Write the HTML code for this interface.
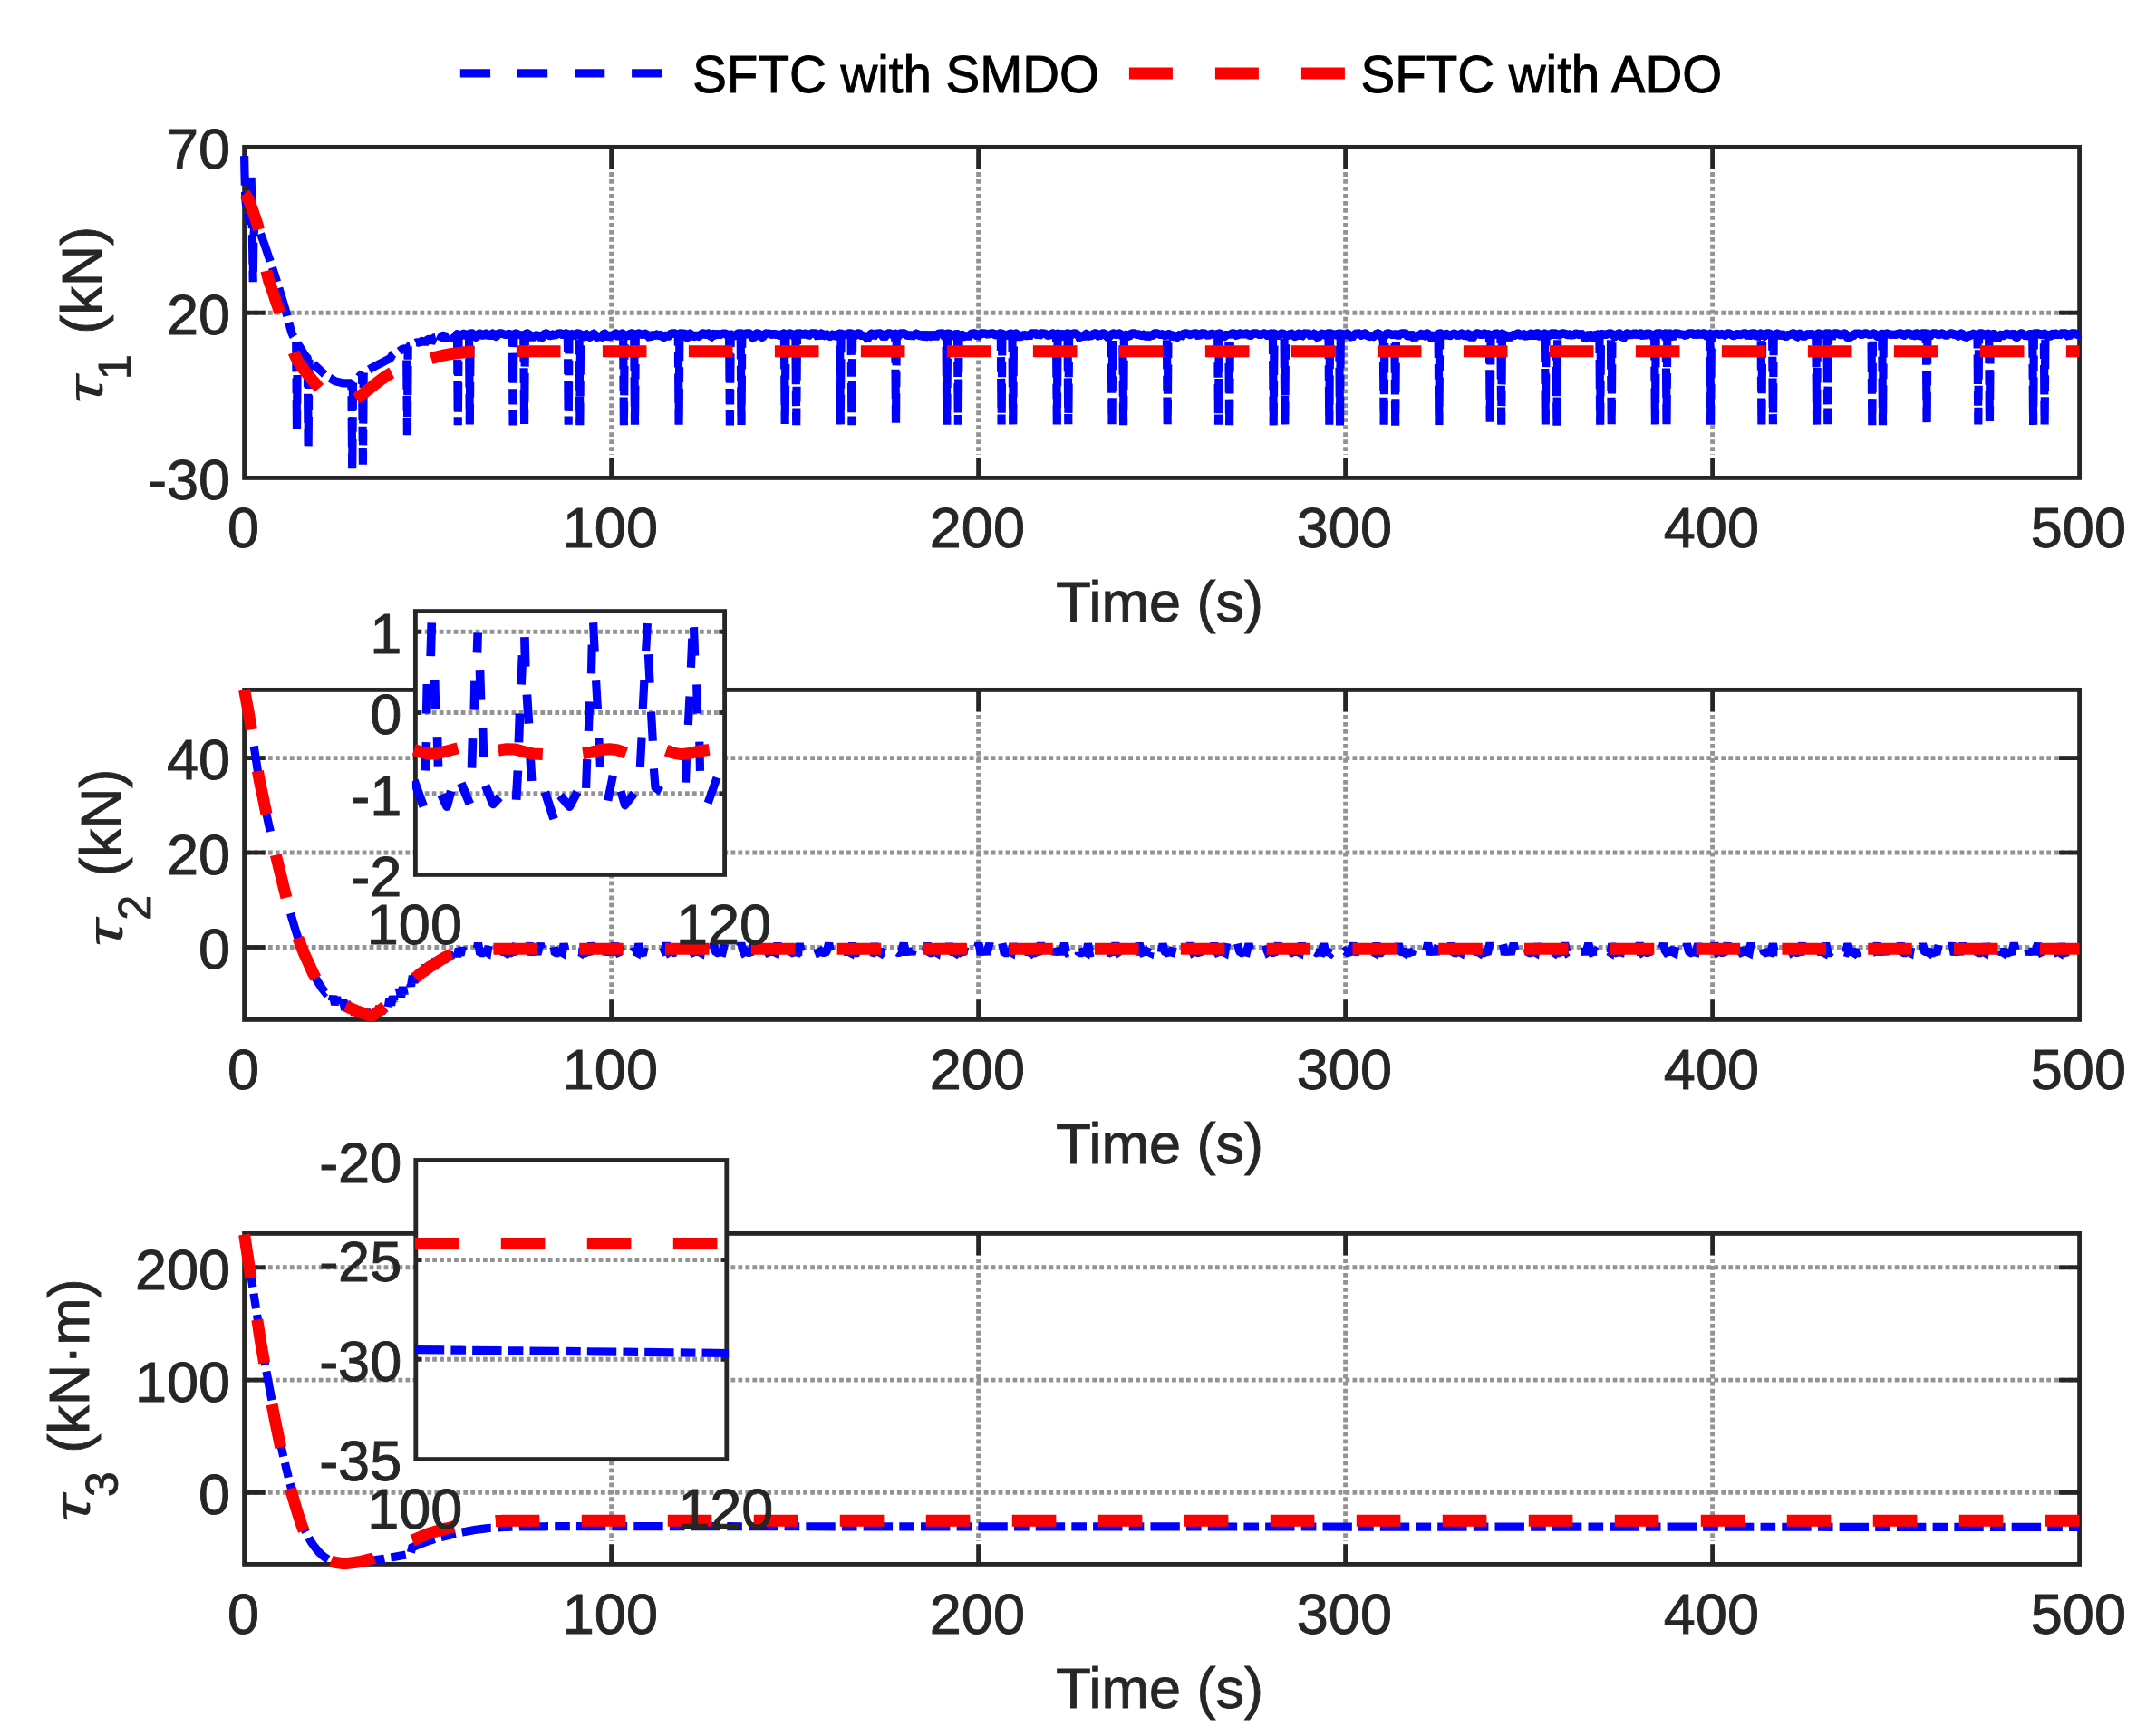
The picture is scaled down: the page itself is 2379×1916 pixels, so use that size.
<!DOCTYPE html>
<html lang="en"><head><meta charset="utf-8"><title>Control inputs: SFTC with SMDO vs SFTC with ADO</title>
<style>
html,body{margin:0;padding:0;background:#fff;}
body{width:2379px;height:1916px;overflow:hidden;}
svg{display:block;}
.t{font-family:"Liberation Sans", sans-serif;font-size:63px;fill:#262626;stroke:#262626;stroke-width:0.9px;}
.sub{font-size:50px;}
.lg{font-family:"Liberation Sans", sans-serif;font-size:56.5px;fill:#000;stroke:#000;stroke-width:0.9px;}
.g{stroke:#939393;stroke-width:4.9;stroke-dasharray:4.79 3.187;fill:none;}
.bx{fill:none;stroke:#262626;stroke-width:4.85;}
.tk{stroke:#262626;stroke-width:4.85;fill:none;}
</style></head>
<body>
<svg width="2379" height="1916" viewBox="0 0 2379 1916">
<rect width="2379" height="1916" fill="#fff"/>
<line x1="674.6" y1="190.1" x2="674.6" y2="502" class="g"/>
<line x1="1079.6" y1="190.1" x2="1079.6" y2="502" class="g"/>
<line x1="1484.6" y1="190.1" x2="1484.6" y2="502" class="g"/>
<line x1="1889.6" y1="190.1" x2="1889.6" y2="502" class="g"/>
<line x1="272" y1="345.2" x2="2292.2" y2="345.2" class="g"/>
<rect x="269.6" y="162.4" width="2025" height="365" class="bx"/>
<line x1="674.6" y1="527.4" x2="674.6" y2="505.2" class="tk"/>
<line x1="674.6" y1="162.4" x2="674.6" y2="186.6" class="tk"/>
<line x1="1079.6" y1="527.4" x2="1079.6" y2="505.2" class="tk"/>
<line x1="1079.6" y1="162.4" x2="1079.6" y2="186.6" class="tk"/>
<line x1="1484.6" y1="527.4" x2="1484.6" y2="505.2" class="tk"/>
<line x1="1484.6" y1="162.4" x2="1484.6" y2="186.6" class="tk"/>
<line x1="1889.6" y1="527.4" x2="1889.6" y2="505.2" class="tk"/>
<line x1="1889.6" y1="162.4" x2="1889.6" y2="186.6" class="tk"/>
<line x1="269.6" y1="345.2" x2="292.6" y2="345.2" class="tk"/>
<line x1="2294.6" y1="345.2" x2="2271.6" y2="345.2" class="tk"/>
<text x="268.4" y="604.2" text-anchor="middle" class="t">0</text>
<text x="673.4" y="604.2" text-anchor="middle" class="t">100</text>
<text x="1078.4" y="604.2" text-anchor="middle" class="t">200</text>
<text x="1483.4" y="604.2" text-anchor="middle" class="t">300</text>
<text x="1888.4" y="604.2" text-anchor="middle" class="t">400</text>
<text x="2293.4" y="604.2" text-anchor="middle" class="t">500</text>
<text x="254" y="186.4" text-anchor="end" class="t">70</text>
<text x="254" y="368.9" text-anchor="end" class="t">20</text>
<text x="254" y="551.4" text-anchor="end" class="t">-30</text>
<text x="1279.6" y="685.8" text-anchor="middle" class="t">Time (s)</text>
<text transform="translate(113.3 445.7) rotate(-90) scale(1.27 0.86)" class="t" font-style="italic" style="stroke:none">τ</text>
<text transform="translate(144.2 405) rotate(-90)" class="t sub" text-anchor="middle">1</text>
<text transform="translate(111.8 309.3) rotate(-90)" class="t" text-anchor="middle">(kN)</text>
<path d="M498.4 371L498.8 371.5L499.2 372L499.6 372.5L500 373L500.5 373.5L500.9 373.3L501.3 372.7L501.7 372.1L502.1 371.5L502.5 371L502.9 370.4L503.3 369.8L503.7 369.3L504.1 368.7L504.5 368.6L504.9 368.6L505.3 368.9L505.7 369.2L506.1 369.5L506.5 369.8L506.9 370.2L507.3 370.5L507.7 370.8L508.1 370.9L508.6 370.6L509 370.3L509.4 369.9L509.8 369.6L510.2 369.2L510.6 368.9L511 368.6L511.4 368.4L511.8 368.4L512.2 368.6L512.6 368.9L513 369.3L513.4 369.6L513.8 370L514.2 370.4L514.6 370.7L515 370.7L515.4 370.3L515.8 369.9L516.2 369.5L516.6 369.1L517.1 368.8L517.5 368.4L517.9 368.3L518.3 368.2L518.7 368.2L519.1 368.2L519.5 368.2L519.9 368.2L520.3 368.2L520.7 368.2L521.1 368.2L521.5 368.2L521.9 368.2L522.3 368.2L522.7 368.9L523.1 369.7L523.5 370.4L523.9 371.1L524.3 371.8L524.8 372.6L525.2 372.6L525.6 371.9L526 371.1L526.4 370.4L526.8 369.7L527.2 369L527.6 368.2L528 368.2L528.4 368.2L528.8 368.2L529.2 368.2L529.6 368.2L530 368.2L530.4 368.4L530.8 368.8L531.2 369.1L531.6 369.4L532 369.8L532.4 370.1L532.9 370.5L533.3 370.7L533.7 370.3L534.1 370L534.5 369.7L534.9 369.3L535.3 369L535.7 368.6L536.1 368.3L536.5 368.2L536.9 368.2L537.3 368.6L537.7 369.1L538.1 369.6L538.5 370.2L538.9 370.7L539.3 371.2L539.7 371.8L540.1 371.4L540.5 370.9L541 370.4L541.4 369.8L541.8 369.3L542.2 368.8L542.6 368.2L543 368.2L543.4 368.2L543.8 368.2L544.2 368.2L544.6 368.6L545 369.1L545.4 369.6L545.8 370.1L546.2 370.6L546.6 371.1L547 371.6L547.4 371.6L547.8 371.1L548.2 370.5L548.6 370L549 369.5L549.5 369L549.9 368.5L550.3 368.2L550.7 368.2L551.1 368.2L551.5 368.2L551.9 368.2L552.3 368.2L552.7 368.2L553.1 368.2L553.5 368.2L553.9 368.2L554.3 368.3L554.7 368.4L555.1 368.6L555.5 368.8L555.9 368.9L556.3 369.1L556.7 369.2L557.2 369.4L557.6 369.5L558 369.6L558.4 369.5L558.8 369.3L559.2 369.1L559.6 369L560 368.8L560.4 368.7L560.8 368.5L561.2 368.4L561.6 368.3L562 368.6L562.4 368.9L562.8 369.2L563.2 369.5L563.6 369.8L564 370.1L564.4 370.3L564.8 370.6L565.2 370.6L565.7 370.3L566.1 370L566.5 369.7L566.9 369.4L567.3 369.1L567.7 368.8L568.1 368.5L568.5 368.2L568.9 368.2L569.3 368.2L569.7 368.2L570.1 368.2L570.5 368.2L570.9 368.2L571.3 368.6L571.7 369.2L572.1 369.7L572.5 370.3L572.9 370.6L573.4 370.1L573.8 369.5L574.2 368.9L574.6 368.4L575 368.9L575.4 369.3L575.8 369.8L576.2 370.3L576.6 370.7L577 371.2L577.4 371.6L577.8 371.6L578.2 371.1L578.6 370.7L579 370.2L579.4 369.7L579.8 369.3L580.2 368.8L580.6 368.4L581 368.2L581.5 368.2L581.9 368.2L582.3 368.2L582.7 368.2L583.1 368.2L583.5 368.8L583.9 369.5L584.3 370.1L584.7 370.8L585.1 371.4L585.5 372.1L585.9 372.8L586.3 373.4L586.7 374L587.1 373.4L587.5 372.7L587.9 372.1L588.3 371.4L588.7 370.7L589.1 370.1L589.5 369.6L590 369.9L590.4 370.2L590.8 370.5L591.2 370.7L591.6 370.4L592 370.1L592.4 369.8L592.8 369.5L593.2 369.2L593.6 369.6L594 370.1L594.4 370.7L594.8 371.2L595.2 371.8L595.6 372.3L596 372.9L596.4 373.4L596.8 374L597.2 373.6L597.7 373L598.1 372.5L598.5 371.9L598.9 371.4L599.3 370.8L599.7 370.3L600.1 369.7L600.5 369.2L600.9 368.6L601.3 368.2L601.7 368.2L602.1 368.2L602.5 368.2L602.9 368.2L603.3 368.3L603.7 368.6L604.1 368.8L604.5 369.1L604.9 369.4L605.3 369.6L605.8 369.9L606.2 370.1L606.6 370.4L607 370.6L607.4 370.6L607.8 370.3L608.2 370.1L608.6 369.8L609 369.6L609.4 369.3L609.8 369.1L610.2 369.1L610.6 369.5L611 369.8L611.4 370.1L611.8 370.5L612.2 370.7L612.6 370.3L613 370L613.4 369.7L613.9 369.3L614.3 369L614.7 368.6L615.1 368.3L615.5 368.2L615.9 368.2L616.3 368.2L616.7 368.2L617.1 368.2L617.5 368.2L617.9 368.2L618.3 368.2L618.7 368.2L619.1 368.2L619.5 368.3L619.9 368.8L620.3 369.3L620.7 369.7L621.1 370.2L621.5 370.7L622 370.3L622.4 369.9L622.8 369.4L623.2 368.9L623.6 368.4L624 368.2L624.4 368.2L624.8 368.2L625.2 368.2L625.6 368.2L626 368.6L626.4 369L626.8 369.4L627.2 369.8L627.6 370.2L628 370.6L628.4 370.5L628.8 370.1L629.2 369.7L629.6 369.3L630 368.9L630.5 368.5L630.9 368.6L631.3 368.9L631.7 369.3L632.1 369.6L632.5 370L632.9 370.3L633.3 370.6L633.7 370.5L634.1 370.2L634.5 369.8L634.9 369.5L635.3 369.1L635.7 368.8L636.1 368.4L636.5 368.2L636.9 368.2L637.3 368.2L637.7 368.2L638.2 368.2L638.6 368.2L639 368.2L639.4 368.2L639.8 368.2L640.2 368.6L640.6 369.2L641 369.8L641.4 370.4L641.8 371L642.2 371.6L642.6 372.2L643 372.8L643.4 372.5L643.8 371.9L644.2 371.3L644.6 370.7L645 370.1L645.4 369.5L645.8 368.9L646.2 368.3L646.7 368.5L647.1 369L647.5 369.5L647.9 369.9L648.3 370.4L648.7 370.8L649.1 371.3L649.5 371.8L649.9 372.2L650.3 372.7L650.7 372.7L651.1 372.3L651.5 371.8L651.9 371.3L652.3 370.9L652.7 370.4L653.1 370L653.5 369.5L653.9 369L654.4 368.6L654.8 368.2L655.2 368.2L655.6 368.6L656 369.1L656.4 369.5L656.8 369.9L657.2 370.4L657.6 370.8L658 371.3L658.4 371.7L658.8 372.2L659.2 372.6L659.6 372.8L660 372.4L660.4 371.9L660.8 371.5L661.2 371L661.6 370.6L662 370.1L662.5 370.4L662.9 371.1L663.3 371.9L663.7 372.6L664.1 372.5L664.5 371.7L664.9 371L665.3 370.2L665.7 369.5L666.1 368.7L666.5 368.2L666.9 368.2L667.3 368.2L667.7 368.3L668.1 368.8L668.5 369.3L668.9 369.8L669.3 370.4L669.7 370.9L670.1 371.4L670.5 371.9L671 372.4L671.4 372.9L671.8 372.4L672.2 371.9L672.6 371.4L673 370.9L673.4 370.3L673.8 369.8L674.2 369.3L674.6 368.8L675 369.2L675.4 369.9L675.8 370.6L676.2 371.4L676.6 371.6L677 370.8L677.4 370.1L677.8 369.4L678.2 368.6L678.6 368.2L679.1 368.2L679.5 368.2L679.9 368.2L680.3 368.3L680.7 369L681.1 369.6L681.5 370.3L681.9 370.9L682.3 371.6L682.7 372.2L683.1 372.9L683.5 372.3L683.9 371.7L684.3 371L684.7 370.4L685.1 369.7L685.5 369.1L685.9 368.4L686.3 368.2L686.8 368.2L687.2 368.2L687.6 368.2L688 368.6L688.4 368.9L688.8 369.3L689.2 369.7L689.6 370L690 370.4L690.4 370.8L690.8 371.2L691.2 371.5L691.6 371.8L692 371.4L692.4 371L692.8 370.7L693.2 370.3L693.6 369.9L694 369.6L694.4 369.2L694.9 368.8L695.3 368.5L695.7 368.2L696.1 368.2L696.5 368.2L696.9 368.2L697.3 368.2L697.7 368.2L698.1 368.2L698.5 368.3L698.9 368.5L699.3 368.7L699.7 368.9L700.1 369.1L700.5 369.3L700.9 369.5L701.3 369.6L701.7 369.4L702.1 369.2L702.5 369L703 368.8L703.4 368.6L703.8 368.4L704.2 368.2L704.6 368.2L705 368.2L705.4 368.2L705.8 368.4L706.2 368.6L706.6 368.8L707 368.9L707.4 369.1L707.8 369.3L708.2 369.5L708.6 369.6L709 369.5L709.4 369.3L709.8 369.1L710.2 368.9L710.6 368.7L711 368.5L711.5 368.4L711.9 368.2L712.3 368.2L712.7 368.2L713.1 368.6L713.5 369L713.9 369.4L714.3 369.9L714.7 370.3L715.1 370.8L715.5 371.2L715.9 371.7L716.3 372.1L716.7 372.6L717.1 372.9L717.5 372.4L717.9 372L718.3 371.5L718.7 371.1L719.1 370.6L719.6 370.2L720 369.7L720.4 369.5L720.8 369.8L721.2 370.1L721.6 370.4L722 370.7L722.4 370.5L722.8 370.2L723.2 369.9L723.6 369.6L724 369.3L724.4 369L724.8 369L725.2 369.3L725.6 369.7L726 370L726.4 370.3L726.8 370.6L727.2 370.6L727.7 370.3L728.1 370L728.5 369.7L728.9 369.4L729.3 369.4L729.7 369.8L730.1 370.3L730.5 370.8L730.9 371.3L731.3 371.7L731.7 372.2L732.1 372.7L732.5 372.7L732.9 372.3L733.3 371.8L733.7 371.3L734.1 370.9L734.5 370.4L734.9 370.3L735.4 370.6L735.8 371L736.2 371.4L736.6 371.8L737 371.5L737.4 371.2L737.8 370.8L738.2 370.4L738.6 370L739 369.6L739.4 369.3L739.8 368.9L740.2 368.5L740.6 368.2L741 368.2L741.4 368.2L741.8 368.2L742.2 368.2L742.6 368.2L743 368.2L743.5 368.2L743.9 368.2L744.3 368.2L744.7 368.2L745.1 368.2L745.5 368.2L745.9 368.6L746.3 369.1L746.7 369.5L747.1 370L747.5 370.4L747.9 370.6L748.3 370.2L748.7 369.7L749.1 369.3L749.5 368.8L749.9 368.3L750.3 368.2L750.7 368.2L751.1 368.2L751.5 368.2L752 368.2L752.4 368.2L752.8 368.2L753.2 368.2L753.6 368.2L754 368.2L754.4 368.2L754.8 368.2L755.2 368.2L755.6 368.2L756 368.5L756.4 369.5L756.8 370.5L757.2 371.5L757.6 372.5L758 373.5L758.4 373.5L758.8 372.5L759.2 371.5L759.6 370.5L760.1 369.5L760.5 368.5L760.9 368.2L761.3 368.2L761.7 368.4L762.1 368.8L762.5 369.1L762.9 369.5L763.3 369.9L763.7 370.2L764.1 370.6L764.5 370.9L764.9 371.3L765.3 371.7L765.7 371.6L766.1 371.3L766.5 370.9L766.9 370.5L767.3 370.2L767.8 369.8L768.2 369.5L768.6 369.8L769 370.2L769.4 370.5L769.8 370.9L770.2 371.3L770.6 371.7L771 371.7L771.4 371.3L771.8 370.9L772.2 370.5L772.6 370.2L773 369.8L773.4 369.4L773.8 369L774.2 368.7L774.6 368.3L775 368.2L775.4 368.2L775.9 368.2L776.3 368.2L776.7 368.2L777.1 368.3L777.5 368.6L777.9 368.9L778.3 369.2L778.7 369.5L779.1 369.5L779.5 369.2L779.9 368.8L780.3 368.5L780.7 368.2L781.1 368.2L781.5 368.2L781.9 368.2L782.3 368.2L782.7 368.2L783.1 368.5L783.5 369.5L784 370.5L784.4 371.5L784.8 372.5L785.2 372.4L785.6 371.4L786 370.4L786.4 369.4L786.8 368.4L787.2 368.4L787.6 368.9L788 369.4L788.4 369.9L788.8 370.4L789.2 370.5L789.6 370L790 369.5L790.4 369L790.8 368.5L791.2 368.3L791.6 368.5L792 368.7L792.5 368.9L792.9 369L793.3 369.2L793.7 369.4L794.1 369.6L794.5 369.5L794.9 369.3L795.3 369.2L795.7 369L796.1 368.8L796.5 368.6L796.9 368.4L797.3 368.2L797.7 368.2L798.1 368.2L798.5 368.2L798.9 368.2L799.3 368.2L799.7 368.2L800.1 368.2L800.6 368.2L801 368.2L801.4 368.5L801.8 368.9L802.2 369.4L802.6 369.9L803 370.4L803.4 370.7L803.8 370.2L804.2 369.7L804.6 369.2L805 368.8L805.4 368.3L805.8 368.5L806.2 368.8L806.6 369.2L807 369.5L807.4 369.9L807.8 370.2L808.2 370.5L808.7 370.9L809.1 371.2L809.5 371.6L809.9 371.8L810.3 371.4L810.7 371.1L811.1 370.7L811.5 370.4L811.9 370.1L812.3 369.7L812.7 369.4L813.1 369L813.5 368.7L813.9 368.3L814.3 368.2L814.7 368.2L815.1 368.2L815.5 368.2L815.9 368.2L816.4 368.2L816.8 368.2L817.2 368.2L817.6 368.2L818 368.2L818.4 368.2L818.8 368.2L819.2 368.2L819.6 368.7L820 369.3L820.4 369.8L820.8 370.4L821.2 370.6L821.6 370L822 369.4L822.4 368.9L822.8 368.3L823.2 368.2L823.6 368.2L824 368.2L824.5 368.2L824.9 368.2L825.3 368.2L825.7 368.2L826.1 368.2L826.5 368.2L826.9 368.2L827.3 368.2L827.7 368.2L828.1 368.2L828.5 368.9L828.9 369.7L829.3 370.4L829.7 371.2L830.1 372L830.5 372.8L830.9 373.6L831.3 373.7L831.7 372.9L832.1 372.2L832.5 371.4L833 370.6L833.4 369.8L833.8 369L834.2 368.3L834.6 368.2L835 368.2L835.4 368.2L835.8 368.2L836.2 368.2L836.6 368.2L837 368.2L837.4 368.2L837.8 368.7L838.2 369.3L838.6 369.9L839 370.4L839.4 371L839.8 371.5L840.2 372.1L840.6 372.7L841.1 372.7L841.5 372.1L841.9 371.5L842.3 371L842.7 370.4L843.1 369.9L843.5 369.3L843.9 368.7L844.3 368.2L844.7 368.2L845.1 368.2L845.5 368.2L845.9 368.2L846.3 368.2L846.7 368.2L847.1 368.2L847.5 368.2L847.9 368.2L848.3 368.2L848.8 368.2L849.2 368.4L849.6 368.7L850 368.9L850.4 369.1L850.8 369.4L851.2 369.6L851.6 369.5L852 369.2L852.4 369L852.8 368.8L853.2 368.5L853.6 368.4L854 368.5L854.4 368.6L854.8 368.8L855.2 368.9L855.6 369.1L856 369.2L856.4 369.3L856.9 369.5L857.3 369.6L857.7 369.5L858.1 369.4L858.5 369.3L858.9 369.1L859.3 369L859.7 368.8L860.1 369.1L860.5 369.8L860.9 370.6L861.3 371.3L861.7 371.7L862.1 370.9L862.5 370.2L862.9 369.4L863.3 368.7L863.7 368.2L864.1 368.2L864.5 368.2L865 368.2L865.4 368.2L865.8 368.2L866.2 368.4L866.6 368.8L867 369.3L867.4 369.7L867.8 370.2L868.2 370.6L868.6 370.4L869 370L869.4 369.5L869.8 369.1L870.2 368.6L870.6 368.2L871 368.2L871.4 368.2L871.8 368.2L872.2 368.2L872.6 368.2L873 368.2L873.5 368.2L873.9 368.7L874.3 369.3L874.7 369.8L875.1 370.4L875.5 371L875.9 371.5L876.3 371.6L876.7 371.1L877.1 370.5L877.5 370L877.9 369.4L878.3 368.8L878.7 368.3L879.1 368.2L879.5 368.2L879.9 368.2L880.3 368.2L880.7 368.2L881.1 368.2L881.6 368.2L882 368.2L882.4 368.2L882.8 368.2L883.2 368.2L883.6 368.4L884 368.7L884.4 368.9L884.8 369.2L885.2 369.4L885.6 369.6L886 369.4L886.4 369.1L886.8 368.9L887.2 368.6L887.6 368.4L888 368.2L888.4 368.2L888.8 368.2L889.2 368.2L889.7 368.2L890.1 368.5L890.5 368.9L890.9 369.3L891.3 369.8L891.7 370.2L892.1 370.6L892.5 370.4L892.9 370L893.3 369.5L893.7 369.1L894.1 368.7L894.5 368.2L894.9 368.2L895.3 368.2L895.7 368.2L896.1 368.2L896.5 368.2L896.9 368.2L897.4 368.2L897.8 368.2L898.2 368.2L898.6 368.2L899 368.2L899.4 368.2L899.8 368.2L900.2 368.2L900.6 368.2L901 368.6L901.4 369.5L901.8 370.4L902.2 371.3L902.6 372.2L903 372.8L903.4 371.8L903.8 370.9L904.2 370L904.6 369.1L905 368.2L905.5 368.2L905.9 368.2L906.3 368.2L906.7 368.2L907.1 368.5L907.5 368.9L907.9 369.2L908.3 369.6L908.7 369.9L909.1 370.3L909.5 370.6L909.9 370.6L910.3 370.2L910.7 369.9L911.1 369.5L911.5 369.2L911.9 368.8L912.3 368.9L912.7 369.3L913.1 369.6L913.5 370L914 370.3L914.4 370.7L914.8 371L915.2 371.4L915.6 371.7L916 371.6L916.4 371.3L916.8 370.9L917.2 370.6L917.6 370.3L918 369.9L918.4 369.6L918.8 369.2L919.2 368.9L919.6 368.7L920 369.1L920.4 369.5L920.8 370L921.2 370.4L921.6 370.8L922.1 371.3L922.5 371.7L922.9 371.5L923.3 371.1L923.7 370.7L924.1 370.2L924.5 369.8L924.9 369.4L925.3 368.9L925.7 368.5L926.1 368.2L926.5 368.2L926.9 368.2L927.3 368.2L927.7 368.2L928.1 368.2L928.5 368.3L928.9 368.4L929.3 368.6L929.8 368.7L930.2 368.9L930.6 369.1L931 369.2L931.4 369.4L931.8 369.5L932.2 369.6L932.6 369.5L933 369.3L933.4 369.2L933.8 369L934.2 368.8L934.6 368.7L935 368.5L935.4 368.4L935.8 368.2L936.2 368.2L936.6 368.2L937 368.2L937.4 368.2L937.9 368.2L938.3 368.2L938.7 368.2L939.1 368.2L939.5 368.2L939.9 368.2L940.3 368.2L940.7 368.5L941.1 369.1L941.5 369.6L941.9 370.2L942.3 370.8L942.7 371.3L943.1 371.8L943.5 371.2L943.9 370.6L944.3 370.1L944.7 369.5L945.1 368.9L945.5 368.3L946 368.2L946.4 368.2L946.8 368.2L947.2 368.2L947.6 368.2L948 368.2L948.4 368.2L948.8 368.5L949.2 368.9L949.6 369.4L950 369.8L950.4 370.2L950.8 370.6L951.2 371L951.6 371.4L952 371.8L952.4 371.4L952.8 371L953.2 370.6L953.6 370.2L954 369.9L954.5 370.4L954.9 371L955.3 371.5L955.7 372.1L956.1 372.6L956.5 373.2L956.9 373.7L957.3 373.8L957.7 373.3L958.1 372.7L958.5 372.2L958.9 371.6L959.3 371.1L959.7 370.6L960.1 370L960.5 369.5L960.9 368.9L961.3 368.4L961.7 368.2L962.1 368.2L962.6 368.6L963 369.3L963.4 370.1L963.8 370.9L964.2 371.6L964.6 371.3L965 370.5L965.4 369.7L965.8 369L966.2 368.2L966.6 368.2L967 368.2L967.4 368.2L967.8 368.2L968.2 368.2L968.6 368.2L969 368.2L969.4 368.2L969.8 368.2L970.2 368.2L970.7 368.2L971.1 368.2L971.5 368.2L971.9 368.2L972.3 368.5L972.7 369.1L973.1 369.6L973.5 370.2L973.9 370.7L974.3 371.3L974.7 371.8L975.1 372.4L975.5 372.9L975.9 372.4L976.3 371.9L976.7 371.3L977.1 370.8L977.5 370.2L977.9 369.7L978.4 369.1L978.8 368.6L979.2 368.2L979.6 368.2L980 368.2L980.4 368.2L980.8 368.2L981.2 368.2L981.6 368.2L982 368.2L982.4 368.2L982.8 368.4L983.2 368.6L983.6 368.8L984 369L984.4 369.3L984.8 369.5L985.2 369.6L985.6 369.4L986 369.2L986.5 368.9L986.9 368.7L987.3 368.5L987.7 368.3L988.1 368.2L988.5 368.2L988.9 368.2L989.3 368.8L989.7 369.6L990.1 370.3L990.5 371L990.9 371.7L991.3 371.3L991.7 370.6L992.1 369.8L992.5 369.1L992.9 368.4L993.3 368.2L993.7 368.2L994.1 368.2L994.5 368.2L995 368.2L995.4 368.2L995.8 368.2L996.2 368.2L996.6 368.2L997 368.2L997.4 368.2L997.8 368.2L998.2 368.2L998.6 368.2L999 368.6L999.4 368.9L999.8 369.3L1000.2 369.6L1000.6 370L1001 370.3L1001.4 370.6L1001.8 370.5L1002.2 370.2L1002.6 369.8L1003.1 369.5L1003.5 369.2L1003.9 369.5L1004.3 369.9L1004.7 370.3L1005.1 370.7L1005.5 371L1005.9 371.4L1006.3 371.8L1006.7 371.5L1007.1 371.2L1007.5 370.8L1007.9 370.4L1008.3 370.1L1008.7 369.7L1009.1 369.3L1009.5 368.9L1009.9 368.6L1010.3 368.2L1010.8 368.2L1011.2 368.2L1011.6 368.5L1012 368.7L1012.4 369L1012.8 369.3L1013.2 369.5L1013.6 369.8L1014 370.1L1014.4 370.3L1014.8 370.6L1015.2 370.6L1015.6 370.4L1016 370.1L1016.4 369.8L1016.8 369.6L1017.2 369.3L1017.6 369.4L1018 370L1018.4 370.6L1018.9 371.1L1019.3 371.7L1019.7 372.3L1020.1 372.9L1020.5 372.5L1020.9 371.9L1021.3 371.3L1021.7 370.7L1022.1 370.2L1022.5 369.6L1022.9 369L1023.3 368.7L1023.7 369.1L1024.1 369.6L1024.5 370L1024.9 370.4L1025.3 370.8L1025.7 371.3L1026.1 371.7L1026.5 371.6L1027 371.1L1027.4 370.7L1027.8 370.3L1028.2 369.9L1028.6 369.4L1029 369L1029.4 368.6L1029.8 369L1030.2 369.7L1030.6 370.3L1031 371L1031.4 371.6L1031.8 372.3L1032.2 372.9L1032.6 372.3L1033 371.6L1033.4 371L1033.8 370.3L1034.2 369.7L1034.6 369L1035 368.4L1035.5 368.2L1035.9 368.2L1036.3 368.2L1036.7 368.2L1037.1 368.2L1037.5 368.2L1037.9 368.2L1038.3 368.2L1038.7 368.2L1039.1 368.2L1039.5 368.2L1039.9 368.2L1040.3 368.2L1040.7 368.3L1041.1 369.2L1041.5 370.1L1041.9 371L1042.3 371.9L1042.7 372.9L1043.2 372.1L1043.6 371.2L1044 370.2L1044.4 369.3L1044.8 368.4L1045.2 368.2L1045.6 368.2L1046 368.2L1046.4 368.2L1046.8 368.2L1047.2 368.2L1047.6 368.2L1048 368.4L1048.4 368.7L1048.8 368.9L1049.2 369.2L1049.6 369.5L1050 369.7L1050.4 370L1050.8 370.3L1051.2 370.6L1051.7 370.7L1052.1 370.4L1052.5 370.1L1052.9 369.9L1053.3 369.6L1053.7 369.3L1054.1 369L1054.5 368.8L1054.9 368.5L1055.3 368.2L1055.7 368.4L1056.1 368.7L1056.5 368.9L1056.9 369.1L1057.3 369.4L1057.7 369.6L1058.1 369.9L1058.5 370.1L1058.9 370.4L1059.3 370.6L1059.8 370.6L1060.2 370.4L1060.6 370.1L1061 369.9L1061.4 369.6L1061.8 369.4L1062.2 369.4L1062.6 369.9L1063 370.5L1063.4 371L1063.8 371.6L1064.2 371.6L1064.6 371L1065 370.5L1065.4 369.9L1065.8 369.4L1066.2 369.9L1066.6 370.5L1067 371.1L1067.4 371.7L1067.9 372.3L1068.3 372.9L1068.7 372.4L1069.1 371.9L1069.5 371.3L1069.9 370.7L1070.3 370.1L1070.7 369.5L1071.1 368.9L1071.5 368.4L1071.9 368.2L1072.3 368.2L1072.7 368.2L1073.1 368.2L1073.5 368.2L1073.9 368.2L1074.3 368.2L1074.7 368.2L1075.1 368.2L1075.5 368.2L1076 368.2L1076.4 368.4L1076.8 369L1077.2 369.5L1077.6 370.1L1078 370.6L1078.4 371.2L1078.8 371.7L1079.2 371.4L1079.6 370.9L1080 370.3L1080.4 369.8L1080.8 369.2L1081.2 368.7L1081.6 368.2L1082 368.2L1082.4 368.2L1082.8 368.2L1083.2 368.2L1083.7 368.2L1084.1 368.2L1084.5 368.2L1084.9 368.2L1085.3 368.2L1085.7 368.2L1086.1 368.2L1086.5 368.2L1086.9 368.2L1087.3 368.2L1087.7 368.2L1088.1 368.2L1088.5 368.5L1088.9 368.8L1089.3 369.1L1089.7 369.4L1090.1 369.6L1090.5 369.3L1090.9 369L1091.3 368.7L1091.8 368.4L1092.2 368.2L1092.6 368.2L1093 368.2L1093.4 368.2L1093.8 368.2L1094.2 368.2L1094.6 368.2L1095 368.2L1095.4 368.2L1095.8 368.2L1096.2 368.2L1096.6 368.2L1097 368.5L1097.4 368.8L1097.8 369.2L1098.2 369.6L1098.6 369.9L1099 370.3L1099.4 370.7L1099.8 370.4L1100.3 370.1L1100.7 369.7L1101.1 369.3L1101.5 368.9L1101.9 368.6L1102.3 368.2L1102.7 368.2L1103.1 368.2L1103.5 368.2L1103.9 368.2L1104.3 368.2L1104.7 368.2L1105.1 368.2L1105.5 368.2L1105.9 368.3L1106.3 368.5L1106.7 368.8L1107.1 369L1107.5 369.3L1107.9 369.5L1108.4 369.8L1108.8 370L1109.2 370.3L1109.6 370.5L1110 370.7L1110.4 370.5L1110.8 370.2L1111.2 370L1111.6 369.7L1112 369.5L1112.4 369.2L1112.8 369L1113.2 368.7L1113.6 368.5L1114 368.2L1114.4 368.2L1114.8 368.2L1115.2 368.2L1115.6 368.2L1116 368.2L1116.5 368.2L1116.9 368.4L1117.3 368.9L1117.7 369.4L1118.1 370L1118.5 370.5L1118.9 370.5L1119.3 370L1119.7 369.5L1120.1 368.9L1120.5 368.4L1120.9 368.2L1121.3 368.2L1121.7 368.4L1122.1 369.2L1122.5 370L1122.9 370.8L1123.3 371.6L1123.7 372.4L1124.2 373.3L1124.6 374L1125 373.2L1125.4 372.3L1125.8 371.5L1126.2 370.7L1126.6 369.9L1127 369.1L1127.4 369.3L1127.8 369.6L1128.2 369.8L1128.6 370.1L1129 370.3L1129.4 370.5L1129.8 370.7L1130.2 370.5L1130.6 370.2L1131 370L1131.4 369.7L1131.8 369.5L1132.2 369.2L1132.7 369L1133.1 368.7L1133.5 369.6L1133.9 370.5L1134.3 371.4L1134.7 372.2L1135.1 372.8L1135.5 371.9L1135.9 371L1136.3 370.1L1136.7 369.2L1137.1 368.3L1137.5 368.2L1137.9 368.2L1138.3 368.2L1138.7 368.2L1139.1 368.2L1139.5 368.2L1139.9 368.2L1140.3 368.2L1140.8 368.2L1141.2 368.2L1141.6 368.2L1142 368.2L1142.4 368.2L1142.8 368.2L1143.2 368.2L1143.6 368.2L1144 368.2L1144.4 368.7L1144.8 369.5L1145.2 370.2L1145.6 371L1146 371.8L1146.4 371.2L1146.8 370.4L1147.2 369.6L1147.6 368.9L1148 368.2L1148.4 368.2L1148.9 368.2L1149.3 368.2L1149.7 368.2L1150.1 368.2L1150.5 368.2L1150.9 368.2L1151.3 368.2L1151.7 368.2L1152.1 368.2L1152.5 368.2L1152.9 368.2L1153.3 368.3L1153.7 368.6L1154.1 368.9L1154.5 369.1L1154.9 369.4L1155.3 369.7L1155.7 370L1156.1 370.2L1156.5 370.5L1157 370.7L1157.4 370.4L1157.8 370.2L1158.2 369.9L1158.6 369.6L1159 369.3L1159.4 369.1L1159.8 368.8L1160.2 368.5L1160.6 368.2L1161 368.2L1161.4 368.2L1161.8 368.2L1162.2 368.2L1162.6 368.2L1163 368.5L1163.4 368.7L1163.8 369L1164.2 369.3L1164.7 369.6L1165.1 369.5L1165.5 369.2L1165.9 368.9L1166.3 368.6L1166.7 368.3L1167.1 368.2L1167.5 368.2L1167.9 368.2L1168.3 368.5L1168.7 368.8L1169.1 369.1L1169.5 369.4L1169.9 369.6L1170.3 369.3L1170.7 369L1171.1 368.7L1171.5 368.4L1171.9 368.2L1172.3 368.5L1172.8 369.7L1173.2 370.8L1173.6 372L1174 373.1L1174.4 373.8L1174.8 372.7L1175.2 371.5L1175.6 370.4L1176 369.2L1176.4 368.2L1176.8 368.2L1177.2 368.2L1177.6 368.2L1178 368.2L1178.4 368.2L1178.8 368.2L1179.2 368.2L1179.6 368.2L1180 368.4L1180.4 368.7L1180.8 368.9L1181.3 369.2L1181.7 369.4L1182.1 369.6L1182.5 369.4L1182.9 369.2L1183.3 368.9L1183.7 368.7L1184.1 368.4L1184.5 368.2L1184.9 368.2L1185.3 368.2L1185.7 368.2L1186.1 368.2L1186.5 368.2L1186.9 368.2L1187.3 368.2L1187.7 368.2L1188.1 368.2L1188.5 368.2L1188.9 368.9L1189.4 369.6L1189.8 370.4L1190.2 371.2L1190.6 371.9L1191 372.7L1191.4 373.5L1191.8 373.8L1192.2 373L1192.6 372.3L1193 371.5L1193.4 370.7L1193.8 369.9L1194.2 369.4L1194.6 370.6L1195 371.9L1195.4 373.1L1195.8 373.8L1196.2 372.6L1196.6 371.4L1197 370.1L1197.5 368.9L1197.9 368.2L1198.3 368.2L1198.7 368.4L1199.1 368.7L1199.5 369.1L1199.9 369.4L1200.3 369.8L1200.7 370.1L1201.1 370.5L1201.5 370.8L1201.9 371.2L1202.3 371.6L1202.7 371.8L1203.1 371.4L1203.5 371.1L1203.9 370.7L1204.3 370.4L1204.7 370L1205.2 369.7L1205.6 369.3L1206 368.9L1206.4 368.6L1206.8 368.2L1207.2 368.2L1207.6 368.2L1208 368.2L1208.4 368.2L1208.8 368.2L1209.2 368.2L1209.6 368.2L1210 368.4L1210.4 368.9L1210.8 369.5L1211.2 370L1211.6 370.5L1212 371L1212.4 371.5L1212.8 371.7L1213.2 371.1L1213.7 370.6L1214.1 370.1L1214.5 369.6L1214.9 369.1L1215.3 368.6L1215.7 368.2L1216.1 368.2L1216.5 368.2L1216.9 368.2L1217.3 368.2L1217.7 368.2L1218.1 368.2L1218.5 368.2L1218.9 368.4L1219.3 368.9L1219.7 369.4L1220.1 369.8L1220.5 370.3L1220.9 370.8L1221.3 371.2L1221.8 371.7L1222.2 372.2L1222.6 372.6L1223 372.8L1223.4 372.3L1223.8 371.8L1224.2 371.4L1224.6 370.9L1225 370.4L1225.4 370L1225.8 369.5L1226.2 369L1226.6 368.6L1227 368.2L1227.4 368.2L1227.8 368.2L1228.2 368.2L1228.6 368.2L1229 368.2L1229.4 368.2L1229.9 368.4L1230.3 368.6L1230.7 368.8L1231.1 369.1L1231.5 369.3L1231.9 369.5L1232.3 369.6L1232.7 369.3L1233.1 369.1L1233.5 368.9L1233.9 368.6L1234.3 368.4L1234.7 368.2L1235.1 368.2L1235.5 368.2L1235.9 368.4L1236.3 368.8L1236.7 369.2L1237.1 369.5L1237.5 369.9L1238 370.3L1238.4 370.6L1238.8 371L1239.2 371.4L1239.6 371.7L1240 371.6L1240.4 371.2L1240.8 370.9L1241.2 370.5L1241.6 370.1L1242 369.7L1242.4 369.4L1242.8 369L1243.2 368.9L1243.6 369.4L1244 370L1244.4 370.5L1244.8 371L1245.2 371.5L1245.7 371.6L1246.1 371.1L1246.5 370.6L1246.9 370L1247.3 369.5L1247.7 369L1248.1 368.5L1248.5 368.2L1248.9 368.2L1249.3 368.2L1249.7 368.2L1250.1 368.2L1250.5 368.2L1250.9 368.2L1251.3 368.2L1251.7 368.2L1252.1 368.2L1252.5 368.4L1252.9 368.6L1253.3 368.8L1253.8 369L1254.2 369.2L1254.6 369.4L1255 369.5L1255.4 369.6L1255.8 369.4L1256.2 369.2L1256.6 369L1257 369L1257.4 369.2L1257.8 369.4L1258.2 369.7L1258.6 369.9L1259 370.2L1259.4 370.4L1259.8 370.7L1260.2 370.6L1260.6 370.4L1261 370.1L1261.4 369.9L1261.8 369.6L1262.3 369.4L1262.7 369.2L1263.1 368.9L1263.5 368.7L1263.9 369.3L1264.3 369.9L1264.7 370.5L1265.1 371.1L1265.5 371.7L1265.9 372.3L1266.3 372.9L1266.7 372.4L1267.1 371.8L1267.5 371.2L1267.9 370.6L1268.3 370L1268.7 369.4L1269.1 369.2L1269.5 370.2L1269.9 371.2L1270.4 372.2L1270.8 372.7L1271.2 371.8L1271.6 370.8L1272 369.8L1272.4 368.8L1272.8 368.2L1273.2 368.2L1273.6 368.2L1274 368.2L1274.4 368.2L1274.8 368.2L1275.2 368.2L1275.6 368.2L1276 368.2L1276.4 368.2L1276.8 368.2L1277.2 368.2L1277.6 368.4L1278 368.6L1278.5 368.7L1278.9 368.9L1279.3 369L1279.7 369.2L1280.1 369.4L1280.5 369.5L1280.9 369.6L1281.3 369.4L1281.7 369.3L1282.1 369.1L1282.5 368.9L1282.9 368.9L1283.3 369.2L1283.7 369.4L1284.1 369.6L1284.5 369.9L1284.9 370.1L1285.3 370.4L1285.7 370.6L1286.2 370.7L1286.6 370.4L1287 370.2L1287.4 370L1287.8 369.7L1288.2 369.5L1288.6 369.2L1289 369L1289.4 368.8L1289.8 368.5L1290.2 368.5L1290.6 368.9L1291 369.3L1291.4 369.7L1291.8 370.1L1292.2 370.5L1292.6 370.9L1293 371.3L1293.4 371.7L1293.8 371.6L1294.2 371.2L1294.7 370.8L1295.1 370.4L1295.5 370.1L1295.9 370L1296.3 370.5L1296.7 370.9L1297.1 371.4L1297.5 371.8L1297.9 372.3L1298.3 372.8L1298.7 372.7L1299.1 372.2L1299.5 371.8L1299.9 371.3L1300.3 370.9L1300.7 370.4L1301.1 369.9L1301.5 369.5L1301.9 369.4L1302.3 370L1302.8 370.6L1303.2 371.2L1303.6 371.7L1304 371.4L1304.4 370.8L1304.8 370.2L1305.2 369.7L1305.6 369.1L1306 368.5L1306.4 368.2L1306.8 368.2L1307.2 368.2L1307.6 368.2L1308 368.2L1308.4 368.2L1308.8 368.2L1309.2 368.2L1309.6 368.2L1310 368.3L1310.4 368.4L1310.9 368.6L1311.3 368.8L1311.7 369L1312.1 369.2L1312.5 369.4L1312.9 369.6L1313.3 369.6L1313.7 369.4L1314.1 369.2L1314.5 369L1314.9 368.8L1315.3 368.6L1315.7 368.4L1316.1 368.3L1316.5 368.2L1316.9 368.2L1317.3 368.2L1317.7 368.2L1318.1 368.2L1318.6 368.2L1319 368.2L1319.4 368.2L1319.8 368.2L1320.2 368.2L1320.6 368.2L1321 368.5L1321.4 369.2L1321.8 369.9L1322.2 370.6L1322.6 371.3L1323 371.7L1323.4 371L1323.8 370.3L1324.2 369.6L1324.6 368.9L1325 368.2L1325.4 368.2L1325.8 368.2L1326.2 368.2L1326.7 368.2L1327.1 368.2L1327.5 368.2L1327.9 368.2L1328.3 368.2L1328.7 368.2L1329.1 368.2L1329.5 368.4L1329.9 368.7L1330.3 369L1330.7 369.2L1331.1 369.5L1331.5 369.8L1331.9 370L1332.3 370.3L1332.7 370.5L1333.1 370.7L1333.5 370.4L1333.9 370.2L1334.3 369.9L1334.8 369.6L1335.2 369.4L1335.6 369.1L1336 368.9L1336.4 368.6L1336.8 368.3L1337.2 368.3L1337.6 368.4L1338 368.6L1338.4 368.8L1338.8 368.9L1339.2 369.1L1339.6 369.2L1340 369.4L1340.4 369.5L1340.8 369.6L1341.2 369.5L1341.6 369.3L1342 369.1L1342.4 369L1342.8 368.8L1343.3 368.7L1343.7 368.5L1344.1 368.4L1344.5 368.2L1344.9 368.2L1345.3 368.2L1345.7 368.2L1346.1 368.2L1346.5 368.4L1346.9 368.7L1347.3 369L1347.7 369.4L1348.1 369.7L1348.5 370.1L1348.9 370.4L1349.3 370.7L1349.7 371.1L1350.1 371.4L1350.5 371.7L1350.9 371.6L1351.4 371.3L1351.8 370.9L1352.2 370.6L1352.6 370.2L1353 369.9L1353.4 369.6L1353.8 369.2L1354.2 368.9L1354.6 368.6L1355 368.9L1355.4 369.4L1355.8 369.9L1356.2 370.3L1356.6 370.7L1357 370.2L1357.4 369.8L1357.8 369.3L1358.2 368.8L1358.6 368.4L1359.1 368.2L1359.5 368.2L1359.9 368.2L1360.3 368.2L1360.7 368.2L1361.1 368.2L1361.5 368.2L1361.9 368.3L1362.3 368.6L1362.7 369L1363.1 369.4L1363.5 369.8L1363.9 370.1L1364.3 370.5L1364.7 370.6L1365.1 370.2L1365.5 369.9L1365.9 369.5L1366.3 369.1L1366.7 368.7L1367.2 368.4L1367.6 368.2L1368 368.2L1368.4 368.2L1368.8 368.2L1369.2 368.2L1369.6 368.2L1370 368.2L1370.4 368.6L1370.8 369.1L1371.2 369.7L1371.6 370.2L1372 370.7L1372.4 370.1L1372.8 369.6L1373.2 369L1373.6 368.4L1374 368.2L1374.4 368.2L1374.8 368.2L1375.2 368.2L1375.7 368.2L1376.1 368.2L1376.5 368.2L1376.9 368.6L1377.3 368.9L1377.7 369.2L1378.1 369.6L1378.5 369.9L1378.9 370.3L1379.3 370.6L1379.7 370.5L1380.1 370.2L1380.5 369.8L1380.9 369.5L1381.3 369.2L1381.7 368.8L1382.1 368.5L1382.5 368.2L1382.9 368.2L1383.3 368.2L1383.8 368.2L1384.2 368.2L1384.6 368.2L1385 368.2L1385.4 368.2L1385.8 368.2L1386.2 368.2L1386.6 368.2L1387 368.3L1387.4 368.5L1387.8 368.6L1388.2 368.8L1388.6 369L1389 369.1L1389.4 369.3L1389.8 369.5L1390.2 369.6L1390.6 369.5L1391 369.3L1391.4 369.2L1391.9 369L1392.3 368.8L1392.7 368.7L1393.1 368.5L1393.5 368.3L1393.9 368.2L1394.3 368.2L1394.7 368.2L1395.1 368.2L1395.5 368.2L1395.9 368.2L1396.3 368.5L1396.7 368.8L1397.1 369.2L1397.5 369.5L1397.9 369.8L1398.3 370.2L1398.7 370.5L1399.1 370.6L1399.6 370.3L1400 370L1400.4 369.6L1400.8 369.3L1401.2 369L1401.6 368.6L1402 368.3L1402.4 368.2L1402.8 368.2L1403.2 368.2L1403.6 368.2L1404 368.2L1404.4 368.2L1404.8 368.2L1405.2 368.2L1405.6 368.2L1406 368.2L1406.4 368.2L1406.8 368.5L1407.2 368.7L1407.7 369L1408.1 369.3L1408.5 369.6L1408.9 369.9L1409.3 370.1L1409.7 370.4L1410.1 370.7L1410.5 370.5L1410.9 370.2L1411.3 370L1411.7 369.7L1412.1 369.4L1412.5 369.1L1412.9 368.8L1413.3 368.6L1413.7 368.3L1414.1 368.2L1414.5 368.2L1414.9 368.2L1415.3 368.2L1415.8 368.2L1416.2 368.3L1416.6 368.6L1417 368.8L1417.4 369L1417.8 369.3L1418.2 369.5L1418.6 369.7L1419 370L1419.4 370.2L1419.8 370.5L1420.2 370.7L1420.6 370.6L1421 370.3L1421.4 370.1L1421.8 369.9L1422.2 369.6L1422.6 369.4L1423 369.2L1423.4 368.9L1423.8 368.7L1424.3 368.5L1424.7 368.2L1425.1 368.2L1425.5 368.4L1425.9 368.8L1426.3 369.2L1426.7 369.6L1427.1 370L1427.5 370.4L1427.9 370.8L1428.3 371.2L1428.7 371.6L1429.1 371.7L1429.5 371.3L1429.9 370.9L1430.3 370.5L1430.7 370.1L1431.1 369.7L1431.5 369.3L1431.9 368.9L1432.4 368.5L1432.8 368.2L1433.2 368.2L1433.6 368.3L1434 368.8L1434.4 369.4L1434.8 370L1435.2 370.6L1435.6 371.2L1436 371.7L1436.4 371.4L1436.8 370.8L1437.2 370.2L1437.6 369.6L1438 369L1438.4 368.5L1438.8 368.2L1439.2 368.2L1439.6 368.2L1440.1 368.2L1440.5 368.2L1440.9 368.2L1441.3 368.2L1441.7 368.2L1442.1 368.2L1442.5 368.2L1442.9 368.2L1443.3 368.2L1443.7 368.2L1444.1 368.2L1444.5 368.3L1444.9 368.9L1445.3 369.5L1445.7 370.1L1446.1 370.7L1446.5 371.3L1446.9 371.8L1447.3 371.2L1447.7 370.6L1448.2 370L1448.6 369.4L1449 368.8L1449.4 368.2L1449.8 368.2L1450.2 368.2L1450.6 368.7L1451 369.2L1451.4 369.7L1451.8 370.1L1452.2 370.6L1452.6 371.1L1453 371.6L1453.4 372.1L1453.8 372.6L1454.2 372.8L1454.6 372.3L1455 371.8L1455.4 371.3L1455.8 370.9L1456.2 370.4L1456.7 369.9L1457.1 369.4L1457.5 368.9L1457.9 368.4L1458.3 368.2L1458.7 368.2L1459.1 368.4L1459.5 368.7L1459.9 369.1L1460.3 369.5L1460.7 369.8L1461.1 370.2L1461.5 370.6L1461.9 370.5L1462.3 370.2L1462.7 369.8L1463.1 369.4L1463.5 369.1L1463.9 368.7L1464.3 368.3L1464.8 368.2L1465.2 368.2L1465.6 368.2L1466 368.2L1466.4 368.2L1466.8 368.2L1467.2 368.2L1467.6 368.2L1468 368.2L1468.4 368.2L1468.8 368.2L1469.2 368.4L1469.6 368.5L1470 368.6L1470.4 368.8L1470.8 368.9L1471.2 369.1L1471.6 369.2L1472 369.4L1472.4 369.5L1472.9 369.6L1473.3 369.5L1473.7 369.4L1474.1 369.2L1474.5 369.1L1474.9 369L1475.3 368.8L1475.7 368.7L1476.1 368.5L1476.5 368.4L1476.9 368.3L1477.3 368.2L1477.7 368.2L1478.1 368.2L1478.5 368.2L1478.9 368.2L1479.3 368.2L1479.7 368.2L1480.1 368.2L1480.6 368.3L1481 368.7L1481.4 369L1481.8 369.4L1482.2 369.8L1482.6 370.2L1483 370.5L1483.4 370.6L1483.8 370.2L1484.2 369.8L1484.6 369.4L1485 369.1L1485.4 368.7L1485.8 368.3L1486.2 368.2L1486.6 368.2L1487 368.2L1487.4 368.6L1487.8 369L1488.2 369.5L1488.7 369.9L1489.1 370.4L1489.5 370.8L1489.9 371.2L1490.3 371.7L1490.7 372.1L1491.1 372.6L1491.5 372.9L1491.9 372.4L1492.3 372L1492.7 371.5L1493.1 371.1L1493.5 370.6L1493.9 370.2L1494.3 369.7L1494.7 369.3L1495.1 368.9L1495.5 368.4L1495.9 368.2L1496.3 368.2L1496.8 368.2L1497.2 368.2L1497.6 368.2L1498 368.2L1498.4 368.2L1498.8 368.2L1499.2 368.2L1499.6 368.2L1500 368.2L1500.4 368.2L1500.8 368.7L1501.2 369.1L1501.6 369.6L1502 370L1502.4 370.5L1502.8 370.6L1503.2 370.2L1503.6 369.7L1504 369.3L1504.4 368.8L1504.8 368.4L1505.3 368.2L1505.7 368.2L1506.1 368.2L1506.5 368.2L1506.9 368.3L1507.3 368.7L1507.7 369.2L1508.1 369.6L1508.5 370L1508.9 370.4L1509.3 370.8L1509.7 371.2L1510.1 371.7L1510.5 371.6L1510.9 371.2L1511.3 370.8L1511.7 370.4L1512.1 369.9L1512.5 369.6L1512.9 370L1513.4 370.3L1513.8 370.7L1514.2 371L1514.6 371.4L1515 371.7L1515.4 371.6L1515.8 371.3L1516.2 370.9L1516.6 370.6L1517 370.2L1517.4 369.9L1517.8 369.5L1518.2 369.2L1518.6 368.8L1519 368.5L1519.4 368.2L1519.8 368.2L1520.2 368.2L1520.6 368.2L1521.1 368.2L1521.5 368.2L1521.9 368.6L1522.3 369.1L1522.7 369.7L1523.1 370.2L1523.5 370.8L1523.9 371.3L1524.3 371.9L1524.7 372.5L1525.1 373L1525.5 373.6L1525.9 373.9L1526.3 373.4L1526.7 372.8L1527.1 372.3L1527.5 371.7L1527.9 371.2L1528.3 370.6L1528.7 370.1L1529.2 369.5L1529.6 368.9L1530 368.4L1530.4 368.2L1530.8 368.2L1531.2 368.2L1531.6 368.2L1532 368.2L1532.4 368.2L1532.8 368.2L1533.2 368.4L1533.6 368.5L1534 368.7L1534.4 368.8L1534.8 368.9L1535.2 369.1L1535.6 369.2L1536 369.4L1536.4 369.5L1536.8 369.6L1537.2 369.5L1537.7 369.4L1538.1 369.3L1538.5 369.1L1538.9 369L1539.3 368.8L1539.7 368.7L1540.1 368.6L1540.5 368.7L1540.9 369L1541.3 369.4L1541.7 369.7L1542.1 370.1L1542.5 370.4L1542.9 370.7L1543.3 370.4L1543.7 370.1L1544.1 369.7L1544.5 369.4L1544.9 369L1545.3 368.7L1545.8 368.4L1546.2 368.2L1546.6 368.2L1547 368.2L1547.4 368.2L1547.8 368.2L1548.2 368.2L1548.6 368.2L1549 368.2L1549.4 368.2L1549.8 368.2L1550.2 368.2L1550.6 368.2L1551 368.2L1551.4 368.5L1551.8 369L1552.2 369.6L1552.6 370.1L1553 370.7L1553.4 371.2L1553.9 371.7L1554.3 371.4L1554.7 370.9L1555.1 370.3L1555.5 369.8L1555.9 369.3L1556.3 368.7L1556.7 368.2L1557.1 368.7L1557.5 369.3L1557.9 369.9L1558.3 370.5L1558.7 371.1L1559.1 371.7L1559.5 372.3L1559.9 372.9L1560.3 373.5L1560.7 374L1561.1 373.4L1561.6 372.8L1562 372.2L1562.4 371.6L1562.8 371L1563.2 370.4L1563.6 369.9L1564 369.3L1564.4 369.5L1564.8 369.9L1565.2 370.2L1565.6 370.6L1566 370.5L1566.4 370.2L1566.8 369.8L1567.2 369.4L1567.6 369.1L1568 368.7L1568.4 368.3L1568.8 368.2L1569.2 368.6L1569.7 369.2L1570.1 369.8L1570.5 370.4L1570.9 371L1571.3 371.6L1571.7 371.4L1572.1 370.8L1572.5 370.2L1572.9 369.6L1573.3 369L1573.7 368.4L1574.1 368.2L1574.5 368.2L1574.9 368.2L1575.3 368.2L1575.7 368.4L1576.1 369L1576.5 369.6L1576.9 370.1L1577.3 370.7L1577.8 371.3L1578.2 371.9L1578.6 372.5L1579 373.1L1579.4 373.6L1579.8 373.8L1580.2 373.3L1580.6 372.7L1581 372.1L1581.4 371.5L1581.8 370.9L1582.2 370.3L1582.6 369.8L1583 369.5L1583.4 369.9L1583.8 370.2L1584.2 370.6L1584.6 370.6L1585 370.2L1585.4 369.8L1585.8 369.5L1586.3 369.1L1586.7 368.8L1587.1 368.4L1587.5 368.2L1587.9 368.2L1588.3 368.2L1588.7 368.2L1589.1 368.2L1589.5 368.2L1589.9 368.2L1590.3 368.2L1590.7 368.2L1591.1 368.6L1591.5 369L1591.9 369.5L1592.3 369.9L1592.7 370.3L1593.1 370.7L1593.5 370.4L1593.9 370L1594.4 369.5L1594.8 369.1L1595.2 368.7L1595.6 368.3L1596 368.4L1596.4 368.7L1596.8 368.9L1597.2 369.2L1597.6 369.4L1598 369.7L1598.4 369.9L1598.8 370.2L1599.2 370.4L1599.6 370.7L1600 370.6L1600.4 370.3L1600.8 370.1L1601.2 369.8L1601.6 369.6L1602.1 369.3L1602.5 369.1L1602.9 368.8L1603.3 368.5L1603.7 368.3L1604.1 368.2L1604.5 368.2L1604.9 368.2L1605.3 368.3L1605.7 368.5L1606.1 368.8L1606.5 369.1L1606.9 369.4L1607.3 369.7L1607.7 369.9L1608.1 370.2L1608.5 370.5L1608.9 370.7L1609.3 370.4L1609.7 370.1L1610.2 369.9L1610.6 369.6L1611 369.3L1611.4 369L1611.8 368.7L1612.2 368.4L1612.6 368.2L1613 368.2L1613.4 368.2L1613.8 368.2L1614.2 368.6L1614.6 369.1L1615 369.6L1615.4 370.1L1615.8 370.7L1616.2 371.2L1616.6 371.7L1617 371.4L1617.4 370.9L1617.8 370.4L1618.2 369.8L1618.7 369.3L1619.1 368.8L1619.5 368.2L1619.9 368.2L1620.3 368.2L1620.7 368.6L1621.1 369.2L1621.5 369.8L1621.9 370.4L1622.3 371L1622.7 371.6L1623.1 372.2L1623.5 372.8L1623.9 373.4L1624.3 374L1624.7 373.4L1625.1 372.8L1625.5 372.2L1625.9 371.6L1626.3 371L1626.8 370.4L1627.2 369.8L1627.6 369.2L1628 368.6L1628.4 368.2L1628.8 368.2L1629.2 368.2L1629.6 368.2L1630 368.2L1630.4 368.2L1630.8 368.2L1631.2 368.2L1631.6 368.4L1632 368.5L1632.4 368.7L1632.8 368.9L1633.2 369.1L1633.6 369.3L1634 369.5L1634.4 369.6L1634.9 369.4L1635.3 369.3L1635.7 369.1L1636.1 368.9L1636.5 368.7L1636.9 368.5L1637.3 368.3L1637.7 368.2L1638.1 368.2L1638.5 368.3L1638.9 368.5L1639.3 368.7L1639.7 368.9L1640.1 369.1L1640.5 369.3L1640.9 369.6L1641.3 369.6L1641.7 369.3L1642.1 369.1L1642.6 368.9L1643 368.9L1643.4 369.2L1643.8 369.5L1644.2 369.7L1644.6 370L1645 370.3L1645.4 370.5L1645.8 370.7L1646.2 370.4L1646.6 370.2L1647 369.9L1647.4 369.7L1647.8 369.4L1648.2 369.1L1648.6 368.9L1649 368.6L1649.4 368.3L1649.8 368.2L1650.2 368.2L1650.7 368.2L1651.1 368.2L1651.5 368.2L1651.9 368.2L1652.3 368.2L1652.7 368.2L1653.1 368.8L1653.5 369.5L1653.9 370.3L1654.3 371L1654.7 371.7L1655.1 371.3L1655.5 370.5L1655.9 369.8L1656.3 369.1L1656.7 368.3L1657.1 368.2L1657.5 368.2L1657.9 368.2L1658.3 368.5L1658.8 368.8L1659.2 369L1659.6 369.3L1660 369.6L1660.4 369.4L1660.8 369.1L1661.2 369L1661.6 369.5L1662 370.1L1662.4 370.7L1662.8 371.2L1663.2 371.8L1663.6 372.4L1664 372.9L1664.4 373.5L1664.8 374L1665.2 373.4L1665.6 372.9L1666 372.3L1666.4 371.7L1666.8 371.2L1667.3 370.6L1667.7 370L1668.1 369.5L1668.5 369.6L1668.9 369.9L1669.3 370.1L1669.7 370.4L1670.1 370.6L1670.5 370.7L1670.9 370.4L1671.3 370.2L1671.7 369.9L1672.1 369.7L1672.5 369.5L1672.9 369.2L1673.3 369L1673.7 368.8L1674.1 368.5L1674.5 368.3L1674.9 368.2L1675.4 368.2L1675.8 368.4L1676.2 368.8L1676.6 369.1L1677 369.4L1677.4 369.8L1677.8 370.1L1678.2 370.4L1678.6 370.7L1679 370.4L1679.4 370L1679.8 369.7L1680.2 369.4L1680.6 369L1681 368.7L1681.4 368.8L1681.8 369.2L1682.2 369.6L1682.6 369.9L1683.1 370.3L1683.5 370.7L1683.9 371.1L1684.3 371.5L1684.7 371.8L1685.1 371.4L1685.5 371L1685.9 370.6L1686.3 370.2L1686.7 369.8L1687.1 369.4L1687.5 369L1687.9 368.6L1688.3 368.2L1688.7 368.2L1689.1 368.2L1689.5 368.2L1689.9 368.2L1690.3 368.3L1690.7 369.3L1691.2 370.2L1691.6 371.1L1692 372L1692.4 372.9L1692.8 372.1L1693.2 371.2L1693.6 370.3L1694 369.4L1694.4 368.5L1694.8 368.2L1695.2 368.2L1695.6 368.2L1696 368.2L1696.4 368.2L1696.8 368.2L1697.2 368.2L1697.6 368.2L1698 368.2L1698.4 368.2L1698.8 368.8L1699.2 369.8L1699.7 370.9L1700.1 372L1700.5 373L1700.9 374L1701.3 372.9L1701.7 371.8L1702.1 370.8L1702.5 369.7L1702.9 368.6L1703.3 368.2L1703.7 368.2L1704.1 368.2L1704.5 368.2L1704.9 368.2L1705.3 368.2L1705.7 368.2L1706.1 368.7L1706.5 369.2L1706.9 369.7L1707.3 370.3L1707.8 370.8L1708.2 371.4L1708.6 371.8L1709 371.2L1709.4 370.7L1709.8 370.1L1710.2 369.6L1710.6 369L1711 368.5L1711.4 368.2L1711.8 368.2L1712.2 368.2L1712.6 368.2L1713 368.2L1713.4 368.2L1713.8 368.2L1714.2 368.2L1714.6 368.2L1715 368.2L1715.4 368.2L1715.9 368.2L1716.3 368.2L1716.7 368.3L1717.1 368.7L1717.5 369L1717.9 369.3L1718.3 369.7L1718.7 370L1719.1 370.3L1719.5 370.7L1719.9 370.5L1720.3 370.1L1720.7 369.8L1721.1 369.5L1721.5 369.1L1721.9 368.8L1722.3 368.5L1722.7 368.2L1723.1 368.2L1723.6 368.2L1724 368.2L1724.4 368.2L1724.8 368.2L1725.2 368.2L1725.6 368.2L1726 368.2L1726.4 368.3L1726.8 368.4L1727.2 368.6L1727.6 368.7L1728 368.9L1728.4 369L1728.8 369.2L1729.2 369.3L1729.6 369.4L1730 369.6L1730.4 369.6L1730.8 369.4L1731.2 369.3L1731.7 369.1L1732.1 369L1732.5 368.9L1732.9 368.8L1733.3 369.2L1733.7 369.5L1734.1 369.8L1734.5 370.2L1734.9 370.5L1735.3 370.7L1735.7 370.3L1736.1 370L1736.5 369.7L1736.9 369.3L1737.3 369L1737.7 368.7L1738.1 368.3L1738.5 368.2L1738.9 368.2L1739.3 368.2L1739.8 368.2L1740.2 368.2L1740.6 368.5L1741 368.7L1741.4 368.9L1741.8 369.1L1742.2 369.4L1742.6 369.6L1743 369.5L1743.4 369.3L1743.8 369.1L1744.2 368.8L1744.6 368.6L1745 368.4L1745.4 368.6L1745.8 369.1L1746.2 369.7L1746.6 370.2L1747 370.8L1747.4 371.4L1747.8 371.9L1748.3 372.5L1748.7 373L1749.1 373.6L1749.5 373.9L1749.9 373.4L1750.3 372.8L1750.7 372.2L1751.1 371.7L1751.5 371.1L1751.9 370.6L1752.3 370L1752.7 369.4L1753.1 368.9L1753.5 368.3L1753.9 368.7L1754.3 369.2L1754.7 369.8L1755.1 370.4L1755.5 371L1755.9 371.6L1756.4 372.1L1756.8 372.7L1757.2 373.3L1757.6 373.9L1758 373.6L1758.4 373.1L1758.8 372.5L1759.2 371.9L1759.6 371.3L1760 370.7L1760.4 370.2L1760.8 369.6L1761.2 369L1761.6 368.4L1762 368.6L1762.4 368.8L1762.8 369L1763.2 369.1L1763.6 369.3L1764.1 369.5L1764.5 369.6L1764.9 369.5L1765.3 369.3L1765.7 369.1L1766.1 369L1766.5 368.8L1766.9 368.6L1767.3 368.5L1767.7 368.6L1768.1 368.7L1768.5 368.9L1768.9 369L1769.3 369.1L1769.7 369.3L1770.1 369.4L1770.5 369.5L1770.9 369.6L1771.3 369.5L1771.7 369.4L1772.2 369.2L1772.6 369.1L1773 369L1773.4 368.8L1773.8 368.7L1774.2 368.6L1774.6 368.4L1775 368.3L1775.4 368.2L1775.8 368.2L1776.2 368.2L1776.6 368.2L1777 368.2L1777.4 368.2L1777.8 368.2L1778.2 368.2L1778.6 368.3L1779 368.7L1779.4 369.1L1779.8 369.6L1780.2 370L1780.7 370.4L1781.1 370.8L1781.5 371.3L1781.9 371.7L1782.3 371.6L1782.7 371.1L1783.1 370.7L1783.5 370.3L1783.9 369.8L1784.3 369.4L1784.7 369L1785.1 368.6L1785.5 368.2L1785.9 368.2L1786.3 368.2L1786.7 368.2L1787.1 368.2L1787.5 368.2L1787.9 368.3L1788.3 369.1L1788.8 369.9L1789.2 370.7L1789.6 371.4L1790 372.2L1790.4 373L1790.8 373.8L1791.2 373.5L1791.6 372.8L1792 372L1792.4 371.2L1792.8 370.4L1793.2 369.7L1793.6 368.9L1794 368.2L1794.4 368.2L1794.8 368.2L1795.2 368.2L1795.6 368.2L1796 368.2L1796.4 368.2L1796.9 368.3L1797.3 368.7L1797.7 369.1L1798.1 369.5L1798.5 370L1798.9 370.4L1799.3 370.7L1799.7 370.3L1800.1 369.8L1800.5 369.4L1800.9 369L1801.3 368.6L1801.7 368.2L1802.1 368.2L1802.5 368.2L1802.9 368.2L1803.3 368.2L1803.7 368.2L1804.1 368.2L1804.6 368.2L1805 368.2L1805.4 368.4L1805.8 369L1806.2 369.5L1806.6 370.1L1807 370.6L1807.4 370.3L1807.8 369.8L1808.2 369.3L1808.6 368.7L1809 368.2L1809.4 368.2L1809.8 368.2L1810.2 368.2L1810.6 368.2L1811 368.2L1811.4 368.4L1811.8 369L1812.2 369.6L1812.7 370.2L1813.1 370.8L1813.5 371.3L1813.9 371.8L1814.3 371.2L1814.7 370.6L1815.1 370L1815.5 369.5L1815.9 368.9L1816.3 368.3L1816.7 368.2L1817.1 368.2L1817.5 368.2L1817.9 368.2L1818.3 368.2L1818.7 368.2L1819.1 368.2L1819.5 368.2L1819.9 368.2L1820.3 368.2L1820.8 368.3L1821.2 368.8L1821.6 369.2L1822 369.6L1822.4 370L1822.8 370.4L1823.2 370.8L1823.6 371.3L1824 371.7L1824.4 371.6L1824.8 371.2L1825.2 370.8L1825.6 370.3L1826 369.9L1826.4 369.5L1826.8 369.1L1827.2 368.7L1827.6 368.3L1828 368.2L1828.4 368.2L1828.8 368.2L1829.3 368.2L1829.7 368.2L1830.1 368.2L1830.5 368.2L1830.9 368.2L1831.3 368.2L1831.7 368.2L1832.1 368.2L1832.5 368.2L1832.9 368.5L1833.3 368.8L1833.7 369L1834.1 369.3L1834.5 369.5L1834.9 369.5L1835.3 369.3L1835.7 369L1836.1 368.7L1836.5 368.5L1836.9 368.2L1837.4 368.2L1837.8 368.2L1838.2 368.2L1838.6 368.2L1839 368.2L1839.4 368.2L1839.8 368.2L1840.2 368.2L1840.6 368.2L1841 368.2L1841.4 368.2L1841.8 368.2L1842.2 368.2L1842.6 368.2L1843 368.2L1843.4 368.4L1843.8 369.6L1844.2 370.7L1844.6 371.9L1845 373L1845.5 373.9L1845.9 372.7L1846.3 371.5L1846.7 370.4L1847.1 369.2L1847.5 368.2L1847.9 368.2L1848.3 368.2L1848.7 368.2L1849.1 368.2L1849.5 368.2L1849.9 368.2L1850.3 368.2L1850.7 368.2L1851.1 368.2L1851.5 368.2L1851.9 368.2L1852.3 368.2L1852.7 368.2L1853.2 368.4L1853.6 368.6L1854 368.9L1854.4 369.2L1854.8 369.4L1855.2 369.6L1855.6 369.3L1856 369.1L1856.4 368.8L1856.8 368.5L1857.2 368.3L1857.6 368.7L1858 369L1858.4 369.4L1858.8 369.7L1859.2 370.1L1859.6 370.5L1860 370.7L1860.4 370.3L1860.8 369.9L1861.2 369.6L1861.7 369.2L1862.1 368.8L1862.5 368.5L1862.9 368.2L1863.3 368.2L1863.7 368.2L1864.1 368.2L1864.5 368.2L1864.9 368.2L1865.3 368.2L1865.7 368.2L1866.1 368.2L1866.5 368.2L1866.9 368.2L1867.3 368.2L1867.7 368.2L1868.1 368.2L1868.5 368.3L1868.9 368.7L1869.3 369.2L1869.8 369.7L1870.2 370.2L1870.6 370.7L1871 370.3L1871.4 369.9L1871.8 369.4L1872.2 368.9L1872.6 368.4L1873 368.2L1873.4 368.2L1873.8 368.2L1874.2 368.2L1874.6 368.2L1875 368.4L1875.4 368.7L1875.8 369L1876.2 369.3L1876.6 369.6L1877 369.4L1877.4 369L1877.9 368.7L1878.3 368.4L1878.7 368.2L1879.1 368.2L1879.5 368.2L1879.9 368.2L1880.3 368.2L1880.7 368.2L1881.1 368.2L1881.5 368.4L1881.9 369L1882.3 369.6L1882.7 370.2L1883.1 370.8L1883.5 371.4L1883.9 371.7L1884.3 371.1L1884.7 370.5L1885.1 369.9L1885.5 369.4L1886 368.8L1886.4 368.2L1886.8 368.2L1887.2 368.2L1887.6 368.4L1888 368.5L1888.4 368.7L1888.8 368.9L1889.2 369L1889.6 369.2L1890 369.4L1890.4 369.5L1890.8 369.6L1891.2 369.4L1891.6 369.3L1892 369.1L1892.4 368.9L1892.8 368.8L1893.2 368.6L1893.7 368.4L1894.1 368.3L1894.5 368.2L1894.9 368.4L1895.3 368.6L1895.7 368.8L1896.1 369L1896.5 369.1L1896.9 369.3L1897.3 369.5L1897.7 369.6L1898.1 369.4L1898.5 369.2L1898.9 369L1899.3 368.8L1899.7 368.7L1900.1 368.5L1900.5 368.3L1900.9 368.2L1901.3 368.6L1901.8 369.1L1902.2 369.6L1902.6 370L1903 370.5L1903.4 370.5L1903.8 370L1904.2 369.5L1904.6 369.1L1905 368.6L1905.4 368.2L1905.8 368.2L1906.2 368.2L1906.6 368.2L1907 368.2L1907.4 368.2L1907.8 368.2L1908.2 368.2L1908.6 368.2L1909 368.5L1909.4 368.7L1909.8 369L1910.3 369.2L1910.7 369.4L1911.1 369.7L1911.5 369.9L1911.9 370.1L1912.3 370.4L1912.7 370.6L1913.1 370.6L1913.5 370.4L1913.9 370.2L1914.3 369.9L1914.7 369.7L1915.1 369.4L1915.5 369.2L1915.9 369L1916.3 368.7L1916.7 368.5L1917.1 368.6L1917.5 368.7L1917.9 368.9L1918.4 369L1918.8 369.2L1919.2 369.4L1919.6 369.5L1920 369.6L1920.4 369.5L1920.8 369.3L1921.2 369.1L1921.6 369L1922 368.8L1922.4 368.7L1922.8 368.5L1923.2 368.3L1923.6 368.2L1924 368.2L1924.4 368.2L1924.8 368.2L1925.2 368.2L1925.6 368.2L1926 368.2L1926.5 368.2L1926.9 368.2L1927.3 368.5L1927.7 369.4L1928.1 370.3L1928.5 371.1L1928.9 372L1929.3 372.9L1929.7 372.1L1930.1 371.2L1930.5 370.3L1930.9 369.4L1931.3 368.5L1931.7 368.2L1932.1 368.2L1932.5 368.2L1932.9 368.2L1933.3 368.2L1933.7 368.2L1934.2 368.2L1934.6 368.2L1935 368.2L1935.4 368.2L1935.8 368.2L1936.2 368.2L1936.6 368.4L1937 369.1L1937.4 369.8L1937.8 370.6L1938.2 371.3L1938.6 372L1939 372.8L1939.4 372.4L1939.8 371.7L1940.2 370.9L1940.6 370.2L1941 369.5L1941.4 368.7L1941.8 368.2L1942.2 368.2L1942.7 368.2L1943.1 368.2L1943.5 368.2L1943.9 368.2L1944.3 368.6L1944.7 369.2L1945.1 369.8L1945.5 370.4L1945.9 371L1946.3 371.6L1946.7 371.5L1947.1 370.9L1947.5 370.3L1947.9 369.7L1948.3 369.1L1948.7 368.5L1949.1 368.2L1949.5 368.2L1949.9 368.2L1950.3 368.2L1950.8 368.2L1951.2 368.2L1951.6 368.2L1952 368.2L1952.4 368.2L1952.8 368.2L1953.2 368.5L1953.6 368.9L1954 369.3L1954.4 369.6L1954.8 370L1955.2 370.4L1955.6 370.7L1956 371.1L1956.4 371.4L1956.8 371.8L1957.2 371.5L1957.6 371.2L1958 370.8L1958.4 370.4L1958.9 370.1L1959.3 369.7L1959.7 369.3L1960.1 369L1960.5 368.6L1960.9 368.3L1961.3 368.2L1961.7 368.2L1962.1 368.5L1962.5 369.2L1962.9 369.8L1963.3 370.4L1963.7 371.1L1964.1 371.7L1964.5 371.3L1964.9 370.7L1965.3 370.1L1965.7 369.4L1966.1 368.8L1966.5 368.5L1967 368.8L1967.4 369.2L1967.8 369.5L1968.2 369.9L1968.6 370.2L1969 370.5L1969.4 370.9L1969.8 371.2L1970.2 371.6L1970.6 371.8L1971 371.5L1971.4 371.1L1971.8 370.8L1972.2 370.4L1972.6 370.1L1973 369.8L1973.4 369.4L1973.8 369.1L1974.2 368.7L1974.7 368.9L1975.1 369.2L1975.5 369.5L1975.9 369.5L1976.3 369.2L1976.7 368.9L1977.1 368.6L1977.5 368.4L1977.9 368.2L1978.3 368.2L1978.7 368.2L1979.1 368.2L1979.5 368.2L1979.9 368.2L1980.3 368.2L1980.7 368.6L1981.1 369.4L1981.5 370.2L1981.9 371L1982.3 371.8L1982.8 372.6L1983.2 372.5L1983.6 371.7L1984 370.9L1984.4 370.1L1984.8 369.3L1985.2 368.5L1985.6 368.2L1986 368.2L1986.4 368.2L1986.8 368.5L1987.2 368.9L1987.6 369.3L1988 369.6L1988.4 370L1988.8 370.4L1989.2 370.7L1989.6 371.1L1990 371.5L1990.4 371.8L1990.8 371.5L1991.3 371.1L1991.7 370.8L1992.1 370.4L1992.5 370L1992.9 369.7L1993.3 369.3L1993.7 368.9L1994.1 368.9L1994.5 369.1L1994.9 369.3L1995.3 369.5L1995.7 369.7L1996.1 369.5L1996.5 369.3L1996.9 369.1L1997.3 368.9L1997.7 368.7L1998.1 368.5L1998.5 368.3L1998.9 368.5L1999.4 368.8L1999.8 369L2000.2 369.3L2000.6 369.6L2001 369.8L2001.4 370.1L2001.8 370.4L2002.2 370.7L2002.6 370.6L2003 370.3L2003.4 370L2003.8 369.8L2004.2 369.5L2004.6 369.2L2005 369L2005.4 368.7L2005.8 368.4L2006.2 368.2L2006.6 368.2L2007 368.2L2007.5 368.2L2007.9 368.2L2008.3 368.3L2008.7 368.4L2009.1 368.6L2009.5 368.8L2009.9 369L2010.3 369.2L2010.7 369.4L2011.1 369.5L2011.5 369.6L2011.9 369.4L2012.3 369.2L2012.7 369.1L2013.1 368.9L2013.5 368.7L2013.9 368.5L2014.3 368.3L2014.7 368.2L2015.2 368.2L2015.6 368.2L2016 368.2L2016.4 368.2L2016.8 368.2L2017.2 368.2L2017.6 368.2L2018 368.2L2018.4 368.2L2018.8 368.2L2019.2 368.2L2019.6 368.8L2020 370.1L2020.4 371.4L2020.8 372.7L2021.2 374L2021.6 372.8L2022 371.5L2022.4 370.2L2022.8 368.9L2023.2 368.2L2023.7 368.2L2024.1 368.2L2024.5 368.2L2024.9 368.2L2025.3 368.2L2025.7 368.2L2026.1 368.2L2026.5 368.2L2026.9 368.2L2027.3 368.2L2027.7 368.3L2028.1 368.4L2028.5 368.6L2028.9 368.7L2029.3 368.9L2029.7 369.1L2030.1 369.2L2030.5 369.4L2030.9 369.6L2031.3 369.6L2031.8 369.4L2032.2 369.3L2032.6 369.1L2033 368.9L2033.4 368.8L2033.8 368.6L2034.2 368.4L2034.6 368.3L2035 368.2L2035.4 368.2L2035.8 368.2L2036.2 368.4L2036.6 369.1L2037 369.7L2037.4 370.4L2037.8 371.1L2038.2 371.8L2038.6 372.5L2039 373.1L2039.4 373.8L2039.9 373.6L2040.3 372.9L2040.7 372.2L2041.1 371.5L2041.5 370.9L2041.9 370.2L2042.3 369.5L2042.7 369.7L2043.1 370.3L2043.5 370.9L2043.9 371.5L2044.3 371.6L2044.7 371L2045.1 370.4L2045.5 369.8L2045.9 369.2L2046.3 368.6L2046.7 368.2L2047.1 368.2L2047.5 368.2L2048 368.2L2048.4 368.2L2048.8 368.2L2049.2 368.2L2049.6 368.2L2050 368.2L2050.4 368.2L2050.8 368.2L2051.2 368.2L2051.6 368.2L2052 368.4L2052.4 368.6L2052.8 368.9L2053.2 369.1L2053.6 369.3L2054 369.5L2054.4 369.6L2054.8 369.3L2055.2 369.1L2055.7 368.9L2056.1 368.7L2056.5 368.5L2056.9 368.2L2057.3 368.2L2057.7 368.2L2058.1 368.2L2058.5 368.2L2058.9 368.2L2059.3 368.2L2059.7 368.2L2060.1 368.4L2060.5 368.5L2060.9 368.7L2061.3 368.9L2061.7 369L2062.1 369.2L2062.5 369.4L2062.9 369.5L2063.3 369.6L2063.8 369.4L2064.2 369.3L2064.6 369.1L2065 368.9L2065.4 368.8L2065.8 368.6L2066.2 368.4L2066.6 368.3L2067 368.2L2067.4 368.2L2067.8 368.2L2068.2 368.2L2068.6 368.5L2069 368.9L2069.4 369.2L2069.8 369.6L2070.2 369.9L2070.6 370.3L2071 370.7L2071.4 371L2071.8 371.4L2072.3 371.7L2072.7 371.6L2073.1 371.2L2073.5 370.9L2073.9 370.5L2074.3 370.2L2074.7 369.8L2075.1 369.4L2075.5 369.1L2075.9 368.7L2076.3 368.4L2076.7 368.2L2077.1 368.3L2077.5 368.5L2077.9 368.8L2078.3 369L2078.7 369.2L2079.1 369.5L2079.5 369.6L2079.9 369.4L2080.4 369.1L2080.8 368.9L2081.2 368.6L2081.6 368.4L2082 368.2L2082.4 368.2L2082.8 368.3L2083.2 368.4L2083.6 368.6L2084 368.7L2084.4 368.9L2084.8 369.1L2085.2 369.2L2085.6 369.4L2086 369.5L2086.4 369.6L2086.8 369.5L2087.2 369.3L2087.6 369.1L2088 369L2088.5 368.8L2088.9 369L2089.3 369.1L2089.7 369.3L2090.1 369.4L2090.5 369.5L2090.9 369.6L2091.3 369.5L2091.7 369.4L2092.1 369.2L2092.5 369.1L2092.9 368.9L2093.3 368.8L2093.7 368.7L2094.1 368.5L2094.5 368.4L2094.9 368.3L2095.3 368.2L2095.7 368.2L2096.2 368.2L2096.6 368.2L2097 368.2L2097.4 368.2L2097.8 368.2L2098.2 368.3L2098.6 368.7L2099 369.1L2099.4 369.5L2099.8 369.8L2100.2 370.2L2100.6 370.6L2101 370.5L2101.4 370.1L2101.8 369.8L2102.2 369.4L2102.6 369L2103 368.6L2103.4 368.2L2103.8 368.2L2104.2 368.2L2104.7 368.2L2105.1 368.2L2105.5 368.2L2105.9 368.2L2106.3 368.2L2106.7 368.2L2107.1 368.2L2107.5 368.2L2107.9 368.2L2108.3 368.2L2108.7 368.8L2109.1 369.3L2109.5 369.9L2109.9 370.5L2110.3 371.1L2110.7 371.7L2111.1 371.4L2111.5 370.8L2111.9 370.2L2112.3 369.7L2112.8 369.1L2113.2 368.5L2113.6 368.2L2114 368.2L2114.4 368.2L2114.8 368.2L2115.2 368.2L2115.6 368.2L2116 368.2L2116.4 368.4L2116.8 369.4L2117.2 370.5L2117.6 371.5L2118 372.6L2118.4 372.2L2118.8 371.2L2119.2 370.1L2119.6 369.1L2120 368.2L2120.4 368.2L2120.9 368.2L2121.3 368.2L2121.7 368.2L2122.1 368.2L2122.5 368.2L2122.9 368.2L2123.3 368.2L2123.7 368.2L2124.1 368.2L2124.5 368.2L2124.9 368.2L2125.3 368.2L2125.7 368.2L2126.1 368.2L2126.5 368.2L2126.9 368.2L2127.3 368.5L2127.7 369.1L2128.1 369.8L2128.5 370.4L2129 371.1L2129.4 371.7L2129.8 371.3L2130.2 370.7L2130.6 370L2131 369.4L2131.4 368.8L2131.8 368.2L2132.2 368.2L2132.6 368.2L2133 368.2L2133.4 368.2L2133.8 368.2L2134.2 368.2L2134.6 368.2L2135 368.2L2135.4 368.2L2135.8 368.2L2136.2 368.2L2136.7 368.3L2137.1 368.5L2137.5 368.7L2137.9 368.9L2138.3 369.1L2138.7 369.3L2139.1 369.5L2139.5 369.6L2139.9 369.4L2140.3 369.2L2140.7 369L2141.1 368.8L2141.5 368.6L2141.9 368.4L2142.3 368.2L2142.7 368.2L2143.1 368.2L2143.5 368.3L2143.9 368.5L2144.3 368.8L2144.8 369L2145.2 369.3L2145.6 369.5L2146 369.8L2146.4 370L2146.8 370.3L2147.2 370.5L2147.6 370.7L2148 370.5L2148.4 370.2L2148.8 370L2149.2 369.7L2149.6 369.5L2150 369.2L2150.4 369L2150.8 368.7L2151.2 368.5L2151.6 368.2L2152 368.2L2152.4 368.2L2152.8 368.2L2153.3 368.2L2153.7 368.2L2154.1 368.2L2154.5 368.2L2154.9 368.5L2155.3 368.7L2155.7 369L2156.1 369.3L2156.5 369.5L2156.9 369.5L2157.3 369.2L2157.7 369L2158.1 368.7L2158.5 368.5L2158.9 368.3L2159.3 368.9L2159.7 369.6L2160.1 370.2L2160.5 370.8L2160.9 371.5L2161.4 371.6L2161.8 370.9L2162.2 370.3L2162.6 369.7L2163 369L2163.4 368.4L2163.8 368.2L2164.2 368.2L2164.6 368.2L2165 368.2L2165.4 368.6L2165.8 369.1L2166.2 369.5L2166.6 370L2167 370.5L2167.4 370.9L2167.8 371.4L2168.2 371.8L2168.6 372.3L2169 372.8L2169.5 372.6L2169.9 372.2L2170.3 371.7L2170.7 371.2L2171.1 370.8L2171.5 370.3L2171.9 369.9L2172.3 369.4L2172.7 369.5L2173.1 369.9L2173.5 370.2L2173.9 370.6L2174.3 370.6L2174.7 370.2L2175.1 369.8L2175.5 369.5L2175.9 369.1L2176.3 368.8L2176.7 368.4L2177.2 368.2L2177.6 368.2L2178 368.2L2178.4 368.6L2178.8 368.9L2179.2 369.3L2179.6 369.6L2180 369.9L2180.4 370.3L2180.8 370.6L2181.2 370.5L2181.6 370.2L2182 369.8L2182.4 369.5L2182.8 369.2L2183.2 368.8L2183.6 368.5L2184 368.2L2184.4 368.2L2184.8 368.2L2185.2 368.2L2185.7 368.2L2186.1 368.2L2186.5 368.2L2186.9 368.2L2187.3 368.2L2187.7 368.2L2188.1 368.5L2188.5 368.9L2188.9 369.2L2189.3 369.6L2189.7 370L2190.1 370.4L2190.5 370.7L2190.9 370.4L2191.3 370L2191.7 369.6L2192.1 369.2L2192.5 368.8L2192.9 368.5L2193.3 368.2L2193.8 368.2L2194.2 368.3L2194.6 368.5L2195 368.6L2195.4 368.8L2195.8 369L2196.2 369.1L2196.6 369.3L2197 369.5L2197.4 369.7L2197.8 369.5L2198.2 369.3L2198.6 369.1L2199 369L2199.4 368.8L2199.8 368.6L2200.2 368.5L2200.6 368.6L2201 369.2L2201.4 369.8L2201.9 370.4L2202.3 370.9L2202.7 371.5L2203.1 372.1L2203.5 372.7L2203.9 373.3L2204.3 373.9L2204.7 373.6L2205.1 373L2205.5 372.4L2205.9 371.8L2206.3 371.2L2206.7 370.6L2207.1 370L2207.5 369.4L2207.9 369.3L2208.3 369.6L2208.7 369.9L2209.1 370.1L2209.5 370.4L2210 370.7L2210.4 370.6L2210.8 370.3L2211.2 370L2211.6 369.8L2212 369.5L2212.4 369.2L2212.8 369L2213.2 368.7L2213.6 368.4L2214 368.2L2214.4 368.2L2214.8 368.2L2215.2 368.4L2215.6 368.6L2216 368.7L2216.4 368.9L2216.8 369.1L2217.2 369.2L2217.7 369.4L2218.1 369.6L2218.5 369.6L2218.9 369.4L2219.3 369.2L2219.7 369L2220.1 368.9L2220.5 368.7L2220.9 368.5L2221.3 368.4L2221.7 368.6L2222.1 369.1L2222.5 369.6L2222.9 370.1L2223.3 370.6L2223.7 371.2L2224.1 371.7L2224.5 372.2L2224.9 372.7L2225.3 372.7L2225.8 372.2L2226.2 371.7L2226.6 371.2L2227 370.7L2227.4 370.2L2227.8 369.7L2228.2 369.2L2228.6 368.6L2229 368.2L2229.4 368.2L2229.8 368.2L2230.2 368.2L2230.6 368.2L2231 368.2L2231.4 368.2L2231.8 368.3L2232.2 368.7L2232.6 369L2233 369.4L2233.4 369.7L2233.8 370.1L2234.3 370.4L2234.7 370.7L2235.1 371.1L2235.5 371.4L2235.9 371.8L2236.3 371.5L2236.7 371.2L2237.1 370.8L2237.5 370.5L2237.9 370.1L2238.3 369.8L2238.7 369.4L2239.1 369.1L2239.5 368.7L2239.9 368.4L2240.3 368.5L2240.7 369L2241.1 369.6L2241.5 370.1L2241.9 370.6L2242.4 370.4L2242.8 369.8L2243.2 369.3L2243.6 368.8L2244 368.3L2244.4 368.2L2244.8 368.2L2245.2 368.2L2245.6 368.2L2246 368.2L2246.4 368.2L2246.8 368.2L2247.2 368.2L2247.6 368.2L2248 368.2L2248.4 368.2L2248.8 368.2L2249.2 368.2L2249.6 368.4L2250 368.6L2250.5 368.8L2250.9 369L2251.3 369.1L2251.7 369.3L2252.1 369.5L2252.5 369.6L2252.9 369.4L2253.3 369.3L2253.7 369.1L2254.1 368.9L2254.5 368.7L2254.9 368.5L2255.3 368.4L2255.7 368.2L2256.1 368.2L2256.5 368.2L2256.9 368.2L2257.3 368.2L2257.7 368.9L2258.2 369.5L2258.6 370.2L2259 370.9L2259.4 371.6L2259.8 372.2L2260.2 372.9L2260.6 372.3L2261 371.6L2261.4 370.9L2261.8 370.3L2262.2 369.6L2262.6 368.9L2263 368.2L2263.4 368.3L2263.8 368.8L2264.2 369.4L2264.6 369.9L2265 370.4L2265.4 370.5L2265.8 370L2266.2 369.5L2266.7 368.9L2267.1 368.4L2267.5 368.2L2267.9 368.2L2268.3 368.2L2268.7 368.2L2269.1 368.2L2269.5 368.2L2269.9 368.8L2270.3 369.6L2270.7 370.3L2271.1 371.1L2271.5 371.8L2271.9 371.1L2272.3 370.4L2272.7 369.6L2273.1 368.9L2273.5 368.2L2273.9 368.2L2274.3 368.2L2274.8 368.2L2275.2 368.2L2275.6 368.2L2276 368.2L2276.4 368.2L2276.8 368.2L2277.2 368.2L2277.6 368.2L2278 368.2L2278.4 368.2L2278.8 368.2L2279.2 368.2L2279.6 368.2L2280 368.2L2280.4 368.5L2280.8 369.1L2281.2 369.7L2281.6 370.2L2282 370.8L2282.4 371.4L2282.9 371.8L2283.3 371.2L2283.7 370.6L2284.1 370.1L2284.5 369.5L2284.9 368.9L2285.3 368.4L2285.7 368.2L2286.1 368.2L2286.5 368.2L2286.9 368.2L2287.3 368.2L2287.7 368.2L2288.1 368.2L2288.5 368.2L2288.9 368.2L2289.3 368.2L2289.7 368.2L2290.1 368.2L2290.5 368.4L2291 368.6L2291.4 368.8L2291.8 369L2292.2 369.2L2292.6 369.5L2293 369.6L2293.4 369.4L2293.8 369.2L2294.2 369L2294.6 368.7" fill="none" stroke="#0000ff" stroke-width="9.2" stroke-linejoin="bevel"/>
<path d="M269.6 172.2L270 191.7L270.1 195.5L270.4 206.1L270.8 219.3L271.2 222.9L271.6 226.6L272 230.2L272.4 233.9L272.8 235.3L273.2 236.8L273.7 238.3L274.1 239.7L274.5 241.2L274.9 242.3L275.3 243.4L275.7 244.5L276.1 245.6L276.5 246.6L276.9 212.6L277.1 195.5L277.3 203.6L277.7 219.6L278.1 235.7L278.5 263.7L278.9 291.7L279.2 311.3L279.3 302.9L279.7 275.1L279.9 261.2L280.1 258.7L280.5 253.6L280.9 248.5L281.3 248.7L281.8 249L282.2 249.3L282.6 249.5L283 249.8L283.4 250L283.8 250.3L284.2 251.3L284.6 252L285 252.7L285.4 253.5L285.8 254.4L286.2 255.2L286.6 256L287 256.9L287.4 257.9L287.8 258.9L288.2 259.9L288.6 261L289 262.1L289.4 263.2L289.9 264.3L290.3 265.5L290.7 266.6L291.1 267.7L291.5 268.8L291.9 270L292.3 271.1L292.7 272.3L293.1 273.4L293.5 274.6L293.9 275.8L294.3 277L294.7 278.2L295.1 279.4L295.5 280.6L295.9 281.8L296.3 283L296.7 284.2L297.1 285.4L297.5 286.6L298 287.8L298.4 289L298.8 290.2L299.2 291.5L299.6 292.7L300 293.9L300.4 295.1L300.8 296.3L301.2 297.5L301.6 298.7L302 299.9L302.4 301.1L302.8 302.3L303.2 303.5L303.6 304.8L304 306L304.4 307.3L304.8 308.6L305.2 309.9L305.6 311.2L306.1 312.5L306.5 313.8L306.9 315.1L307.3 316.5L307.7 317.8L308.1 319.1L308.5 320.4L308.9 321.7L309.3 323L309.7 324.3L310.1 325.6L310.5 326.9L310.9 328.2L311.3 329.5L311.7 330.8L312.1 332.2L312.5 333.5L312.9 334.8L313.3 336.2L313.7 337.6L314.2 339.1L314.6 340.6L315 342L315.4 343.5L315.8 345L316.2 346.5L316.6 348L317 349.5L317.4 351L317.8 352.5L318.2 354L318.6 355.5L319 357L319.4 358.5L319.8 360L320.2 361.5L320.6 363L321 364.4L321.4 365.8L321.8 367.1L322.2 368.2L322.7 369.2L323.1 370.1L323.5 370.9L323.9 371.6L324.3 372.3L324.7 372.9L325.1 373.6L325.5 374.3L325.9 374.9L326.3 375.6L326.7 376.3L326.7 376.3L327.5 475.5L328.3 378.9L328.3 378.9L328.7 379.6L329.1 380.3L329.5 380.9L329.9 381.6L330.4 382.3L330.8 382.9L331.2 383.6L331.6 384.3L332 384.9L332.4 385.6L332.8 386.3L333.2 386.9L333.6 387.6L334 388.3L334.4 388.9L334.8 389.6L335.2 390.3L335.6 390.9L336 391.5L336.4 392.1L336.8 392.6L337.2 393L337.6 393.5L338 393.9L338.5 394.3L338.9 394.7L339.3 395.1L339.3 395.1L340.1 495.2L340.9 396.7L340.9 396.7L341.3 397.1L341.7 397.5L342.1 397.9L342.5 398.3L342.9 398.7L343.3 399.1L343.7 399.5L344.1 399.9L344.5 400.2L344.9 400.6L345.3 401L345.7 401.4L346.1 401.8L346.6 402.2L347 402.6L347.4 403L347.8 403.4L348.2 403.8L348.6 404.2L349 404.6L349.4 405L349.8 405.4L350.2 405.7L350.6 406.1L351 406.5L351.4 406.9L351.8 407.3L352.2 407.7L352.6 408L353 408.4L353.4 408.8L353.8 409.2L354.2 409.6L354.7 410L355.1 410.4L355.5 410.7L355.9 411.1L356.3 411.5L356.7 411.9L357.1 412.3L357.5 412.7L357.9 413L358.3 413.4L358.7 413.7L359.1 414L359.5 414.3L359.9 414.6L360.3 414.8L360.7 415.1L361.1 415.4L361.5 415.6L361.9 415.9L362.3 416.1L362.8 416.4L363.2 416.6L363.6 416.9L364 417.2L364.4 417.4L364.8 417.7L365.2 417.9L365.6 418.2L366 418.4L366.4 418.7L366.8 419L367.2 419.2L367.6 419.5L368 419.7L368.4 420L368.8 420.2L369.2 420.4L369.6 420.6L370 420.8L370.4 420.9L370.9 421L371.3 421.1L371.7 421.2L372.1 421.3L372.5 421.4L372.9 421.5L373.3 421.6L373.7 421.7L374.1 421.8L374.5 421.9L374.9 422L375.3 422.1L375.7 422.2L376.1 422.3L376.5 422.4L376.9 422.5L377.3 422.6L377.7 422.7L378.1 422.7L378.5 422.8L379 422.9L379.4 422.9L379.8 422.9L380.2 422.9L380.6 422.9L381 422.9L381.4 422.9L381.8 422.9L382.2 422.9L382.6 422.9L383 422.9L383.4 422.9L383.8 422.9L384.2 422.9L384.6 422.9L385 422.9L385.4 422.9L385.8 422.9L386.2 422.9L386.6 422.9L387.1 422.9L387.5 422.9L387.9 422.9L388.7 520.4L389.5 422.4L389.5 422.4L389.9 422.1L390.3 421.7L390.7 421.3L391.1 420.9L391.5 420.5L391.9 420.1L392.3 419.7L392.7 419.3L393.1 418.9L393.5 418.5L393.9 418.1L394.3 417.7L394.7 417.3L395.2 416.9L395.6 416.5L396 416.1L396.4 415.6L396.8 415.2L397.2 414.8L397.6 414.4L398 414L398.4 413.6L398.8 413.2L399.2 412.8L399.6 412.5L400.4 512.7L401.2 411.3L401.2 411.3L401.6 411.1L402 410.8L402.4 410.6L402.8 410.4L403.2 410.1L403.7 409.9L404.1 409.7L404.5 409.4L404.9 409.2L405.3 409L405.7 408.7L406.1 408.5L406.5 408.3L406.9 408L407.3 407.8L407.7 407.6L408.1 407.3L408.5 407.1L408.9 406.9L409.3 406.7L409.7 406.4L410.1 406.2L410.5 406L410.9 405.7L411.4 405.5L411.8 405.3L412.2 405L412.6 404.8L413 404.6L413.4 404.4L413.8 404.1L414.2 403.9L414.6 403.7L415 403.5L415.4 403.3L415.8 403.1L416.2 402.9L416.6 402.7L417 402.5L417.4 402.3L417.8 402.1L418.2 401.8L418.6 401.6L419 401.4L419.5 401.2L419.9 401L420.3 400.8L420.7 400.6L421.1 400.4L421.5 400.2L421.9 400L422.3 399.8L422.7 399.6L423.1 399.4L423.5 399.2L423.9 398.9L424.3 398.7L424.7 398.5L425.1 398.3L425.5 398.1L425.9 397.9L426.3 397.7L426.7 397.5L427.1 397.3L427.6 397.1L428 396.9L428.4 396.7L428.8 396.5L429.2 396.2L429.6 396L430 395.8L430.4 395.5L430.8 395.1L431.2 394.5L431.6 393.9L432 393.2L432.4 392.5L432.8 391.9L433.2 391.4L433.6 390.9L434 390.6L434.4 390.4L434.8 390.2L435.2 390.1L435.6 389.9L436.1 389.7L436.5 389.5L436.9 389.4L437.3 389.2L437.7 389L438.1 388.9L438.5 388.7L438.9 388.6L439.3 388.3L439.7 388.1L440.1 387.9L440.5 387.6L440.9 387.4L441.3 387.1L441.7 386.9L442.1 386.6L442.5 386.4L442.9 386.1L443.3 385.8L443.8 385.6L444.2 385.4L444.6 385.2L445 385L445.4 385L445.8 385L446.2 385L446.6 384.9L447 384.8L447.4 384.4L447.8 384L448.2 383.6L448.6 383.2L449.4 480.2L450.2 382.5L450.2 382.5L450.6 382.4L451 382.2L451.4 382.1L451.9 382L452.3 381.9L452.7 381.8L453.1 381.6L453.5 381.3L453.9 381L454.3 380.7L454.7 380.4L455.1 380.1L455.5 379.8L455.9 379.5L456.3 379.2L456.7 378.9L457.1 378.8L457.5 378.6L457.9 378.5L458.3 378.4L458.7 378.3L459.1 378.1L459.5 378L460 377.9L460.4 377.8L460.8 377.7L461.2 377.9L461.6 378L462 378.2L462.4 378.3L462.8 378.4L463.2 378.1L463.6 377.7L464 377.3L464.4 377L464.8 376.6L465.2 376.5L465.6 376.4L466 376.3L466.4 376.2L466.8 376.5L467.2 377L467.6 377.5L468.1 378L468.5 378.5L468.9 379.1L469.3 378.5L469.7 377.8L470.1 377.1L470.5 376.3L470.9 375.6L471.3 374.9L471.7 374.8L472.1 374.7L472.5 374.6L472.9 374.4L473.3 374.3L473.7 374.2L474.1 374.1L474.5 374.4L474.9 375.2L475.3 376L475.7 376.8L476.1 377.7L476.6 377.1L477 376L477.4 375L477.8 374L478.2 373L478.6 372.9L479 372.8L479.4 372.7L479.8 372.6L480.2 372.5L480.6 372.4L481 372.3L481.4 372.2L481.8 372.1L482.2 372L482.6 372.8L483 373.5L483.4 374.2L483.8 375L484.2 375.8L484.7 376.6L485.1 375.7L485.5 374.8L485.9 373.8L486.3 372.9L486.7 371.9L487.1 370.9L487.5 370.8L487.9 370.7L488.3 370.6L488.7 370.5L489.1 370.4L489.5 370.3L489.9 370.2L490.3 370.1L490.7 370.5L491.1 371.5L491.5 372.5L491.9 373.5L492.4 374.6L492.8 375.4L493.2 374.2L493.6 373.1L494 372L494.4 370.8L494.8 369.7L495.2 369.4L495.6 369.4L496 369.3L496.4 369.3L496.8 369.3L497.2 369.5L497.6 370L498 370.5L498.4 371L498.8 371.5L499.2 372L499.6 372.5L500 373L500.5 373.5L500.9 373.3L501.3 372.7L501.7 372.1L502.1 371.5L502.5 371L502.9 370.4L503.3 369.8L503.7 369.3L504.1 368.7L504.5 368.6L504.5 368.6L505.3 469.3L506.1 369.5L506.1 369.5L506.5 369.8L506.9 370.2L507.3 370.5L507.7 370.8L508.1 370.9L508.6 370.6L509 370.3L509.4 369.9L509.8 369.6L510.2 369.2L510.6 368.9L511 368.6L511.4 368.4L511.8 368.4L512.2 368.6L512.6 368.9L513 369.3L513.4 369.6L513.8 370L514.2 370.4L514.6 370.7L515 370.7L515.4 370.3L515.8 369.9L516.2 369.5L516.6 369.1L517.1 368.8L517.5 368.4L518.3 468.5L519.1 368.2L519.1 368.2L519.5 368.2L519.9 368.2L520.3 368.2L520.7 368.2L521.1 368.2L521.5 368.2L521.9 368.2L522.3 368.2L522.7 368.9L523.1 369.7L523.5 370.4L523.9 371.1L524.3 371.8L524.8 372.6L525.2 372.6L525.6 371.9L526 371.1L526.4 370.4L526.8 369.7L527.2 369L527.6 368.2L528 368.2L528.4 368.2L528.8 368.2L529.2 368.2L529.6 368.2L530 368.2L530.4 368.4L530.8 368.8L531.2 369.1L531.6 369.4L532 369.8L532.4 370.1L532.9 370.5L533.3 370.7L533.7 370.3L534.1 370L534.5 369.7L534.9 369.3L535.3 369L535.7 368.6L536.1 368.3L536.5 368.2L536.9 368.2L537.3 368.6L537.7 369.1L538.1 369.6L538.5 370.2L538.9 370.7L539.3 371.2L539.7 371.8L540.1 371.4L540.5 370.9L541 370.4L541.4 369.8L541.8 369.3L542.2 368.8L542.6 368.2L543 368.2L543.4 368.2L543.8 368.2L544.2 368.2L544.6 368.6L545 369.1L545.4 369.6L545.8 370.1L546.2 370.6L546.6 371.1L547 371.6L547.4 371.6L547.8 371.1L548.2 370.5L548.6 370L549 369.5L549.5 369L549.9 368.5L550.3 368.2L550.7 368.2L551.1 368.2L551.5 368.2L551.9 368.2L552.3 368.2L552.7 368.2L553.1 368.2L553.5 368.2L553.9 368.2L554.3 368.3L554.7 368.4L555.1 368.6L555.5 368.8L555.9 368.9L556.3 369.1L556.7 369.2L557.2 369.4L557.6 369.5L558 369.6L558.4 369.5L558.8 369.3L559.2 369.1L559.6 369L560 368.8L560.4 368.7L560.8 368.5L561.2 368.4L561.6 368.3L562 368.6L562.4 368.9L562.8 369.2L563.2 369.5L563.6 369.8L564 370.1L564.4 370.3L564.8 370.6L565.2 370.6L565.2 370.6L566.1 469.5L566.9 369.4L566.9 369.4L567.3 369.1L567.7 368.8L568.1 368.5L568.5 368.2L568.9 368.2L569.3 368.2L569.7 368.2L570.1 368.2L570.5 368.2L570.9 368.2L571.3 368.6L571.7 369.2L572.1 369.7L572.5 370.3L572.9 370.6L573.4 370.1L573.8 369.5L574.2 368.9L574.6 368.4L575 368.9L575.4 369.3L575.8 369.8L576.2 370.3L576.6 370.7L577 371.2L577.4 371.6L577.8 371.6L578.6 468.8L579.4 369.7L579.4 369.7L579.8 369.3L580.2 368.8L580.6 368.4L581 368.2L581.5 368.2L581.9 368.2L582.3 368.2L582.7 368.2L583.1 368.2L583.5 368.8L583.9 369.5L584.3 370.1L584.7 370.8L585.1 371.4L585.5 372.1L585.9 372.8L586.3 373.4L586.7 374L587.1 373.4L587.5 372.7L587.9 372.1L588.3 371.4L588.7 370.7L589.1 370.1L589.5 369.6L590 369.9L590.4 370.2L590.8 370.5L591.2 370.7L591.6 370.4L592 370.1L592.4 369.8L592.8 369.5L593.2 369.2L593.6 369.6L594 370.1L594.4 370.7L594.8 371.2L595.2 371.8L595.6 372.3L596 372.9L596.4 373.4L596.8 374L597.2 373.6L597.7 373L598.1 372.5L598.5 371.9L598.9 371.4L599.3 370.8L599.7 370.3L600.1 369.7L600.5 369.2L600.9 368.6L601.3 368.2L601.7 368.2L602.1 368.2L602.5 368.2L602.9 368.2L603.3 368.3L603.7 368.6L604.1 368.8L604.5 369.1L604.9 369.4L605.3 369.6L605.8 369.9L606.2 370.1L606.6 370.4L607 370.6L607.4 370.6L607.8 370.3L608.2 370.1L608.6 369.8L609 369.6L609.4 369.3L609.8 369.1L610.2 369.1L610.6 369.5L611 369.8L611.4 370.1L611.8 370.5L612.2 370.7L612.6 370.3L613 370L613.4 369.7L613.9 369.3L614.3 369L614.7 368.6L615.1 368.3L615.5 368.2L615.9 368.2L616.3 368.2L616.7 368.2L617.1 368.2L617.5 368.2L617.9 368.2L618.3 368.2L618.7 368.2L619.1 368.2L619.5 368.3L619.9 368.8L620.3 369.3L620.7 369.7L621.1 370.2L621.5 370.7L622 370.3L622.4 369.9L622.8 369.4L623.2 368.9L623.6 368.4L624 368.2L624.4 368.2L624.8 368.2L625.2 368.2L625.6 368.2L626 368.6L626.4 369L627.2 468.6L628 370.6L628 370.6L628.4 370.5L628.8 370.1L629.2 369.7L629.6 369.3L630 368.9L630.5 368.5L630.9 368.6L631.3 368.9L631.7 369.3L632.1 369.6L632.5 370L632.9 370.3L633.3 370.6L633.7 370.5L634.1 370.2L634.5 369.8L634.9 369.5L635.3 369.1L635.7 368.8L636.1 368.4L636.5 368.2L636.9 368.2L637.3 368.2L637.7 368.2L638.2 368.2L638.6 368.2L639 368.2L639 368.2L639.8 469.3L640.6 369.2L640.6 369.2L641 369.8L641.4 370.4L641.8 371L642.2 371.6L642.6 372.2L643 372.8L643.4 372.5L643.8 371.9L644.2 371.3L644.6 370.7L645 370.1L645.4 369.5L645.8 368.9L646.2 368.3L646.7 368.5L647.1 369L647.5 369.5L647.9 369.9L648.3 370.4L648.7 370.8L649.1 371.3L649.5 371.8L649.9 372.2L650.3 372.7L650.7 372.7L651.1 372.3L651.5 371.8L651.9 371.3L652.3 370.9L652.7 370.4L653.1 370L653.5 369.5L653.9 369L654.4 368.6L654.8 368.2L655.2 368.2L655.6 368.6L656 369.1L656.4 369.5L656.8 369.9L657.2 370.4L657.6 370.8L658 371.3L658.4 371.7L658.8 372.2L659.2 372.6L659.6 372.8L660 372.4L660.4 371.9L660.8 371.5L661.2 371L661.6 370.6L662 370.1L662.5 370.4L662.9 371.1L663.3 371.9L663.7 372.6L664.1 372.5L664.5 371.7L664.9 371L665.3 370.2L665.7 369.5L666.1 368.7L666.5 368.2L666.9 368.2L667.3 368.2L667.7 368.3L668.1 368.8L668.5 369.3L668.9 369.8L669.3 370.4L669.7 370.9L670.1 371.4L670.5 371.9L671 372.4L671.4 372.9L671.8 372.4L672.2 371.9L672.6 371.4L673 370.9L673.4 370.3L673.8 369.8L674.2 369.3L674.6 368.8L675 369.2L675.4 369.9L675.8 370.6L676.2 371.4L676.6 371.6L677 370.8L677.4 370.1L677.8 369.4L678.2 368.6L678.6 368.2L679.1 368.2L679.5 368.2L679.9 368.2L680.3 368.3L680.7 369L681.1 369.6L681.5 370.3L681.9 370.9L682.3 371.6L682.7 372.2L683.1 372.9L683.5 372.3L683.9 371.7L684.3 371L684.7 370.4L685.1 369.7L685.5 369.1L685.9 368.4L686.3 368.2L686.8 368.2L687.2 368.2L687.6 368.2L687.6 368.2L688.4 469.1L689.2 369.7L689.2 369.7L689.6 370L690 370.4L690.4 370.8L690.8 371.2L691.2 371.5L691.6 371.8L692 371.4L692.4 371L692.8 370.7L693.2 370.3L693.6 369.9L694 369.6L694.4 369.2L694.9 368.8L695.3 368.5L695.7 368.2L696.1 368.2L696.5 368.2L696.9 368.2L697.3 368.2L697.7 368.2L698.1 368.2L698.5 368.3L698.9 368.5L699.3 368.7L699.7 368.9L699.7 368.9L700.5 468.8L701.3 369.6L701.3 369.6L701.7 369.4L702.1 369.2L702.5 369L703 368.8L703.4 368.6L703.8 368.4L704.2 368.2L704.6 368.2L705 368.2L705.4 368.2L705.8 368.4L706.2 368.6L706.6 368.8L707 368.9L707.4 369.1L707.8 369.3L708.2 369.5L708.6 369.6L709 369.5L709.4 369.3L709.8 369.1L710.2 368.9L710.6 368.7L711 368.5L711.5 368.4L711.9 368.2L712.3 368.2L712.7 368.2L713.1 368.6L713.5 369L713.9 369.4L714.3 369.9L714.7 370.3L715.1 370.8L715.5 371.2L715.9 371.7L716.3 372.1L716.7 372.6L717.1 372.9L717.5 372.4L717.9 372L718.3 371.5L718.7 371.1L719.1 370.6L719.6 370.2L720 369.7L720.4 369.5L720.8 369.8L721.2 370.1L721.6 370.4L722 370.7L722.4 370.5L722.8 370.2L723.2 369.9L723.6 369.6L724 369.3L724.4 369L724.8 369L725.2 369.3L725.6 369.7L726 370L726.4 370.3L726.8 370.6L727.2 370.6L727.7 370.3L728.1 370L728.5 369.7L728.9 369.4L729.3 369.4L729.7 369.8L730.1 370.3L730.5 370.8L730.9 371.3L731.3 371.7L731.7 372.2L732.1 372.7L732.5 372.7L732.9 372.3L733.3 371.8L733.7 371.3L734.1 370.9L734.5 370.4L734.9 370.3L735.4 370.6L735.8 371L736.2 371.4L736.6 371.8L737 371.5L737.4 371.2L737.8 370.8L738.2 370.4L738.6 370L739 369.6L739.4 369.3L739.8 368.9L740.2 368.5L740.6 368.2L741 368.2L741.4 368.2L741.8 368.2L742.2 368.2L742.6 368.2L743 368.2L743.5 368.2L743.9 368.2L744.3 368.2L744.7 368.2L745.1 368.2L745.5 368.2L745.9 368.6L746.3 369.1L746.7 369.5L747.1 370L747.5 370.4L747.9 370.6L748.3 370.2L748.3 370.2L749.1 468.7L749.9 368.3L749.9 368.3L750.3 368.2L750.7 368.2L751.1 368.2L751.5 368.2L752 368.2L752.4 368.2L752.8 368.2L753.2 368.2L753.6 368.2L754 368.2L754.4 368.2L754.8 368.2L755.2 368.2L755.6 368.2L756 368.5L756.4 369.5L756.8 370.5L757.2 371.5L757.6 372.5L758 373.5L758.4 373.5L758.8 372.5L759.2 371.5L759.6 370.5L760.1 369.5L760.5 368.5L760.9 368.2L761.3 368.2L761.7 368.4L762.1 368.8L762.5 369.1L762.9 369.5L763.3 369.9L763.7 370.2L764.1 370.6L764.5 370.9L764.9 371.3L765.3 371.7L765.7 371.6L766.1 371.3L766.5 370.9L766.9 370.5L767.3 370.2L767.8 369.8L768.2 369.5L768.6 369.8L769 370.2L769.4 370.5L769.8 370.9L770.2 371.3L770.6 371.7L771 371.7L771.4 371.3L771.8 370.9L772.2 370.5L772.6 370.2L773 369.8L773.4 369.4L773.8 369L774.2 368.7L774.6 368.3L775 368.2L775.4 368.2L775.9 368.2L776.3 368.2L776.7 368.2L777.1 368.3L777.5 368.6L777.9 368.9L778.3 369.2L778.7 369.5L779.1 369.5L779.5 369.2L779.9 368.8L780.3 368.5L780.7 368.2L781.1 368.2L781.5 368.2L781.9 368.2L782.3 368.2L782.7 368.2L783.1 368.5L783.5 369.5L784 370.5L784.4 371.5L784.8 372.5L785.2 372.4L785.6 371.4L786 370.4L786.4 369.4L786.8 368.4L787.2 368.4L787.6 368.9L788 369.4L788.4 369.9L788.8 370.4L789.2 370.5L789.6 370L790 369.5L790.4 369L790.8 368.5L791.2 368.3L791.6 368.5L792 368.7L792.5 368.9L792.9 369L793.3 369.2L793.7 369.4L794.1 369.6L794.5 369.5L794.9 369.3L795.3 369.2L795.7 369L796.1 368.8L796.5 368.6L796.9 368.4L797.3 368.2L797.7 368.2L798.1 368.2L798.5 368.2L798.9 368.2L799.3 368.2L799.7 368.2L800.1 368.2L800.6 368.2L801 368.2L801.4 368.5L801.8 368.9L802.2 369.4L802.6 369.9L803 370.4L803.4 370.7L803.8 370.2L804.2 369.7L804.6 369.2L804.6 369.2L805.4 469.4L806.2 368.8L806.2 368.8L806.6 369.2L807 369.5L807.4 369.9L807.8 370.2L808.2 370.5L808.7 370.9L809.1 371.2L809.5 371.6L809.9 371.8L810.3 371.4L810.7 371.1L811.1 370.7L811.5 370.4L811.9 370.1L812.3 369.7L812.7 369.4L813.1 369L813.5 368.7L813.9 368.3L814.3 368.2L814.7 368.2L815.1 368.2L815.5 368.2L815.9 368.2L816.4 368.2L816.8 368.2L817.2 368.2L817.2 368.2L818 469L818.8 368.2L818.8 368.2L819.2 368.2L819.6 368.7L820 369.3L820.4 369.8L820.8 370.4L821.2 370.6L821.6 370L822 369.4L822.4 368.9L822.8 368.3L823.2 368.2L823.6 368.2L824 368.2L824.5 368.2L824.9 368.2L825.3 368.2L825.7 368.2L826.1 368.2L826.5 368.2L826.9 368.2L827.3 368.2L827.7 368.2L828.1 368.2L828.5 368.9L828.9 369.7L829.3 370.4L829.7 371.2L830.1 372L830.5 372.8L830.9 373.6L831.3 373.7L831.7 372.9L832.1 372.2L832.5 371.4L833 370.6L833.4 369.8L833.8 369L834.2 368.3L834.6 368.2L835 368.2L835.4 368.2L835.8 368.2L836.2 368.2L836.6 368.2L837 368.2L837.4 368.2L837.8 368.7L838.2 369.3L838.6 369.9L839 370.4L839.4 371L839.8 371.5L840.2 372.1L840.6 372.7L841.1 372.7L841.5 372.1L841.9 371.5L842.3 371L842.7 370.4L843.1 369.9L843.5 369.3L843.9 368.7L844.3 368.2L844.7 368.2L845.1 368.2L845.5 368.2L845.9 368.2L846.3 368.2L846.7 368.2L847.1 368.2L847.5 368.2L847.9 368.2L848.3 368.2L848.8 368.2L849.2 368.4L849.6 368.7L850 368.9L850.4 369.1L850.8 369.4L851.2 369.6L851.6 369.5L852 369.2L852.4 369L852.8 368.8L853.2 368.5L853.6 368.4L854 368.5L854.4 368.6L854.8 368.8L855.2 368.9L855.6 369.1L856 369.2L856.4 369.3L856.9 369.5L857.3 369.6L857.7 369.5L858.1 369.4L858.5 369.3L858.9 369.1L859.3 369L859.7 368.8L860.1 369.1L860.5 369.8L860.9 370.6L861.3 371.3L861.7 371.7L862.1 370.9L862.5 370.2L862.9 369.4L863.3 368.7L863.7 368.2L864.1 368.2L864.5 368.2L865 368.2L865.4 368.2L865.4 368.2L866.2 468L867 369.3L867 369.3L867.4 369.7L867.8 370.2L868.2 370.6L868.6 370.4L869 370L869.4 369.5L869.8 369.1L870.2 368.6L870.6 368.2L871 368.2L871.4 368.2L871.8 368.2L872.2 368.2L872.6 368.2L873 368.2L873.5 368.2L873.9 368.7L874.3 369.3L874.7 369.8L875.1 370.4L875.5 371L875.9 371.5L876.3 371.6L876.7 371.1L877.1 370.5L877.5 370L877.9 369.4L877.9 369.4L878.7 469.1L879.5 368.2L879.5 368.2L879.9 368.2L880.3 368.2L880.7 368.2L881.1 368.2L881.6 368.2L882 368.2L882.4 368.2L882.8 368.2L883.2 368.2L883.6 368.4L884 368.7L884.4 368.9L884.8 369.2L885.2 369.4L885.6 369.6L886 369.4L886.4 369.1L886.8 368.9L887.2 368.6L887.6 368.4L888 368.2L888.4 368.2L888.8 368.2L889.2 368.2L889.7 368.2L890.1 368.5L890.5 368.9L890.9 369.3L891.3 369.8L891.7 370.2L892.1 370.6L892.5 370.4L892.9 370L893.3 369.5L893.7 369.1L894.1 368.7L894.5 368.2L894.9 368.2L895.3 368.2L895.7 368.2L896.1 368.2L896.5 368.2L896.9 368.2L897.4 368.2L897.8 368.2L898.2 368.2L898.6 368.2L899 368.2L899.4 368.2L899.8 368.2L900.2 368.2L900.6 368.2L901 368.6L901.4 369.5L901.8 370.4L902.2 371.3L902.6 372.2L903 372.8L903.4 371.8L903.8 370.9L904.2 370L904.6 369.1L905 368.2L905.5 368.2L905.9 368.2L906.3 368.2L906.7 368.2L907.1 368.5L907.5 368.9L907.9 369.2L908.3 369.6L908.7 369.9L909.1 370.3L909.5 370.6L909.9 370.6L910.3 370.2L910.7 369.9L911.1 369.5L911.5 369.2L911.9 368.8L912.3 368.9L912.7 369.3L913.1 369.6L913.5 370L914 370.3L914.4 370.7L914.8 371L915.2 371.4L915.6 371.7L916 371.6L916.4 371.3L916.8 370.9L917.2 370.6L917.6 370.3L918 369.9L918.4 369.6L918.8 369.2L919.2 368.9L919.6 368.7L920 369.1L920.4 369.5L920.8 370L921.2 370.4L921.6 370.8L922.1 371.3L922.5 371.7L922.9 371.5L923.3 371.1L923.7 370.7L924.1 370.2L924.5 369.8L924.9 369.4L925.3 368.9L925.7 368.5L926.1 368.2L926.5 368.2L926.5 368.2L927.3 468.4L928.1 368.2L928.1 368.2L928.5 368.3L928.9 368.4L929.3 368.6L929.8 368.7L930.2 368.9L930.6 369.1L931 369.2L931.4 369.4L931.8 369.5L932.2 369.6L932.6 369.5L933 369.3L933.4 369.2L933.8 369L934.2 368.8L934.6 368.7L935 368.5L935.4 368.4L935.8 368.2L936.2 368.2L936.6 368.2L937 368.2L937.4 368.2L937.9 368.2L938.3 368.2L938.7 368.2L939.1 368.2L939.1 368.2L939.9 469.3L940.7 368.5L940.7 368.5L941.1 369.1L941.5 369.6L941.9 370.2L942.3 370.8L942.7 371.3L943.1 371.8L943.5 371.2L943.9 370.6L944.3 370.1L944.7 369.5L945.1 368.9L945.5 368.3L946 368.2L946.4 368.2L946.8 368.2L947.2 368.2L947.6 368.2L948 368.2L948.4 368.2L948.8 368.5L949.2 368.9L949.6 369.4L950 369.8L950.4 370.2L950.8 370.6L951.2 371L951.6 371.4L952 371.8L952.4 371.4L952.8 371L953.2 370.6L953.6 370.2L954 369.9L954.5 370.4L954.9 371L955.3 371.5L955.7 372.1L956.1 372.6L956.5 373.2L956.9 373.7L957.3 373.8L957.7 373.3L958.1 372.7L958.5 372.2L958.9 371.6L959.3 371.1L959.7 370.6L960.1 370L960.5 369.5L960.9 368.9L961.3 368.4L961.7 368.2L962.1 368.2L962.6 368.6L963 369.3L963.4 370.1L963.8 370.9L964.2 371.6L964.6 371.3L965 370.5L965.4 369.7L965.8 369L966.2 368.2L966.6 368.2L967 368.2L967.4 368.2L967.8 368.2L968.2 368.2L968.6 368.2L969 368.2L969.4 368.2L969.8 368.2L970.2 368.2L970.7 368.2L971.1 368.2L971.5 368.2L971.9 368.2L972.3 368.5L972.7 369.1L973.1 369.6L973.5 370.2L973.9 370.7L974.3 371.3L974.7 371.8L975.1 372.4L975.5 372.9L975.9 372.4L976.3 371.9L976.7 371.3L977.1 370.8L977.5 370.2L977.9 369.7L978.4 369.1L978.8 368.6L979.2 368.2L979.6 368.2L980 368.2L980.4 368.2L980.8 368.2L981.2 368.2L981.6 368.2L982 368.2L982.4 368.2L982.8 368.4L983.2 368.6L983.6 368.8L984 369L984.4 369.3L984.8 369.5L985.2 369.6L985.6 369.4L986 369.2L986.5 368.9L986.9 368.7L987.3 368.5L987.7 368.3L987.7 368.3L988.5 468.9L989.3 368.8L989.3 368.8L989.7 369.6L990.1 370.3L990.5 371L990.9 371.7L991.3 371.3L991.7 370.6L992.1 369.8L992.5 369.1L992.9 368.4L993.3 368.2L993.7 368.2L994.1 368.2L994.5 368.2L995 368.2L995.4 368.2L995.8 368.2L996.2 368.2L996.6 368.2L997 368.2L997.4 368.2L997.8 368.2L998.2 368.2L998.6 368.2L999 368.6L999.4 368.9L999.8 369.3L1000.2 369.6L1000.6 370L1001 370.3L1001.4 370.6L1001.8 370.5L1002.2 370.2L1002.6 369.8L1003.1 369.5L1003.5 369.2L1003.9 369.5L1004.3 369.9L1004.7 370.3L1005.1 370.7L1005.5 371L1005.9 371.4L1006.3 371.8L1006.7 371.5L1007.1 371.2L1007.5 370.8L1007.9 370.4L1008.3 370.1L1008.7 369.7L1009.1 369.3L1009.5 368.9L1009.9 368.6L1010.3 368.2L1010.8 368.2L1011.2 368.2L1011.6 368.5L1012 368.7L1012.4 369L1012.8 369.3L1013.2 369.5L1013.6 369.8L1014 370.1L1014.4 370.3L1014.8 370.6L1015.2 370.6L1015.6 370.4L1016 370.1L1016.4 369.8L1016.8 369.6L1017.2 369.3L1017.6 369.4L1018 370L1018.4 370.6L1018.9 371.1L1019.3 371.7L1019.7 372.3L1020.1 372.9L1020.5 372.5L1020.9 371.9L1021.3 371.3L1021.7 370.7L1022.1 370.2L1022.5 369.6L1022.9 369L1023.3 368.7L1023.7 369.1L1024.1 369.6L1024.5 370L1024.9 370.4L1025.3 370.8L1025.7 371.3L1026.1 371.7L1026.5 371.6L1027 371.1L1027.4 370.7L1027.8 370.3L1028.2 369.9L1028.6 369.4L1029 369L1029.4 368.6L1029.8 369L1030.2 369.7L1030.6 370.3L1031 371L1031.4 371.6L1031.8 372.3L1032.2 372.9L1032.6 372.3L1033 371.6L1033.4 371L1033.8 370.3L1034.2 369.7L1034.6 369L1035 368.4L1035.5 368.2L1035.9 368.2L1036.3 368.2L1036.7 368.2L1037.1 368.2L1037.5 368.2L1037.9 368.2L1038.3 368.2L1038.7 368.2L1039.1 368.2L1039.5 368.2L1039.9 368.2L1040.3 368.2L1040.7 368.3L1041.1 369.2L1041.5 370.1L1041.9 371L1042.3 371.9L1042.7 372.9L1043.2 372.1L1043.6 371.2L1044 370.2L1044 370.2L1044.8 468.8L1045.6 368.2L1045.6 368.2L1046 368.2L1046.4 368.2L1046.8 368.2L1047.2 368.2L1047.6 368.2L1048 368.4L1048.4 368.7L1048.8 368.9L1049.2 369.2L1049.6 369.5L1050 369.7L1050.4 370L1050.8 370.3L1051.2 370.6L1051.7 370.7L1052.1 370.4L1052.5 370.1L1052.9 369.9L1053.3 369.6L1053.7 369.3L1054.1 369L1054.5 368.8L1054.9 368.5L1055.3 368.2L1055.7 368.4L1056.1 368.7L1056.5 368.9L1056.5 368.9L1057.3 468.7L1058.1 369.9L1058.1 369.9L1058.5 370.1L1058.9 370.4L1059.3 370.6L1059.8 370.6L1060.2 370.4L1060.6 370.1L1061 369.9L1061.4 369.6L1061.8 369.4L1062.2 369.4L1062.6 369.9L1063 370.5L1063.4 371L1063.8 371.6L1064.2 371.6L1064.6 371L1065 370.5L1065.4 369.9L1065.8 369.4L1066.2 369.9L1066.6 370.5L1067 371.1L1067.4 371.7L1067.9 372.3L1068.3 372.9L1068.7 372.4L1069.1 371.9L1069.5 371.3L1069.9 370.7L1070.3 370.1L1070.7 369.5L1071.1 368.9L1071.5 368.4L1071.9 368.2L1072.3 368.2L1072.7 368.2L1073.1 368.2L1073.5 368.2L1073.9 368.2L1074.3 368.2L1074.7 368.2L1075.1 368.2L1075.5 368.2L1076 368.2L1076.4 368.4L1076.8 369L1077.2 369.5L1077.6 370.1L1078 370.6L1078.4 371.2L1078.8 371.7L1079.2 371.4L1079.6 370.9L1080 370.3L1080.4 369.8L1080.8 369.2L1081.2 368.7L1081.6 368.2L1082 368.2L1082.4 368.2L1082.8 368.2L1083.2 368.2L1083.7 368.2L1084.1 368.2L1084.5 368.2L1084.9 368.2L1085.3 368.2L1085.7 368.2L1086.1 368.2L1086.5 368.2L1086.9 368.2L1087.3 368.2L1087.7 368.2L1088.1 368.2L1088.5 368.5L1088.9 368.8L1089.3 369.1L1089.7 369.4L1090.1 369.6L1090.5 369.3L1090.9 369L1091.3 368.7L1091.8 368.4L1092.2 368.2L1092.6 368.2L1093 368.2L1093.4 368.2L1093.8 368.2L1094.2 368.2L1094.6 368.2L1095 368.2L1095.4 368.2L1095.8 368.2L1096.2 368.2L1096.6 368.2L1097 368.5L1097.4 368.8L1097.8 369.2L1098.2 369.6L1098.6 369.9L1099 370.3L1099.4 370.7L1099.8 370.4L1100.3 370.1L1100.7 369.7L1101.1 369.3L1101.5 368.9L1101.9 368.6L1102.3 368.2L1102.7 368.2L1103.1 368.2L1103.5 368.2L1103.9 368.2L1104.3 368.2L1104.3 368.2L1105.1 468.5L1105.9 368.3L1105.9 368.3L1106.3 368.5L1106.7 368.8L1107.1 369L1107.5 369.3L1107.9 369.5L1108.4 369.8L1108.8 370L1109.2 370.3L1109.6 370.5L1110 370.7L1110.4 370.5L1110.8 370.2L1111.2 370L1111.6 369.7L1112 369.5L1112.4 369.2L1112.8 369L1113.2 368.7L1113.6 368.5L1114 368.2L1114.4 368.2L1114.8 368.2L1115.2 368.2L1115.6 368.2L1116 368.2L1116.5 368.2L1116.9 368.4L1116.9 368.4L1117.7 468.4L1118.5 370.5L1118.5 370.5L1118.9 370.5L1119.3 370L1119.7 369.5L1120.1 368.9L1120.5 368.4L1120.9 368.2L1121.3 368.2L1121.7 368.4L1122.1 369.2L1122.5 370L1122.9 370.8L1123.3 371.6L1123.7 372.4L1124.2 373.3L1124.6 374L1125 373.2L1125.4 372.3L1125.8 371.5L1126.2 370.7L1126.6 369.9L1127 369.1L1127.4 369.3L1127.8 369.6L1128.2 369.8L1128.6 370.1L1129 370.3L1129.4 370.5L1129.8 370.7L1130.2 370.5L1130.6 370.2L1131 370L1131.4 369.7L1131.8 369.5L1132.2 369.2L1132.7 369L1133.1 368.7L1133.5 369.6L1133.9 370.5L1134.3 371.4L1134.7 372.2L1135.1 372.8L1135.5 371.9L1135.9 371L1136.3 370.1L1136.7 369.2L1137.1 368.3L1137.5 368.2L1137.9 368.2L1138.3 368.2L1138.7 368.2L1139.1 368.2L1139.5 368.2L1139.9 368.2L1140.3 368.2L1140.8 368.2L1141.2 368.2L1141.6 368.2L1142 368.2L1142.4 368.2L1142.8 368.2L1143.2 368.2L1143.6 368.2L1144 368.2L1144.4 368.7L1144.8 369.5L1145.2 370.2L1145.6 371L1146 371.8L1146.4 371.2L1146.8 370.4L1147.2 369.6L1147.6 368.9L1148 368.2L1148.4 368.2L1148.9 368.2L1149.3 368.2L1149.7 368.2L1150.1 368.2L1150.5 368.2L1150.9 368.2L1151.3 368.2L1151.7 368.2L1152.1 368.2L1152.5 368.2L1152.9 368.2L1153.3 368.3L1153.7 368.6L1154.1 368.9L1154.5 369.1L1154.9 369.4L1155.3 369.7L1155.7 370L1156.1 370.2L1156.5 370.5L1157 370.7L1157.4 370.4L1157.8 370.2L1158.2 369.9L1158.6 369.6L1159 369.3L1159.4 369.1L1159.8 368.8L1160.2 368.5L1160.6 368.2L1161 368.2L1161.4 368.2L1161.8 368.2L1162.2 368.2L1162.6 368.2L1163 368.5L1163.4 368.7L1163.8 369L1164.2 369.3L1164.7 369.6L1165.1 369.5L1165.5 369.2L1165.5 369.2L1166.3 468.5L1167.1 368.2L1167.1 368.2L1167.5 368.2L1167.9 368.2L1168.3 368.5L1168.7 368.8L1169.1 369.1L1169.5 369.4L1169.9 369.6L1170.3 369.3L1170.7 369L1171.1 368.7L1171.5 368.4L1171.9 368.2L1172.3 368.5L1172.8 369.7L1173.2 370.8L1173.6 372L1174 373.1L1174.4 373.8L1174.8 372.7L1175.2 371.5L1175.6 370.4L1176 369.2L1176.4 368.2L1176.8 368.2L1177.2 368.2L1177.6 368.2L1178 368.2L1178 368.2L1178.8 468.3L1179.6 368.2L1179.6 368.2L1180 368.4L1180.4 368.7L1180.8 368.9L1181.3 369.2L1181.7 369.4L1182.1 369.6L1182.5 369.4L1182.9 369.2L1183.3 368.9L1183.7 368.7L1184.1 368.4L1184.5 368.2L1184.9 368.2L1185.3 368.2L1185.7 368.2L1186.1 368.2L1186.5 368.2L1186.9 368.2L1187.3 368.2L1187.7 368.2L1188.1 368.2L1188.5 368.2L1188.9 368.9L1189.4 369.6L1189.8 370.4L1190.2 371.2L1190.6 371.9L1191 372.7L1191.4 373.5L1191.8 373.8L1192.2 373L1192.6 372.3L1193 371.5L1193.4 370.7L1193.8 369.9L1194.2 369.4L1194.6 370.6L1195 371.9L1195.4 373.1L1195.8 373.8L1196.2 372.6L1196.6 371.4L1197 370.1L1197.5 368.9L1197.9 368.2L1198.3 368.2L1198.7 368.4L1199.1 368.7L1199.5 369.1L1199.9 369.4L1200.3 369.8L1200.7 370.1L1201.1 370.5L1201.5 370.8L1201.9 371.2L1202.3 371.6L1202.7 371.8L1203.1 371.4L1203.5 371.1L1203.9 370.7L1204.3 370.4L1204.7 370L1205.2 369.7L1205.6 369.3L1206 368.9L1206.4 368.6L1206.8 368.2L1207.2 368.2L1207.6 368.2L1208 368.2L1208.4 368.2L1208.8 368.2L1209.2 368.2L1209.6 368.2L1210 368.4L1210.4 368.9L1210.8 369.5L1211.2 370L1211.6 370.5L1212 371L1212.4 371.5L1212.8 371.7L1213.2 371.1L1213.7 370.6L1214.1 370.1L1214.5 369.6L1214.9 369.1L1215.3 368.6L1215.7 368.2L1216.1 368.2L1216.5 368.2L1216.9 368.2L1217.3 368.2L1217.7 368.2L1218.1 368.2L1218.5 368.2L1218.9 368.4L1219.3 368.9L1219.7 369.4L1220.1 369.8L1220.5 370.3L1220.9 370.8L1221.3 371.2L1221.8 371.7L1222.2 372.2L1222.6 372.6L1223 372.8L1223.4 372.3L1223.8 371.8L1224.2 371.4L1224.6 370.9L1225 370.4L1225.4 370L1225.8 369.5L1226.2 369L1226.2 369L1227 468.2L1227.8 368.2L1227.8 368.2L1228.2 368.2L1228.6 368.2L1229 368.2L1229.4 368.2L1229.9 368.4L1230.3 368.6L1230.7 368.8L1231.1 369.1L1231.5 369.3L1231.9 369.5L1232.3 369.6L1232.7 369.3L1233.1 369.1L1233.5 368.9L1233.9 368.6L1234.3 368.4L1234.7 368.2L1235.1 368.2L1235.5 368.2L1235.9 368.4L1236.3 368.8L1236.7 369.2L1237.1 369.5L1237.5 369.9L1238 370.3L1238.4 370.6L1238.8 371L1238.8 371L1239.6 469.1L1240.4 371.2L1240.4 371.2L1240.8 370.9L1241.2 370.5L1241.6 370.1L1242 369.7L1242.4 369.4L1242.8 369L1243.2 368.9L1243.6 369.4L1244 370L1244.4 370.5L1244.8 371L1245.2 371.5L1245.7 371.6L1246.1 371.1L1246.5 370.6L1246.9 370L1247.3 369.5L1247.7 369L1248.1 368.5L1248.5 368.2L1248.9 368.2L1249.3 368.2L1249.7 368.2L1250.1 368.2L1250.5 368.2L1250.9 368.2L1251.3 368.2L1251.7 368.2L1252.1 368.2L1252.5 368.4L1252.9 368.6L1253.3 368.8L1253.8 369L1254.2 369.2L1254.6 369.4L1255 369.5L1255.4 369.6L1255.8 369.4L1256.2 369.2L1256.6 369L1257 369L1257.4 369.2L1257.8 369.4L1258.2 369.7L1258.6 369.9L1259 370.2L1259.4 370.4L1259.8 370.7L1260.2 370.6L1260.6 370.4L1261 370.1L1261.4 369.9L1261.8 369.6L1262.3 369.4L1262.7 369.2L1263.1 368.9L1263.5 368.7L1263.9 369.3L1264.3 369.9L1264.7 370.5L1265.1 371.1L1265.5 371.7L1265.9 372.3L1266.3 372.9L1266.7 372.4L1267.1 371.8L1267.5 371.2L1267.9 370.6L1268.3 370L1268.7 369.4L1269.1 369.2L1269.5 370.2L1269.9 371.2L1270.4 372.2L1270.8 372.7L1271.2 371.8L1271.6 370.8L1272 369.8L1272.4 368.8L1272.8 368.2L1273.2 368.2L1273.6 368.2L1274 368.2L1274.4 368.2L1274.8 368.2L1275.2 368.2L1275.6 368.2L1276 368.2L1276.4 368.2L1276.8 368.2L1277.2 368.2L1277.6 368.4L1278 368.6L1278.5 368.7L1278.9 368.9L1279.3 369L1279.7 369.2L1280.1 369.4L1280.5 369.5L1280.9 369.6L1281.3 369.4L1281.7 369.3L1282.1 369.1L1282.5 368.9L1282.9 368.9L1283.3 369.2L1283.7 369.4L1284.1 369.6L1284.5 369.9L1284.9 370.1L1285.3 370.4L1285.7 370.6L1286.2 370.7L1286.6 370.4L1287 370.2L1287.4 370L1287.4 370L1288.2 468.3L1289 369L1289 369L1289.4 368.8L1289.8 368.5L1290.2 368.5L1290.6 368.9L1291 369.3L1291.4 369.7L1291.8 370.1L1292.2 370.5L1292.6 370.9L1293 371.3L1293.4 371.7L1293.8 371.6L1294.2 371.2L1294.7 370.8L1295.1 370.4L1295.5 370.1L1295.9 370L1296.3 370.5L1296.7 370.9L1297.1 371.4L1297.5 371.8L1297.9 372.3L1298.3 372.8L1298.7 372.7L1299.1 372.2L1299.5 371.8L1299.9 371.3L1300.3 370.9L1300.7 370.4L1301.1 369.9L1301.5 369.5L1301.9 369.4L1302.3 370L1302.8 370.6L1303.2 371.2L1303.6 371.7L1304 371.4L1304.4 370.8L1304.8 370.2L1305.2 369.7L1305.6 369.1L1306 368.5L1306.4 368.2L1306.8 368.2L1307.2 368.2L1307.6 368.2L1308 368.2L1308.4 368.2L1308.8 368.2L1309.2 368.2L1309.6 368.2L1310 368.3L1310.4 368.4L1310.9 368.6L1311.3 368.8L1311.7 369L1312.1 369.2L1312.5 369.4L1312.9 369.6L1313.3 369.6L1313.7 369.4L1314.1 369.2L1314.5 369L1314.9 368.8L1315.3 368.6L1315.7 368.4L1316.1 368.3L1316.5 368.2L1316.9 368.2L1317.3 368.2L1317.7 368.2L1318.1 368.2L1318.6 368.2L1319 368.2L1319.4 368.2L1319.8 368.2L1320.2 368.2L1320.6 368.2L1321 368.5L1321.4 369.2L1321.8 369.9L1322.2 370.6L1322.6 371.3L1323 371.7L1323.4 371L1323.8 370.3L1324.2 369.6L1324.6 368.9L1325 368.2L1325.4 368.2L1325.8 368.2L1326.2 368.2L1326.7 368.2L1327.1 368.2L1327.5 368.2L1327.9 368.2L1328.3 368.2L1328.7 368.2L1329.1 368.2L1329.5 368.4L1329.9 368.7L1330.3 369L1330.7 369.2L1331.1 369.5L1331.5 369.8L1331.9 370L1332.3 370.3L1332.7 370.5L1333.1 370.7L1333.5 370.4L1333.9 370.2L1334.3 369.9L1334.8 369.6L1335.2 369.4L1335.6 369.1L1336 368.9L1336.4 368.6L1336.8 368.3L1337.2 368.3L1337.6 368.4L1338 368.6L1338.4 368.8L1338.8 368.9L1339.2 369.1L1339.6 369.2L1340 369.4L1340.4 369.5L1340.8 369.6L1341.2 369.5L1341.6 369.3L1342 369.1L1342.4 369L1342.8 368.8L1343.3 368.7L1343.7 368.5L1343.7 368.5L1344.5 468.8L1345.3 368.2L1345.3 368.2L1345.7 368.2L1346.1 368.2L1346.5 368.4L1346.9 368.7L1347.3 369L1347.7 369.4L1348.1 369.7L1348.5 370.1L1348.9 370.4L1349.3 370.7L1349.7 371.1L1350.1 371.4L1350.5 371.7L1350.9 371.6L1351.4 371.3L1351.8 370.9L1352.2 370.6L1352.6 370.2L1353 369.9L1353.4 369.6L1353.8 369.2L1354.2 368.9L1354.6 368.6L1355 368.9L1355.4 369.4L1355.8 369.9L1355.8 369.9L1356.6 469.2L1357.4 369.8L1357.4 369.8L1357.8 369.3L1358.2 368.8L1358.6 368.4L1359.1 368.2L1359.5 368.2L1359.9 368.2L1360.3 368.2L1360.7 368.2L1361.1 368.2L1361.5 368.2L1361.9 368.3L1362.3 368.6L1362.7 369L1363.1 369.4L1363.5 369.8L1363.9 370.1L1364.3 370.5L1364.7 370.6L1365.1 370.2L1365.5 369.9L1365.9 369.5L1366.3 369.1L1366.7 368.7L1367.2 368.4L1367.6 368.2L1368 368.2L1368.4 368.2L1368.8 368.2L1369.2 368.2L1369.6 368.2L1370 368.2L1370.4 368.6L1370.8 369.1L1371.2 369.7L1371.6 370.2L1372 370.7L1372.4 370.1L1372.8 369.6L1373.2 369L1373.6 368.4L1374 368.2L1374.4 368.2L1374.8 368.2L1375.2 368.2L1375.7 368.2L1376.1 368.2L1376.5 368.2L1376.9 368.6L1377.3 368.9L1377.7 369.2L1378.1 369.6L1378.5 369.9L1378.9 370.3L1379.3 370.6L1379.7 370.5L1380.1 370.2L1380.5 369.8L1380.9 369.5L1381.3 369.2L1381.7 368.8L1382.1 368.5L1382.5 368.2L1382.9 368.2L1383.3 368.2L1383.8 368.2L1384.2 368.2L1384.6 368.2L1385 368.2L1385.4 368.2L1385.8 368.2L1386.2 368.2L1386.6 368.2L1387 368.3L1387.4 368.5L1387.8 368.6L1388.2 368.8L1388.6 369L1389 369.1L1389.4 369.3L1389.8 369.5L1390.2 369.6L1390.6 369.5L1391 369.3L1391.4 369.2L1391.9 369L1392.3 368.8L1392.7 368.7L1393.1 368.5L1393.5 368.3L1393.9 368.2L1394.3 368.2L1394.7 368.2L1395.1 368.2L1395.5 368.2L1395.9 368.2L1396.3 368.5L1396.7 368.8L1397.1 369.2L1397.5 369.5L1397.9 369.8L1398.3 370.2L1398.7 370.5L1399.1 370.6L1399.6 370.3L1400 370L1400.4 369.6L1400.8 369.3L1401.2 369L1401.6 368.6L1402 368.3L1402.4 368.2L1402.8 368.2L1403.2 368.2L1403.6 368.2L1404 368.2L1404.4 368.2L1404.4 368.2L1405.2 469.4L1406 368.2L1406 368.2L1406.4 368.2L1406.8 368.5L1407.2 368.7L1407.7 369L1408.1 369.3L1408.5 369.6L1408.9 369.9L1409.3 370.1L1409.7 370.4L1410.1 370.7L1410.5 370.5L1410.9 370.2L1411.3 370L1411.7 369.7L1412.1 369.4L1412.5 369.1L1412.9 368.8L1413.3 368.6L1413.7 368.3L1414.1 368.2L1414.5 368.2L1414.9 368.2L1415.3 368.2L1415.8 368.2L1416.2 368.3L1416.6 368.6L1417 368.8L1417 368.8L1417.8 468.4L1418.6 369.7L1418.6 369.7L1419 370L1419.4 370.2L1419.8 370.5L1420.2 370.7L1420.6 370.6L1421 370.3L1421.4 370.1L1421.8 369.9L1422.2 369.6L1422.6 369.4L1423 369.2L1423.4 368.9L1423.8 368.7L1424.3 368.5L1424.7 368.2L1425.1 368.2L1425.5 368.4L1425.9 368.8L1426.3 369.2L1426.7 369.6L1427.1 370L1427.5 370.4L1427.9 370.8L1428.3 371.2L1428.7 371.6L1429.1 371.7L1429.5 371.3L1429.9 370.9L1430.3 370.5L1430.7 370.1L1431.1 369.7L1431.5 369.3L1431.9 368.9L1432.4 368.5L1432.8 368.2L1433.2 368.2L1433.6 368.3L1434 368.8L1434.4 369.4L1434.8 370L1435.2 370.6L1435.6 371.2L1436 371.7L1436.4 371.4L1436.8 370.8L1437.2 370.2L1437.6 369.6L1438 369L1438.4 368.5L1438.8 368.2L1439.2 368.2L1439.6 368.2L1440.1 368.2L1440.5 368.2L1440.9 368.2L1441.3 368.2L1441.7 368.2L1442.1 368.2L1442.5 368.2L1442.9 368.2L1443.3 368.2L1443.7 368.2L1444.1 368.2L1444.5 368.3L1444.9 368.9L1445.3 369.5L1445.7 370.1L1446.1 370.7L1446.5 371.3L1446.9 371.8L1447.3 371.2L1447.7 370.6L1448.2 370L1448.6 369.4L1449 368.8L1449.4 368.2L1449.8 368.2L1450.2 368.2L1450.6 368.7L1451 369.2L1451.4 369.7L1451.8 370.1L1452.2 370.6L1452.6 371.1L1453 371.6L1453.4 372.1L1453.8 372.6L1454.2 372.8L1454.6 372.3L1455 371.8L1455.4 371.3L1455.8 370.9L1456.2 370.4L1456.7 369.9L1457.1 369.4L1457.5 368.9L1457.9 368.4L1458.3 368.2L1458.7 368.2L1459.1 368.4L1459.5 368.7L1459.9 369.1L1460.3 369.5L1460.7 369.8L1461.1 370.2L1461.5 370.6L1461.9 370.5L1462.3 370.2L1462.7 369.8L1463.1 369.4L1463.5 369.1L1463.9 368.7L1464.3 368.3L1464.8 368.2L1465.2 368.2L1465.6 368.2L1466 368.2L1466 368.2L1466.8 468.6L1467.6 368.2L1467.6 368.2L1468 368.2L1468.4 368.2L1468.8 368.2L1469.2 368.4L1469.6 368.5L1470 368.6L1470.4 368.8L1470.8 368.9L1471.2 369.1L1471.6 369.2L1472 369.4L1472.4 369.5L1472.9 369.6L1473.3 369.5L1473.7 369.4L1474.1 369.2L1474.5 369.1L1474.9 369L1475.3 368.8L1475.7 368.7L1476.1 368.5L1476.5 368.4L1476.9 368.3L1477.3 368.2L1477.7 368.2L1477.7 368.2L1478.5 469.5L1479.3 368.2L1479.3 368.2L1479.7 368.2L1480.1 368.2L1480.6 368.3L1481 368.7L1481.4 369L1481.8 369.4L1482.2 369.8L1482.6 370.2L1483 370.5L1483.4 370.6L1483.8 370.2L1484.2 369.8L1484.6 369.4L1485 369.1L1485.4 368.7L1485.8 368.3L1486.2 368.2L1486.6 368.2L1487 368.2L1487.4 368.6L1487.8 369L1488.2 369.5L1488.7 369.9L1489.1 370.4L1489.5 370.8L1489.9 371.2L1490.3 371.7L1490.7 372.1L1491.1 372.6L1491.5 372.9L1491.9 372.4L1492.3 372L1492.7 371.5L1493.1 371.1L1493.5 370.6L1493.9 370.2L1494.3 369.7L1494.7 369.3L1495.1 368.9L1495.5 368.4L1495.9 368.2L1496.3 368.2L1496.8 368.2L1497.2 368.2L1497.6 368.2L1498 368.2L1498.4 368.2L1498.8 368.2L1499.2 368.2L1499.6 368.2L1500 368.2L1500.4 368.2L1500.8 368.7L1501.2 369.1L1501.6 369.6L1502 370L1502.4 370.5L1502.8 370.6L1503.2 370.2L1503.6 369.7L1504 369.3L1504.4 368.8L1504.8 368.4L1505.3 368.2L1505.7 368.2L1506.1 368.2L1506.5 368.2L1506.9 368.3L1507.3 368.7L1507.7 369.2L1508.1 369.6L1508.5 370L1508.9 370.4L1509.3 370.8L1509.7 371.2L1510.1 371.7L1510.5 371.6L1510.9 371.2L1511.3 370.8L1511.7 370.4L1512.1 369.9L1512.5 369.6L1512.9 370L1513.4 370.3L1513.8 370.7L1514.2 371L1514.6 371.4L1515 371.7L1515.4 371.6L1515.8 371.3L1516.2 370.9L1516.6 370.6L1517 370.2L1517.4 369.9L1517.8 369.5L1518.2 369.2L1518.6 368.8L1519 368.5L1519.4 368.2L1519.8 368.2L1520.2 368.2L1520.6 368.2L1521.1 368.2L1521.5 368.2L1521.9 368.6L1522.3 369.1L1522.7 369.7L1523.1 370.2L1523.5 370.8L1523.9 371.3L1524.3 371.9L1524.7 372.5L1525.1 373L1525.5 373.6L1525.9 373.9L1526.3 373.4L1526.3 373.4L1527.1 468.7L1527.9 371.2L1527.9 371.2L1528.3 370.6L1528.7 370.1L1529.2 369.5L1529.6 368.9L1530 368.4L1530.4 368.2L1530.8 368.2L1531.2 368.2L1531.6 368.2L1532 368.2L1532.4 368.2L1532.8 368.2L1533.2 368.4L1533.6 368.5L1534 368.7L1534.4 368.8L1534.8 368.9L1535.2 369.1L1535.6 369.2L1536 369.4L1536.4 369.5L1536.8 369.6L1537.2 369.5L1537.7 369.4L1538.1 369.3L1538.5 369.1L1538.9 369L1538.9 369L1539.7 469.6L1540.5 368.7L1540.5 368.7L1540.9 369L1541.3 369.4L1541.7 369.7L1542.1 370.1L1542.5 370.4L1542.9 370.7L1543.3 370.4L1543.7 370.1L1544.1 369.7L1544.5 369.4L1544.9 369L1545.3 368.7L1545.8 368.4L1546.2 368.2L1546.6 368.2L1547 368.2L1547.4 368.2L1547.8 368.2L1548.2 368.2L1548.6 368.2L1549 368.2L1549.4 368.2L1549.8 368.2L1550.2 368.2L1550.6 368.2L1551 368.2L1551.4 368.5L1551.8 369L1552.2 369.6L1552.6 370.1L1553 370.7L1553.4 371.2L1553.9 371.7L1554.3 371.4L1554.7 370.9L1555.1 370.3L1555.5 369.8L1555.9 369.3L1556.3 368.7L1556.7 368.2L1557.1 368.7L1557.5 369.3L1557.9 369.9L1558.3 370.5L1558.7 371.1L1559.1 371.7L1559.5 372.3L1559.9 372.9L1560.3 373.5L1560.7 374L1561.1 373.4L1561.6 372.8L1562 372.2L1562.4 371.6L1562.8 371L1563.2 370.4L1563.6 369.9L1564 369.3L1564.4 369.5L1564.8 369.9L1565.2 370.2L1565.6 370.6L1566 370.5L1566.4 370.2L1566.8 369.8L1567.2 369.4L1567.6 369.1L1568 368.7L1568.4 368.3L1568.8 368.2L1569.2 368.6L1569.7 369.2L1570.1 369.8L1570.5 370.4L1570.9 371L1571.3 371.6L1571.7 371.4L1572.1 370.8L1572.5 370.2L1572.9 369.6L1573.3 369L1573.7 368.4L1574.1 368.2L1574.5 368.2L1574.9 368.2L1575.3 368.2L1575.7 368.4L1576.1 369L1576.5 369.6L1576.9 370.1L1577.3 370.7L1577.8 371.3L1578.2 371.9L1578.6 372.5L1579 373.1L1579.4 373.6L1579.8 373.8L1580.2 373.3L1580.6 372.7L1581 372.1L1581.4 371.5L1581.8 370.9L1582.2 370.3L1582.6 369.8L1583 369.5L1583.4 369.9L1583.8 370.2L1584.2 370.6L1584.6 370.6L1585 370.2L1585.4 369.8L1585.8 369.5L1586.3 369.1L1586.7 368.8L1587.1 368.4L1587.1 368.4L1587.9 469L1588.7 368.2L1588.7 368.2L1589.1 368.2L1589.5 368.2L1589.9 368.2L1590.3 368.2L1590.7 368.2L1591.1 368.6L1591.5 369L1591.9 369.5L1592.3 369.9L1592.7 370.3L1593.1 370.7L1593.5 370.4L1593.9 370L1594.4 369.5L1594.8 369.1L1595.2 368.7L1595.6 368.3L1596 368.4L1596.4 368.7L1596.8 368.9L1597.2 369.2L1597.6 369.4L1598 369.7L1598.4 369.9L1598.8 370.2L1599.2 370.4L1599.6 370.7L1600 370.6L1600.4 370.3L1600.8 370.1L1601.2 369.8L1601.6 369.6L1602.1 369.3L1602.5 369.1L1602.9 368.8L1603.3 368.5L1603.7 368.3L1604.1 368.2L1604.5 368.2L1604.9 368.2L1605.3 368.3L1605.7 368.5L1606.1 368.8L1606.5 369.1L1606.9 369.4L1607.3 369.7L1607.7 369.9L1608.1 370.2L1608.5 370.5L1608.9 370.7L1609.3 370.4L1609.7 370.1L1610.2 369.9L1610.6 369.6L1611 369.3L1611.4 369L1611.8 368.7L1612.2 368.4L1612.6 368.2L1613 368.2L1613.4 368.2L1613.8 368.2L1614.2 368.6L1614.6 369.1L1615 369.6L1615.4 370.1L1615.8 370.7L1616.2 371.2L1616.6 371.7L1617 371.4L1617.4 370.9L1617.8 370.4L1618.2 369.8L1618.7 369.3L1619.1 368.8L1619.5 368.2L1619.9 368.2L1620.3 368.2L1620.7 368.6L1621.1 369.2L1621.5 369.8L1621.9 370.4L1622.3 371L1622.7 371.6L1623.1 372.2L1623.5 372.8L1623.9 373.4L1624.3 374L1624.7 373.4L1625.1 372.8L1625.5 372.2L1625.9 371.6L1626.3 371L1626.8 370.4L1627.2 369.8L1627.6 369.2L1628 368.6L1628.4 368.2L1628.8 368.2L1629.2 368.2L1629.6 368.2L1630 368.2L1630.4 368.2L1630.8 368.2L1631.2 368.2L1631.6 368.4L1632 368.5L1632.4 368.7L1632.8 368.9L1633.2 369.1L1633.6 369.3L1634 369.5L1634.4 369.6L1634.9 369.4L1635.3 369.3L1635.7 369.1L1636.1 368.9L1636.5 368.7L1636.9 368.5L1637.3 368.3L1637.7 368.2L1638.1 368.2L1638.5 368.3L1638.9 368.5L1639.3 368.7L1639.7 368.9L1640.1 369.1L1640.5 369.3L1640.9 369.6L1641.3 369.6L1641.7 369.3L1642.1 369.1L1642.6 368.9L1643 368.9L1643.4 369.2L1644.2 468.7L1645 370.3L1645 370.3L1645.4 370.5L1645.8 370.7L1646.2 370.4L1646.6 370.2L1647 369.9L1647.4 369.7L1647.8 369.4L1648.2 369.1L1648.6 368.9L1649 368.6L1649.4 368.3L1649.8 368.2L1650.2 368.2L1650.7 368.2L1651.1 368.2L1651.5 368.2L1651.9 368.2L1652.3 368.2L1652.7 368.2L1653.1 368.8L1653.5 369.5L1653.9 370.3L1654.3 371L1654.7 371.7L1655.1 371.3L1655.5 370.5L1655.9 369.8L1655.9 369.8L1656.7 468.6L1657.5 368.2L1657.5 368.2L1657.9 368.2L1658.3 368.5L1658.8 368.8L1659.2 369L1659.6 369.3L1660 369.6L1660.4 369.4L1660.8 369.1L1661.2 369L1661.6 369.5L1662 370.1L1662.4 370.7L1662.8 371.2L1663.2 371.8L1663.6 372.4L1664 372.9L1664.4 373.5L1664.8 374L1665.2 373.4L1665.6 372.9L1666 372.3L1666.4 371.7L1666.8 371.2L1667.3 370.6L1667.7 370L1668.1 369.5L1668.5 369.6L1668.9 369.9L1669.3 370.1L1669.7 370.4L1670.1 370.6L1670.5 370.7L1670.9 370.4L1671.3 370.2L1671.7 369.9L1672.1 369.7L1672.5 369.5L1672.9 369.2L1673.3 369L1673.7 368.8L1674.1 368.5L1674.5 368.3L1674.9 368.2L1675.4 368.2L1675.8 368.4L1676.2 368.8L1676.6 369.1L1677 369.4L1677.4 369.8L1677.8 370.1L1678.2 370.4L1678.6 370.7L1679 370.4L1679.4 370L1679.8 369.7L1680.2 369.4L1680.6 369L1681 368.7L1681.4 368.8L1681.8 369.2L1682.2 369.6L1682.6 369.9L1683.1 370.3L1683.5 370.7L1683.9 371.1L1684.3 371.5L1684.7 371.8L1685.1 371.4L1685.5 371L1685.9 370.6L1686.3 370.2L1686.7 369.8L1687.1 369.4L1687.5 369L1687.9 368.6L1688.3 368.2L1688.7 368.2L1689.1 368.2L1689.5 368.2L1689.9 368.2L1690.3 368.3L1690.7 369.3L1691.2 370.2L1691.6 371.1L1692 372L1692.4 372.9L1692.8 372.1L1693.2 371.2L1693.6 370.3L1694 369.4L1694.4 368.5L1694.8 368.2L1695.2 368.2L1695.6 368.2L1696 368.2L1696.4 368.2L1696.8 368.2L1697.2 368.2L1697.6 368.2L1698 368.2L1698.4 368.2L1698.8 368.8L1699.2 369.8L1699.7 370.9L1700.1 372L1700.5 373L1700.9 374L1701.3 372.9L1701.7 371.8L1702.1 370.8L1702.5 369.7L1702.9 368.6L1703.3 368.2L1703.7 368.2L1704.1 368.2L1704.5 368.2L1704.5 368.2L1705.3 469.4L1706.1 368.7L1706.1 368.7L1706.5 369.2L1706.9 369.7L1707.3 370.3L1707.8 370.8L1708.2 371.4L1708.6 371.8L1709 371.2L1709.4 370.7L1709.8 370.1L1710.2 369.6L1710.6 369L1711 368.5L1711.4 368.2L1711.8 368.2L1712.2 368.2L1712.6 368.2L1713 368.2L1713.4 368.2L1713.8 368.2L1714.2 368.2L1714.6 368.2L1715 368.2L1715.4 368.2L1715.9 368.2L1716.3 368.2L1716.7 368.3L1717.1 368.7L1717.1 368.7L1717.9 469.6L1718.7 370L1718.7 370L1719.1 370.3L1719.5 370.7L1719.9 370.5L1720.3 370.1L1720.7 369.8L1721.1 369.5L1721.5 369.1L1721.9 368.8L1722.3 368.5L1722.7 368.2L1723.1 368.2L1723.6 368.2L1724 368.2L1724.4 368.2L1724.8 368.2L1725.2 368.2L1725.6 368.2L1726 368.2L1726.4 368.3L1726.8 368.4L1727.2 368.6L1727.6 368.7L1728 368.9L1728.4 369L1728.8 369.2L1729.2 369.3L1729.6 369.4L1730 369.6L1730.4 369.6L1730.8 369.4L1731.2 369.3L1731.7 369.1L1732.1 369L1732.5 368.9L1732.9 368.8L1733.3 369.2L1733.7 369.5L1734.1 369.8L1734.5 370.2L1734.9 370.5L1735.3 370.7L1735.7 370.3L1736.1 370L1736.5 369.7L1736.9 369.3L1737.3 369L1737.7 368.7L1738.1 368.3L1738.5 368.2L1738.9 368.2L1739.3 368.2L1739.8 368.2L1740.2 368.2L1740.6 368.5L1741 368.7L1741.4 368.9L1741.8 369.1L1742.2 369.4L1742.6 369.6L1743 369.5L1743.4 369.3L1743.8 369.1L1744.2 368.8L1744.6 368.6L1745 368.4L1745.4 368.6L1745.8 369.1L1746.2 369.7L1746.6 370.2L1747 370.8L1747.4 371.4L1747.8 371.9L1748.3 372.5L1748.7 373L1749.1 373.6L1749.5 373.9L1749.9 373.4L1750.3 372.8L1750.7 372.2L1751.1 371.7L1751.5 371.1L1751.9 370.6L1752.3 370L1752.7 369.4L1753.1 368.9L1753.5 368.3L1753.9 368.7L1754.3 369.2L1754.7 369.8L1755.1 370.4L1755.5 371L1755.9 371.6L1756.4 372.1L1756.8 372.7L1757.2 373.3L1757.6 373.9L1758 373.6L1758.4 373.1L1758.8 372.5L1759.2 371.9L1759.6 371.3L1760 370.7L1760.4 370.2L1760.8 369.6L1761.2 369L1761.6 368.4L1762 368.6L1762.4 368.8L1762.8 369L1763.2 369.1L1763.6 369.3L1764.1 369.5L1764.5 369.6L1764.9 369.5L1765.7 468.7L1766.5 368.8L1766.5 368.8L1766.9 368.6L1767.3 368.5L1767.7 368.6L1768.1 368.7L1768.5 368.9L1768.9 369L1769.3 369.1L1769.7 369.3L1770.1 369.4L1770.5 369.5L1770.9 369.6L1771.3 369.5L1771.7 369.4L1772.2 369.2L1772.6 369.1L1773 369L1773.4 368.8L1773.8 368.7L1774.2 368.6L1774.6 368.4L1775 368.3L1775.4 368.2L1775.8 368.2L1776.2 368.2L1776.6 368.2L1777 368.2L1777.4 368.2L1777.4 368.2L1778.2 468.3L1779 368.7L1779 368.7L1779.4 369.1L1779.8 369.6L1780.2 370L1780.7 370.4L1781.1 370.8L1781.5 371.3L1781.9 371.7L1782.3 371.6L1782.7 371.1L1783.1 370.7L1783.5 370.3L1783.9 369.8L1784.3 369.4L1784.7 369L1785.1 368.6L1785.5 368.2L1785.9 368.2L1786.3 368.2L1786.7 368.2L1787.1 368.2L1787.5 368.2L1787.9 368.3L1788.3 369.1L1788.8 369.9L1789.2 370.7L1789.6 371.4L1790 372.2L1790.4 373L1790.8 373.8L1791.2 373.5L1791.6 372.8L1792 372L1792.4 371.2L1792.8 370.4L1793.2 369.7L1793.6 368.9L1794 368.2L1794.4 368.2L1794.8 368.2L1795.2 368.2L1795.6 368.2L1796 368.2L1796.4 368.2L1796.9 368.3L1797.3 368.7L1797.7 369.1L1798.1 369.5L1798.5 370L1798.9 370.4L1799.3 370.7L1799.7 370.3L1800.1 369.8L1800.5 369.4L1800.9 369L1801.3 368.6L1801.7 368.2L1802.1 368.2L1802.5 368.2L1802.9 368.2L1803.3 368.2L1803.7 368.2L1804.1 368.2L1804.6 368.2L1805 368.2L1805.4 368.4L1805.8 369L1806.2 369.5L1806.6 370.1L1807 370.6L1807.4 370.3L1807.8 369.8L1808.2 369.3L1808.6 368.7L1809 368.2L1809.4 368.2L1809.8 368.2L1810.2 368.2L1810.6 368.2L1811 368.2L1811.4 368.4L1811.8 369L1812.2 369.6L1812.7 370.2L1813.1 370.8L1813.5 371.3L1813.9 371.8L1814.3 371.2L1814.7 370.6L1815.1 370L1815.5 369.5L1815.9 368.9L1816.3 368.3L1816.7 368.2L1817.1 368.2L1817.5 368.2L1817.9 368.2L1818.3 368.2L1818.7 368.2L1819.1 368.2L1819.5 368.2L1819.9 368.2L1820.3 368.2L1820.8 368.3L1821.2 368.8L1821.6 369.2L1822 369.6L1822.4 370L1822.8 370.4L1823.2 370.8L1823.6 371.3L1824 371.7L1824.4 371.6L1824.8 371.2L1825.2 370.8L1825.6 370.3L1826.4 468.4L1827.2 368.7L1827.2 368.7L1827.6 368.3L1828 368.2L1828.4 368.2L1828.8 368.2L1829.3 368.2L1829.7 368.2L1830.1 368.2L1830.5 368.2L1830.9 368.2L1831.3 368.2L1831.7 368.2L1832.1 368.2L1832.5 368.2L1832.9 368.5L1833.3 368.8L1833.7 369L1834.1 369.3L1834.5 369.5L1834.9 369.5L1835.3 369.3L1835.7 369L1836.1 368.7L1836.5 368.5L1836.9 368.2L1837.4 368.2L1837.8 368.2L1838.2 368.2L1838.2 368.2L1839 469.1L1839.8 368.2L1839.8 368.2L1840.2 368.2L1840.6 368.2L1841 368.2L1841.4 368.2L1841.8 368.2L1842.2 368.2L1842.6 368.2L1843 368.2L1843.4 368.4L1843.8 369.6L1844.2 370.7L1844.6 371.9L1845 373L1845.5 373.9L1845.9 372.7L1846.3 371.5L1846.7 370.4L1847.1 369.2L1847.5 368.2L1847.9 368.2L1848.3 368.2L1848.7 368.2L1849.1 368.2L1849.5 368.2L1849.9 368.2L1850.3 368.2L1850.7 368.2L1851.1 368.2L1851.5 368.2L1851.9 368.2L1852.3 368.2L1852.7 368.2L1853.2 368.4L1853.6 368.6L1854 368.9L1854.4 369.2L1854.8 369.4L1855.2 369.6L1855.6 369.3L1856 369.1L1856.4 368.8L1856.8 368.5L1857.2 368.3L1857.6 368.7L1858 369L1858.4 369.4L1858.8 369.7L1859.2 370.1L1859.6 370.5L1860 370.7L1860.4 370.3L1860.8 369.9L1861.2 369.6L1861.7 369.2L1862.1 368.8L1862.5 368.5L1862.9 368.2L1863.3 368.2L1863.7 368.2L1864.1 368.2L1864.5 368.2L1864.9 368.2L1865.3 368.2L1865.7 368.2L1866.1 368.2L1866.5 368.2L1866.9 368.2L1867.3 368.2L1867.7 368.2L1868.1 368.2L1868.5 368.3L1868.9 368.7L1869.3 369.2L1869.8 369.7L1870.2 370.2L1870.6 370.7L1871 370.3L1871.4 369.9L1871.8 369.4L1872.2 368.9L1872.6 368.4L1873 368.2L1873.4 368.2L1873.8 368.2L1874.2 368.2L1874.6 368.2L1875 368.4L1875.4 368.7L1875.8 369L1876.2 369.3L1876.6 369.6L1877 369.4L1877.4 369L1877.9 368.7L1878.3 368.4L1878.7 368.2L1879.1 368.2L1879.5 368.2L1879.9 368.2L1880.3 368.2L1880.7 368.2L1881.1 368.2L1881.5 368.4L1881.9 369L1882.3 369.6L1882.7 370.2L1883.1 370.8L1883.5 371.4L1883.9 371.7L1884.3 371.1L1884.7 370.5L1885.1 369.9L1885.5 369.4L1886 368.8L1886.4 368.2L1886.8 368.2L1886.8 368.2L1887.6 468.7L1888.4 368.7L1888.4 368.7L1888.8 368.9L1889.2 369L1889.6 369.2L1890 369.4L1890.4 369.5L1890.8 369.6L1891.2 369.4L1891.6 369.3L1892 369.1L1892.4 368.9L1892.8 368.8L1893.2 368.6L1893.7 368.4L1894.1 368.3L1894.5 368.2L1894.9 368.4L1895.3 368.6L1895.7 368.8L1896.1 369L1896.5 369.1L1896.9 369.3L1897.3 369.5L1897.7 369.6L1898.1 369.4L1898.5 369.2L1898.9 369L1899.3 368.8L1899.7 368.7L1900.1 368.5L1900.5 368.3L1900.9 368.2L1901.3 368.6L1901.8 369.1L1902.2 369.6L1902.6 370L1903 370.5L1903.4 370.5L1903.8 370L1904.2 369.5L1904.6 369.1L1905 368.6L1905.4 368.2L1905.8 368.2L1906.2 368.2L1906.6 368.2L1907 368.2L1907.4 368.2L1907.8 368.2L1908.2 368.2L1908.6 368.2L1909 368.5L1909.4 368.7L1909.8 369L1910.3 369.2L1910.7 369.4L1911.1 369.7L1911.5 369.9L1911.9 370.1L1912.3 370.4L1912.7 370.6L1913.1 370.6L1913.5 370.4L1913.9 370.2L1914.3 369.9L1914.7 369.7L1915.1 369.4L1915.5 369.2L1915.9 369L1916.3 368.7L1916.7 368.5L1917.1 368.6L1917.5 368.7L1917.9 368.9L1918.4 369L1918.8 369.2L1919.2 369.4L1919.6 369.5L1920 369.6L1920.4 369.5L1920.8 369.3L1921.2 369.1L1921.6 369L1922 368.8L1922.4 368.7L1922.8 368.5L1923.2 368.3L1923.6 368.2L1924 368.2L1924.4 368.2L1924.8 368.2L1925.2 368.2L1925.6 368.2L1926 368.2L1926.5 368.2L1926.9 368.2L1927.3 368.5L1927.7 369.4L1928.1 370.3L1928.5 371.1L1928.9 372L1929.3 372.9L1929.7 372.1L1930.1 371.2L1930.5 370.3L1930.9 369.4L1931.3 368.5L1931.7 368.2L1932.1 368.2L1932.5 368.2L1932.9 368.2L1933.3 368.2L1933.7 368.2L1934.2 368.2L1934.6 368.2L1935 368.2L1935.4 368.2L1935.8 368.2L1936.2 368.2L1936.6 368.4L1937 369.1L1937.4 369.8L1937.8 370.6L1938.2 371.3L1938.6 372L1939 372.8L1939.4 372.4L1939.8 371.7L1940.2 370.9L1940.6 370.2L1941 369.5L1941.4 368.7L1941.8 368.2L1942.2 368.2L1942.7 368.2L1943.1 368.2L1943.9 468.5L1944.7 369.2L1944.7 369.2L1945.1 369.8L1945.5 370.4L1945.9 371L1946.3 371.6L1946.7 371.5L1947.1 370.9L1947.5 370.3L1947.9 369.7L1948.3 369.1L1948.7 368.5L1949.1 368.2L1949.5 368.2L1949.9 368.2L1950.3 368.2L1950.8 368.2L1951.2 368.2L1951.6 368.2L1952 368.2L1952.4 368.2L1952.8 368.2L1953.2 368.5L1953.6 368.9L1954 369.3L1954.4 369.6L1954.8 370L1955.2 370.4L1955.6 370.7L1955.6 370.7L1956.4 468.2L1957.2 371.5L1957.2 371.5L1957.6 371.2L1958 370.8L1958.4 370.4L1958.9 370.1L1959.3 369.7L1959.7 369.3L1960.1 369L1960.5 368.6L1960.9 368.3L1961.3 368.2L1961.7 368.2L1962.1 368.5L1962.5 369.2L1962.9 369.8L1963.3 370.4L1963.7 371.1L1964.1 371.7L1964.5 371.3L1964.9 370.7L1965.3 370.1L1965.7 369.4L1966.1 368.8L1966.5 368.5L1967 368.8L1967.4 369.2L1967.8 369.5L1968.2 369.9L1968.6 370.2L1969 370.5L1969.4 370.9L1969.8 371.2L1970.2 371.6L1970.6 371.8L1971 371.5L1971.4 371.1L1971.8 370.8L1972.2 370.4L1972.6 370.1L1973 369.8L1973.4 369.4L1973.8 369.1L1974.2 368.7L1974.7 368.9L1975.1 369.2L1975.5 369.5L1975.9 369.5L1976.3 369.2L1976.7 368.9L1977.1 368.6L1977.5 368.4L1977.9 368.2L1978.3 368.2L1978.7 368.2L1979.1 368.2L1979.5 368.2L1979.9 368.2L1980.3 368.2L1980.7 368.6L1981.1 369.4L1981.5 370.2L1981.9 371L1982.3 371.8L1982.8 372.6L1983.2 372.5L1983.6 371.7L1984 370.9L1984.4 370.1L1984.8 369.3L1985.2 368.5L1985.6 368.2L1986 368.2L1986.4 368.2L1986.8 368.5L1987.2 368.9L1987.6 369.3L1988 369.6L1988.4 370L1988.8 370.4L1989.2 370.7L1989.6 371.1L1990 371.5L1990.4 371.8L1990.8 371.5L1991.3 371.1L1991.7 370.8L1992.1 370.4L1992.5 370L1992.9 369.7L1993.3 369.3L1993.7 368.9L1994.1 368.9L1994.5 369.1L1994.9 369.3L1995.3 369.5L1995.7 369.7L1996.1 369.5L1996.5 369.3L1996.9 369.1L1997.3 368.9L1997.7 368.7L1998.1 368.5L1998.5 368.3L1998.9 368.5L1999.4 368.8L1999.8 369L2000.2 369.3L2000.6 369.6L2001 369.8L2001.4 370.1L2001.8 370.4L2002.2 370.7L2002.6 370.6L2003 370.3L2003.4 370L2003.8 369.8L2004.6 468.9L2005.4 368.7L2005.4 368.7L2005.8 368.4L2006.2 368.2L2006.6 368.2L2007 368.2L2007.5 368.2L2007.9 368.2L2008.3 368.3L2008.7 368.4L2009.1 368.6L2009.5 368.8L2009.9 369L2010.3 369.2L2010.7 369.4L2011.1 369.5L2011.5 369.6L2011.9 369.4L2012.3 369.2L2012.7 369.1L2013.1 368.9L2013.5 368.7L2013.9 368.5L2014.3 368.3L2014.7 368.2L2015.2 368.2L2015.6 368.2L2016 368.2L2016.8 468.2L2017.6 368.2L2017.6 368.2L2018 368.2L2018.4 368.2L2018.8 368.2L2019.2 368.2L2019.6 368.8L2020 370.1L2020.4 371.4L2020.8 372.7L2021.2 374L2021.6 372.8L2022 371.5L2022.4 370.2L2022.8 368.9L2023.2 368.2L2023.7 368.2L2024.1 368.2L2024.5 368.2L2024.9 368.2L2025.3 368.2L2025.7 368.2L2026.1 368.2L2026.5 368.2L2026.9 368.2L2027.3 368.2L2027.7 368.3L2028.1 368.4L2028.5 368.6L2028.9 368.7L2029.3 368.9L2029.7 369.1L2030.1 369.2L2030.5 369.4L2030.9 369.6L2031.3 369.6L2031.8 369.4L2032.2 369.3L2032.6 369.1L2033 368.9L2033.4 368.8L2033.8 368.6L2034.2 368.4L2034.6 368.3L2035 368.2L2035.4 368.2L2035.8 368.2L2036.2 368.4L2036.6 369.1L2037 369.7L2037.4 370.4L2037.8 371.1L2038.2 371.8L2038.6 372.5L2039 373.1L2039.4 373.8L2039.9 373.6L2040.3 372.9L2040.7 372.2L2041.1 371.5L2041.5 370.9L2041.9 370.2L2042.3 369.5L2042.7 369.7L2043.1 370.3L2043.5 370.9L2043.9 371.5L2044.3 371.6L2044.7 371L2045.1 370.4L2045.5 369.8L2045.9 369.2L2046.3 368.6L2046.7 368.2L2047.1 368.2L2047.5 368.2L2048 368.2L2048.4 368.2L2048.8 368.2L2049.2 368.2L2049.6 368.2L2050 368.2L2050.4 368.2L2050.8 368.2L2051.2 368.2L2051.6 368.2L2052 368.4L2052.4 368.6L2052.8 368.9L2053.2 369.1L2053.6 369.3L2054 369.5L2054.4 369.6L2054.8 369.3L2055.2 369.1L2055.7 368.9L2056.1 368.7L2056.5 368.5L2056.9 368.2L2057.3 368.2L2057.7 368.2L2058.1 368.2L2058.5 368.2L2058.9 368.2L2059.3 368.2L2059.7 368.2L2060.1 368.4L2060.5 368.5L2060.9 368.7L2061.3 368.9L2061.7 369L2062.1 369.2L2062.5 369.4L2062.9 369.5L2063.3 369.6L2063.8 369.4L2064.2 369.3L2064.6 369.1L2065 368.9L2065 368.9L2065.8 469.1L2066.6 368.3L2066.6 368.3L2067 368.2L2067.4 368.2L2067.8 368.2L2068.2 368.2L2068.6 368.5L2069 368.9L2069.4 369.2L2069.8 369.6L2070.2 369.9L2070.6 370.3L2071 370.7L2071.4 371L2071.8 371.4L2072.3 371.7L2072.7 371.6L2073.1 371.2L2073.5 370.9L2073.9 370.5L2074.3 370.2L2074.7 369.8L2075.1 369.4L2075.5 369.1L2075.9 368.7L2076.3 368.4L2076.7 368.2L2077.5 469.3L2078.3 369L2078.3 369L2078.7 369.2L2079.1 369.5L2079.5 369.6L2079.9 369.4L2080.4 369.1L2080.8 368.9L2081.2 368.6L2081.6 368.4L2082 368.2L2082.4 368.2L2082.8 368.3L2083.2 368.4L2083.6 368.6L2084 368.7L2084.4 368.9L2084.8 369.1L2085.2 369.2L2085.6 369.4L2086 369.5L2086.4 369.6L2086.8 369.5L2087.2 369.3L2087.6 369.1L2088 369L2088.5 368.8L2088.9 369L2089.3 369.1L2089.7 369.3L2090.1 369.4L2090.5 369.5L2090.9 369.6L2091.3 369.5L2091.7 369.4L2092.1 369.2L2092.5 369.1L2092.9 368.9L2093.3 368.8L2093.7 368.7L2094.1 368.5L2094.5 368.4L2094.9 368.3L2095.3 368.2L2095.7 368.2L2096.2 368.2L2096.6 368.2L2097 368.2L2097.4 368.2L2097.8 368.2L2098.2 368.3L2098.6 368.7L2099 369.1L2099.4 369.5L2099.8 369.8L2100.2 370.2L2100.6 370.6L2101 370.5L2101.4 370.1L2101.8 369.8L2102.2 369.4L2102.6 369L2103 368.6L2103.4 368.2L2103.8 368.2L2104.2 368.2L2104.7 368.2L2105.1 368.2L2105.5 368.2L2105.9 368.2L2106.3 368.2L2106.7 368.2L2107.1 368.2L2107.5 368.2L2107.9 368.2L2108.3 368.2L2108.7 368.8L2109.1 369.3L2109.5 369.9L2109.9 370.5L2110.3 371.1L2110.7 371.7L2111.1 371.4L2111.5 370.8L2111.9 370.2L2112.3 369.7L2112.8 369.1L2113.2 368.5L2113.6 368.2L2114 368.2L2114.4 368.2L2114.8 368.2L2115.2 368.2L2115.6 368.2L2116 368.2L2116.4 368.4L2116.8 369.4L2117.2 370.5L2117.6 371.5L2118 372.6L2118.4 372.2L2118.8 371.2L2119.2 370.1L2119.6 369.1L2120 368.2L2120.4 368.2L2120.9 368.2L2121.3 368.2L2121.7 368.2L2122.1 368.2L2122.5 368.2L2122.9 368.2L2123.3 368.2L2123.7 368.2L2124.1 368.2L2124.5 368.2L2124.9 368.2L2125.3 368.2L2126.1 469.2L2126.9 368.2L2126.9 368.2L2127.3 368.5L2127.7 369.1L2128.1 369.8L2128.5 370.4L2129 371.1L2129.4 371.7L2129.8 371.3L2130.2 370.7L2130.6 370L2131 369.4L2131.4 368.8L2131.8 368.2L2132.2 368.2L2132.6 368.2L2133 368.2L2133.4 368.2L2133.8 368.2L2134.2 368.2L2134.6 368.2L2135 368.2L2135.4 368.2L2135.8 368.2L2136.2 368.2L2136.7 368.3L2137.1 368.5L2137.5 368.7L2137.9 368.9L2138.3 369.1L2138.7 369.3L2139.1 369.5L2139.5 369.6L2139.9 369.4L2140.3 369.2L2140.7 369L2141.1 368.8L2141.5 368.6L2141.9 368.4L2142.3 368.2L2142.7 368.2L2143.1 368.2L2143.5 368.3L2143.9 368.5L2144.3 368.8L2144.8 369L2145.2 369.3L2145.6 369.5L2146 369.8L2146.4 370L2146.8 370.3L2147.2 370.5L2147.6 370.7L2148 370.5L2148.4 370.2L2148.8 370L2149.2 369.7L2149.6 369.5L2150 369.2L2150.4 369L2150.8 368.7L2151.2 368.5L2151.6 368.2L2152 368.2L2152.4 368.2L2152.8 368.2L2153.3 368.2L2153.7 368.2L2154.1 368.2L2154.5 368.2L2154.9 368.5L2155.3 368.7L2155.7 369L2156.1 369.3L2156.5 369.5L2156.9 369.5L2157.3 369.2L2157.7 369L2158.1 368.7L2158.5 368.5L2158.9 368.3L2159.3 368.9L2159.7 369.6L2160.1 370.2L2160.5 370.8L2160.9 371.5L2161.4 371.6L2161.8 370.9L2162.2 370.3L2162.6 369.7L2163 369L2163.4 368.4L2163.8 368.2L2164.2 368.2L2164.6 368.2L2165 368.2L2165.4 368.6L2165.8 369.1L2166.2 369.5L2166.6 370L2167 370.5L2167.4 370.9L2167.8 371.4L2168.2 371.8L2168.6 372.3L2169 372.8L2169.5 372.6L2169.9 372.2L2170.3 371.7L2170.7 371.2L2171.1 370.8L2171.5 370.3L2171.9 369.9L2172.3 369.4L2172.7 369.5L2173.1 369.9L2173.5 370.2L2173.9 370.6L2174.3 370.6L2174.7 370.2L2175.1 369.8L2175.5 369.5L2175.9 369.1L2176.3 368.8L2176.7 368.4L2177.2 368.2L2177.6 368.2L2178 368.2L2178.4 368.6L2178.8 368.9L2179.2 369.3L2179.6 369.6L2180 369.9L2180.4 370.3L2180.8 370.6L2181.2 370.5L2181.6 370.2L2182 369.8L2182.8 468.5L2183.6 368.5L2183.6 368.5L2184 368.2L2184.4 368.2L2184.8 368.2L2185.2 368.2L2185.7 368.2L2186.1 368.2L2186.5 368.2L2186.9 368.2L2187.3 368.2L2187.7 368.2L2188.1 368.5L2188.5 368.9L2188.9 369.2L2189.3 369.6L2189.7 370L2190.1 370.4L2190.5 370.7L2190.9 370.4L2191.3 370L2191.7 369.6L2192.1 369.2L2192.5 368.8L2192.9 368.5L2193.3 368.2L2193.8 368.2L2194.2 368.3L2194.6 368.5L2194.6 368.5L2195.4 468.2L2196.2 369.1L2196.2 369.1L2196.6 369.3L2197 369.5L2197.4 369.7L2197.8 369.5L2198.2 369.3L2198.6 369.1L2199 369L2199.4 368.8L2199.8 368.6L2200.2 368.5L2200.6 368.6L2201 369.2L2201.4 369.8L2201.9 370.4L2202.3 370.9L2202.7 371.5L2203.1 372.1L2203.5 372.7L2203.9 373.3L2204.3 373.9L2204.7 373.6L2205.1 373L2205.5 372.4L2205.9 371.8L2206.3 371.2L2206.7 370.6L2207.1 370L2207.5 369.4L2207.9 369.3L2208.3 369.6L2208.7 369.9L2209.1 370.1L2209.5 370.4L2210 370.7L2210.4 370.6L2210.8 370.3L2211.2 370L2211.6 369.8L2212 369.5L2212.4 369.2L2212.8 369L2213.2 368.7L2213.6 368.4L2214 368.2L2214.4 368.2L2214.8 368.2L2215.2 368.4L2215.6 368.6L2216 368.7L2216.4 368.9L2216.8 369.1L2217.2 369.2L2217.7 369.4L2218.1 369.6L2218.5 369.6L2218.9 369.4L2219.3 369.2L2219.7 369L2220.1 368.9L2220.5 368.7L2220.9 368.5L2221.3 368.4L2221.7 368.6L2222.1 369.1L2222.5 369.6L2222.9 370.1L2223.3 370.6L2223.7 371.2L2224.1 371.7L2224.5 372.2L2224.9 372.7L2225.3 372.7L2225.8 372.2L2226.2 371.7L2226.6 371.2L2227 370.7L2227.4 370.2L2227.8 369.7L2228.2 369.2L2228.6 368.6L2229 368.2L2229.4 368.2L2229.8 368.2L2230.2 368.2L2230.6 368.2L2231 368.2L2231.4 368.2L2231.8 368.3L2232.2 368.7L2232.6 369L2233 369.4L2233.4 369.7L2233.8 370.1L2234.3 370.4L2234.7 370.7L2235.1 371.1L2235.5 371.4L2235.9 371.8L2236.3 371.5L2236.7 371.2L2237.1 370.8L2237.5 370.5L2237.9 370.1L2238.3 369.8L2238.7 369.4L2239.1 369.1L2239.5 368.7L2239.9 368.4L2240.3 368.5L2240.7 369L2241.1 369.6L2241.5 370.1L2241.9 370.6L2242.4 370.4L2242.8 369.8L2243.6 468.9L2244.4 368.2L2244.4 368.2L2244.8 368.2L2245.2 368.2L2245.6 368.2L2246 368.2L2246.4 368.2L2246.8 368.2L2247.2 368.2L2247.6 368.2L2248 368.2L2248.4 368.2L2248.8 368.2L2249.2 368.2L2249.6 368.4L2250 368.6L2250.5 368.8L2250.9 369L2251.3 369.1L2251.7 369.3L2252.1 369.5L2252.5 369.6L2252.9 369.4L2253.3 369.3L2253.7 369.1L2254.1 368.9L2254.5 368.7L2254.9 368.5L2255.3 368.4L2255.3 368.4L2256.1 468.5L2256.9 368.2L2256.9 368.2L2257.3 368.2L2257.7 368.9L2258.2 369.5L2258.6 370.2L2259 370.9L2259.4 371.6L2259.8 372.2L2260.2 372.9L2260.6 372.3L2261 371.6L2261.4 370.9L2261.8 370.3L2262.2 369.6L2262.6 368.9L2263 368.2L2263.4 368.3L2263.8 368.8L2264.2 369.4L2264.6 369.9L2265 370.4L2265.4 370.5L2265.8 370L2266.2 369.5L2266.7 368.9L2267.1 368.4L2267.5 368.2L2267.9 368.2L2268.3 368.2L2268.7 368.2L2269.1 368.2L2269.5 368.2L2269.9 368.8L2270.3 369.6L2270.7 370.3L2271.1 371.1L2271.5 371.8L2271.9 371.1L2272.3 370.4L2272.7 369.6L2273.1 368.9L2273.5 368.2L2273.9 368.2L2274.3 368.2L2274.8 368.2L2275.2 368.2L2275.6 368.2L2276 368.2L2276.4 368.2L2276.8 368.2L2277.2 368.2L2277.6 368.2L2278 368.2L2278.4 368.2L2278.8 368.2L2279.2 368.2L2279.6 368.2L2280 368.2L2280.4 368.5L2280.8 369.1L2281.2 369.7L2281.6 370.2L2282 370.8L2282.4 371.4L2282.9 371.8L2283.3 371.2L2283.7 370.6L2284.1 370.1L2284.5 369.5L2284.9 368.9L2285.3 368.4L2285.7 368.2L2286.1 368.2L2286.5 368.2L2286.9 368.2L2287.3 368.2L2287.7 368.2L2288.1 368.2L2288.5 368.2L2288.9 368.2L2289.3 368.2L2289.7 368.2L2290.1 368.2L2290.5 368.4L2291 368.6L2291.4 368.8L2291.8 369L2292.2 369.2L2292.6 369.5L2293 369.6L2293.4 369.4L2293.8 369.2L2294.2 369L2294.6 368.7" fill="none" stroke="#0000ff" stroke-width="9.2" stroke-dasharray="32.4 7.2 16.65 7.1" stroke-dashoffset="0" stroke-linejoin="bevel" stroke-miterlimit="2"/>
<path d="M269.6 213.8L270.6 214.9L271.6 216.3L272.6 217.9L273.7 219.6L274.7 221.6L275.7 224L276.7 226.5L277.7 229.1L278.7 231.8L279.7 234.7L280.7 237.7L281.8 240.8L282.8 243.9L283.8 247L284.8 250.5L285.8 254.3L286.8 259L287.8 264.5L288.8 270.4L289.9 276.2L290.9 281.7L291.9 287.5L292.9 293.3L293.9 298.7L294.9 303.3L295.9 307.1L296.9 310.5L298 313.6L299 316.5L300 319.3L301 322.1L302 325L303 328.1L304 331.1L305 334.1L306.1 337.2L307.1 340.2L308.1 343.2L309.1 346.2L310.1 349.2L311.1 352.2L312.1 355.2L313.1 358.1L314.2 361.1L315.2 364L316.2 366.9L317.2 369.8L318.2 372.6L319.2 375.5L320.2 378.4L321.2 381.4L322.2 384.2L323.3 387L324.3 389.6L325.3 391.9L326.3 394L327.3 395.9L328.3 397.7L329.3 399.4L330.4 400.9L331.4 402.5L332.4 404L333.4 405.4L334.4 406.8L335.4 408.2L336.4 409.5L337.4 410.7L338.5 412L339.5 413.3L340.5 414.5L341.5 415.7L342.5 417L343.5 418.1L344.5 419.3L345.5 420.5L346.6 421.7L347.6 422.8L348.6 424L349.6 425.2L350.6 426.4L351.6 427.6L352.6 428.7L353.6 429.7L354.7 430.7L355.7 431.4L356.7 432.1L357.7 432.8L358.7 433.4L359.7 433.9L360.7 434.5L361.7 435L362.8 435.5L363.8 436.1L364.8 436.6L365.8 437.1L366.8 437.6L367.8 438L368.8 438.5L369.8 438.9L370.9 439.4L371.9 439.8L372.9 440.2L373.9 440.5L374.9 440.9L375.9 441.2L376.9 441.6L377.9 441.9L379 442.3L380 442.7L381 443L382 443.4L383 443.7L384 444.1L385 444.5L386 444.8L387.1 444.1L388.1 443.4L389.1 442.7L390.1 441.9L391.1 441.2L392.1 440.5L393.1 439.8L394.1 439.1L395.2 438.4L396.2 437.7L397.2 436.9L398.2 436.2L399.2 435.5L400.2 434.7L401.2 433.9L402.2 433.2L403.2 432.4L404.3 431.6L405.3 430.8L406.3 430L407.3 429.2L408.3 428.4L409.3 427.6L410.3 426.8L411.4 426L412.4 425.2L413.4 424.4L414.4 423.7L415.4 422.9L416.4 422.1L417.4 421.3L418.4 420.6L419.5 419.8L420.5 419.1L421.5 418.3L422.5 417.6L423.5 416.9L424.5 416.2L425.5 415.5L426.5 414.8L427.6 414.2L428.6 413.5L429.6 412.9L430.6 412.3L431.6 411.7L432.6 411.2L433.6 410.6L434.6 410.1L435.6 409.6L436.7 409.1L437.7 408.6L438.7 408.1L439.7 407.7L440.7 407.2L441.7 406.8L442.7 406.4L443.8 405.9L444.8 405.5L445.8 405.1L446.8 404.7L447.8 404.3L448.8 403.9L449.8 403.6L450.8 403.2L451.9 402.8L452.9 402.5L453.9 402.1L454.9 401.8L455.9 401.4L456.9 401.1L457.9 400.7L458.9 400.4L460 400.1L461 399.7L462 399.4L463 399.1L464 398.8L465 398.5L466 398.2L467 397.9L468.1 397.6L469.1 397.3L470.1 397.1L471.1 396.8L472.1 396.5L473.1 396.2L474.1 396L475.1 395.7L476.1 395.4L477.2 395.2L478.2 394.9L479.2 394.6L480.2 394.4L481.2 394.1L482.2 393.8L483.2 393.6L484.2 393.3L485.3 393.1L486.3 392.8L487.3 392.6L488.3 392.4L489.3 392.2L490.3 391.9L491.3 391.7L492.4 391.6L493.4 391.4L494.4 391.2L495.4 391L496.4 390.9L497.4 390.7L498.4 390.5L499.4 390.4L500.5 390.2L501.5 390.1L502.5 389.9L503.5 389.8L504.5 389.7L505.5 389.5L506.5 389.4L507.5 389.3L508.6 389.2L509.6 389.1L510.6 389L511.6 388.8L512.6 388.7L513.6 388.6L514.6 388.5L515.6 388.4L516.6 388.3L517.7 388.2L518.7 388.1L519.7 388.1L520.7 388L521.7 388L522.7 387.9L523.7 387.9L524.8 387.9L525.8 387.9L526.8 387.9L527.8 387.8L528.8 387.8L529.8 387.8L530.8 387.8L531.8 387.8L532.9 387.8L533.9 387.8L534.9 387.8L535.9 387.8L536.9 387.8L537.9 387.8L538.9 387.8L539.9 387.8L541 387.8L542 387.8L543 387.8L544 387.8L545 387.8L546 387.8L547 387.8L548 387.8L549 387.8L550.1 387.8L551.1 387.8L552.1 387.8L553.1 387.8L2294.6 387.8" fill="none" stroke="#ff0000" stroke-width="13" stroke-dasharray="48.6 46.4" stroke-dashoffset="5.7" stroke-linejoin="miter" stroke-miterlimit="2"/>
<line x1="674.6" y1="789.1" x2="674.6" y2="1100" class="g"/>
<line x1="1079.6" y1="789.1" x2="1079.6" y2="1100" class="g"/>
<line x1="1484.6" y1="789.1" x2="1484.6" y2="1100" class="g"/>
<line x1="1889.6" y1="789.1" x2="1889.6" y2="1100" class="g"/>
<line x1="272" y1="836.6" x2="2292.2" y2="836.6" class="g"/>
<line x1="272" y1="941" x2="2292.2" y2="941" class="g"/>
<line x1="272" y1="1045.5" x2="2292.2" y2="1045.5" class="g"/>
<rect x="269.6" y="761.4" width="2025" height="364" class="bx"/>
<line x1="674.6" y1="1125.4" x2="674.6" y2="1103.2" class="tk"/>
<line x1="674.6" y1="761.4" x2="674.6" y2="785.6" class="tk"/>
<line x1="1079.6" y1="1125.4" x2="1079.6" y2="1103.2" class="tk"/>
<line x1="1079.6" y1="761.4" x2="1079.6" y2="785.6" class="tk"/>
<line x1="1484.6" y1="1125.4" x2="1484.6" y2="1103.2" class="tk"/>
<line x1="1484.6" y1="761.4" x2="1484.6" y2="785.6" class="tk"/>
<line x1="1889.6" y1="1125.4" x2="1889.6" y2="1103.2" class="tk"/>
<line x1="1889.6" y1="761.4" x2="1889.6" y2="785.6" class="tk"/>
<line x1="269.6" y1="836.6" x2="292.6" y2="836.6" class="tk"/>
<line x1="2294.6" y1="836.6" x2="2271.6" y2="836.6" class="tk"/>
<line x1="269.6" y1="941" x2="292.6" y2="941" class="tk"/>
<line x1="2294.6" y1="941" x2="2271.6" y2="941" class="tk"/>
<line x1="269.6" y1="1045.5" x2="292.6" y2="1045.5" class="tk"/>
<line x1="2294.6" y1="1045.5" x2="2271.6" y2="1045.5" class="tk"/>
<text x="268.4" y="1202.2" text-anchor="middle" class="t">0</text>
<text x="673.4" y="1202.2" text-anchor="middle" class="t">100</text>
<text x="1078.4" y="1202.2" text-anchor="middle" class="t">200</text>
<text x="1483.4" y="1202.2" text-anchor="middle" class="t">300</text>
<text x="1888.4" y="1202.2" text-anchor="middle" class="t">400</text>
<text x="2293.4" y="1202.2" text-anchor="middle" class="t">500</text>
<text x="254" y="860.3" text-anchor="end" class="t">40</text>
<text x="254" y="964.8" text-anchor="end" class="t">20</text>
<text x="254" y="1069.2" text-anchor="end" class="t">0</text>
<text x="1279.6" y="1283.8" text-anchor="middle" class="t">Time (s)</text>
<text transform="translate(134.6 1045.4) rotate(-90) scale(1.27 0.86)" class="t" font-style="italic" style="stroke:none">τ</text>
<text transform="translate(165.5 1001.8) rotate(-90)" class="t sub" text-anchor="middle">2</text>
<text transform="translate(133.1 908) rotate(-90)" class="t" text-anchor="middle">(kN)</text>
<path d="M269.6 761.4L270.6 766.7L271.6 772.2L272.6 777.7L273.7 783.3L274.7 789L275.7 794.8L276.7 800.7L277.7 806.8L278.7 813.2L279.7 820L280.7 826.9L281.8 833.9L282.8 840.7L283.8 847.2L284.8 853.2L285.8 858.7L286.8 863.8L287.8 868.7L288.8 873.4L289.9 878.3L290.9 883.3L291.9 888.2L292.9 893.1L293.9 897.9L294.9 902.6L295.9 907.2L296.9 911.7L298 916.2L299 920.6L300 925L301 929.4L302 933.7L303 938L304 942.2L305 946.5L306.1 950.7L307.1 954.8L308.1 958.9L309.1 963L310.1 967L311.1 971.1L312.1 975.3L313.1 979.5L314.2 983.7L315.2 987.8L316.2 991.8L317.2 995.5L318.2 999.3L319.2 1002.9L320.2 1006.6L321.2 1010.2L322.2 1013.7L323.3 1017.2L324.3 1020.6L325.3 1024L326.3 1027.2L327.3 1030.4L328.3 1033.4L329.3 1036.4L330.4 1039.2L331.4 1041.9L332.4 1044.6L333.4 1047.1L334.4 1049.5L335.4 1051.9L336.4 1054.2L337.4 1056.4L338.5 1058.7L339.5 1060.9L340.5 1063.1L341.5 1065.3L342.5 1067.6L343.5 1069.8L344.5 1071.9L345.5 1074L346.6 1076.1L347.6 1078.1L348.6 1080L349.6 1081.7L350.6 1083.4L351.6 1085L352.6 1086.6L353.6 1088.2L354.7 1089.7L355.7 1091.2L356.7 1092.5L357.7 1093.8L358.7 1095L360.5 1093.5L362.3 1103.1L364.2 1096L366 1105.9L367.8 1099.3L369.6 1108.9L371.5 1100.3L373.3 1111.1L375.1 1102.2L376.9 1112.6L378.7 1103.8L380.6 1114.6L382.4 1105.4L384.2 1115.8L386 1107.5L387.9 1116.9L389.7 1110.7L391.5 1120.4L393.3 1111.4L395.1 1119.5L397 1112.2L398.8 1123.2L400.6 1113.2L402.4 1124.7L404.3 1114.1L406.1 1124.6L407.9 1117.1L409.7 1124.5L411.6 1116.5L413.4 1124L415.2 1112.4L417 1119.8L418.8 1110.1L420.7 1119.2L422.5 1107.8L424.3 1114.8L426.1 1106.6L428 1113.5L429.8 1102.1L431.6 1109.4L433.4 1099.7L435.2 1105.3L437.1 1094.6L438.9 1104L440.7 1091.3L442.5 1100.5L444.4 1089.2L446.2 1097L448 1086.2L449.8 1092.8L451.6 1082.3L453.5 1088.3L455.3 1076.9L457.1 1084.7L458.9 1073.3L460.8 1081.9L462.6 1071.8L464.4 1078L466.2 1069.7L468 1076.1L469.9 1064.8L471.7 1072.6L473.5 1063.2L475.3 1072.1L477.2 1061L479 1069.6L480.8 1057.6L482.6 1066.2L484.5 1055.8L486.3 1062.8L488.1 1053.9L489.9 1062.4L491.7 1052.5L493.6 1058.6L495.4 1051.2L497.2 1057.2L499 1049.3L500.9 1057.7L502.7 1047.5L504.5 1055.9L506.3 1047L508.1 1054.4L510 1045.6L511.8 1054.9L513.6 1049.5L515.4 1049.2L517.3 1049L519.1 1048.7L520.7 1050.3L522.7 1050.2L525.5 1051.6L527.5 1040.9L529.4 1050.8L531 1051.6L532.1 1051.6L532.9 1050.5L535.4 1050L537.8 1051.4L539.5 1041.4L541.1 1048.9L541.7 1050.2L543.9 1051.5L545.6 1051.1L547.4 1050.6L549.4 1051.1L551.8 1041.6L553.7 1049.9L554.6 1050.5L557 1050.6L559.6 1052.3L560.9 1050.9L563.6 1051.6L566 1050.6L567.7 1050.3L569.9 1040.9L571.9 1049L572.8 1051.1L575.4 1049.6L576.7 1050.6L578 1051.5L578.7 1051.5L581.1 1050.7L582 1049L584.1 1040.9L585.4 1047.3L585.9 1050.2L588.1 1050.3L590.7 1050.2L593.8 1050L596.2 1041.1L597.9 1049.2L599.4 1051.3L602.9 1049.7L603.3 1050.3L605.3 1050.2L608.1 1051.6L610.1 1040.9L612.1 1050.8L613.6 1051.6L614.7 1051.6L615.6 1050.5L618 1050L620.5 1051.4L622.1 1041.4L623.8 1048.9L624.3 1050.2L626.5 1051.5L628.3 1051.1L630 1050.6L632 1051.1L634.4 1041.6L636.4 1049.9L637.2 1050.5L639.6 1050.6L642.3 1052.3L643.6 1050.9L646.2 1051.6L648.6 1050.6L650.4 1050.3L652.5 1040.9L654.5 1049L655.5 1051.1L658 1049.6L659.3 1050.6L660.6 1051.5L661.3 1051.5L663.7 1050.7L664.7 1049L666.8 1040.9L668.1 1047.3L668.5 1050.2L670.7 1050.3L673.3 1050.2L676.5 1050L678.8 1041.1L680.5 1049.2L682 1051.3L685.6 1049.7L685.9 1050.3L687.9 1050.2L690.8 1051.6L692.7 1040.9L694.7 1050.8L696.2 1051.6L697.3 1051.6L698.2 1050.5L700.6 1050L703.1 1051.4L704.8 1041.4L706.4 1048.9L706.9 1050.2L709.1 1051.5L710.9 1051.1L712.6 1050.6L714.6 1051.1L717 1041.6L719 1049.9L719.8 1050.5L722.3 1050.6L724.9 1052.3L726.2 1050.9L728.8 1051.6L731.2 1050.6L733 1050.3L735.2 1040.9L737.1 1049L738.1 1051.1L740.6 1049.6L741.9 1050.6L743.3 1051.5L743.9 1051.5L746.3 1050.7L747.3 1049L749.4 1040.9L750.7 1047.3L751.1 1050.2L753.3 1050.3L755.9 1050.2L759.1 1050L761.4 1041.1L763.2 1049.2L764.6 1051.3L768.2 1049.7L768.6 1050.3L770.5 1050.2L773.4 1051.6L775.3 1040.9L777.3 1050.8L778.8 1051.6L779.9 1051.6L780.8 1050.5L783.2 1050L785.7 1051.4L787.4 1041.4L789 1048.9L789.6 1050.2L791.7 1051.5L793.5 1051.1L795.2 1050.6L797.2 1051.1L799.6 1041.6L801.6 1049.9L802.5 1050.5L804.9 1050.6L807.5 1052.3L808.8 1050.9L811.4 1051.6L813.8 1050.6L815.6 1050.3L817.8 1040.9L819.7 1049L820.7 1051.1L823.2 1049.6L824.6 1050.6L825.9 1051.5L826.5 1051.5L828.9 1050.7L829.9 1049L832 1040.9L833.3 1047.3L833.7 1050.2L835.9 1050.3L838.6 1050.2L841.7 1050L844 1041.1L845.8 1049.2L847.2 1051.3L850.8 1049.7L851.2 1050.3L853.1 1050.2L856 1051.6L858 1040.9L859.9 1050.8L861.5 1051.6L862.6 1051.6L863.4 1050.5L865.8 1050L868.3 1051.4L870 1041.4L871.6 1048.9L872.2 1050.2L874.4 1051.5L876.1 1051.1L877.9 1050.6L879.8 1051.1L882.2 1041.6L884.2 1049.9L885.1 1050.5L887.5 1050.6L890.1 1052.3L891.4 1050.9L894.1 1051.6L896.5 1050.6L898.2 1050.3L900.4 1040.9L902.4 1049L903.3 1051.1L905.9 1049.6L907.2 1050.6L908.5 1051.5L909.1 1051.5L911.6 1050.7L912.5 1049L914.6 1040.9L915.9 1047.3L916.4 1050.2L918.6 1050.3L921.2 1050.2L924.3 1050L926.6 1041.1L928.4 1049.2L929.8 1051.3L933.4 1049.7L933.8 1050.3L935.8 1050.2L938.6 1051.6L940.6 1040.9L942.5 1050.8L944.1 1051.6L945.2 1051.6L946 1050.5L948.5 1050L950.9 1051.4L952.6 1041.4L954.2 1048.9L954.8 1050.2L957 1051.5L958.7 1051.1L960.5 1050.6L962.5 1051.1L964.9 1041.6L966.8 1049.9L967.7 1050.5L970.1 1050.6L972.7 1052.3L974 1050.9L976.7 1051.6L979.1 1050.6L980.8 1050.3L983 1040.9L985 1049L985.9 1051.1L988.5 1049.6L989.8 1050.6L991.1 1051.5L991.8 1051.5L994.2 1050.7L995.1 1049L997.2 1040.9L998.5 1047.3L999 1050.2L1001.2 1050.3L1003.8 1050.2L1006.9 1050L1009.3 1041.1L1011 1049.2L1012.5 1051.3L1016 1049.7L1016.4 1050.3L1018.4 1050.2L1021.2 1051.6L1023.2 1040.9L1025.2 1050.8L1026.7 1051.6L1027.8 1051.6L1028.7 1050.5L1031.1 1050L1033.6 1051.4L1035.2 1041.4L1036.9 1048.9L1037.4 1050.2L1039.6 1051.5L1041.4 1051.1L1043.1 1050.6L1045.1 1051.1L1047.5 1041.6L1049.5 1049.9L1050.3 1050.5L1052.7 1050.6L1055.4 1052.3L1056.7 1050.9L1059.3 1051.6L1061.7 1050.6L1063.5 1050.3L1065.6 1040.9L1067.6 1049L1068.6 1051.1L1071.1 1049.6L1072.4 1050.6L1073.7 1051.5L1074.4 1051.5L1076.8 1050.7L1077.8 1049L1079.9 1040.9L1081.2 1047.3L1081.6 1050.2L1083.8 1050.3L1086.4 1050.2L1089.6 1050L1091.9 1041.1L1093.6 1049.2L1095.1 1051.3L1098.7 1049.7L1099 1050.3L1101 1050.2L1103.9 1051.6L1105.8 1040.9L1107.8 1050.8L1109.3 1051.6L1110.4 1051.6L1111.3 1050.5L1113.7 1050L1116.2 1051.4L1117.9 1041.4L1119.5 1048.9L1120 1050.2L1122.2 1051.5L1124 1051.1L1125.7 1050.6L1127.7 1051.1L1130.1 1041.6L1132.1 1049.9L1132.9 1050.5L1135.4 1050.6L1138 1052.3L1139.3 1050.9L1141.9 1051.6L1144.3 1050.6L1146.1 1050.3L1148.3 1040.9L1150.2 1049L1151.2 1051.1L1153.7 1049.6L1155 1050.6L1156.4 1051.5L1157 1051.5L1159.4 1050.7L1160.4 1049L1162.5 1040.9L1163.8 1047.3L1164.2 1050.2L1166.4 1050.3L1169 1050.2L1172.2 1050L1174.5 1041.1L1176.3 1049.2L1177.7 1051.3L1181.3 1049.7L1181.7 1050.3L1183.6 1050.2L1186.5 1051.6L1188.4 1040.9L1190.4 1050.8L1191.9 1051.6L1193 1051.6L1193.9 1050.5L1196.3 1050L1198.8 1051.4L1200.5 1041.4L1202.1 1048.9L1202.7 1050.2L1204.8 1051.5L1206.6 1051.1L1208.3 1050.6L1210.3 1051.1L1212.7 1041.6L1214.7 1049.9L1215.6 1050.5L1218 1050.6L1220.6 1052.3L1221.9 1050.9L1224.5 1051.6L1226.9 1050.6L1228.7 1050.3L1230.9 1040.9L1232.8 1049L1233.8 1051.1L1236.3 1049.6L1237.7 1050.6L1239 1051.5L1239.6 1051.5L1242 1050.7L1243 1049L1245.1 1040.9L1246.4 1047.3L1246.8 1050.2L1249 1050.3L1251.7 1050.2L1254.8 1050L1257.1 1041.1L1258.9 1049.2L1260.3 1051.3L1263.9 1049.7L1264.3 1050.3L1266.2 1050.2L1269.1 1051.6L1271.1 1040.9L1273 1050.8L1274.6 1051.6L1275.7 1051.6L1276.5 1050.5L1278.9 1050L1281.4 1051.4L1283.1 1041.4L1284.7 1048.9L1285.3 1050.2L1287.5 1051.5L1289.2 1051.1L1291 1050.6L1292.9 1051.1L1295.3 1041.6L1297.3 1049.9L1298.2 1050.5L1300.6 1050.6L1303.2 1052.3L1304.5 1050.9L1307.2 1051.6L1309.6 1050.6L1311.3 1050.3L1313.5 1040.9L1315.5 1049L1316.4 1051.1L1319 1049.6L1320.3 1050.6L1321.6 1051.5L1322.2 1051.5L1324.7 1050.7L1325.6 1049L1327.7 1040.9L1329 1047.3L1329.5 1050.2L1331.7 1050.3L1334.3 1050.2L1337.4 1050L1339.7 1041.1L1341.5 1049.2L1342.9 1051.3L1346.5 1049.7L1346.9 1050.3L1348.9 1050.2L1351.7 1051.6L1353.7 1040.9L1355.6 1050.8L1357.2 1051.6L1358.3 1051.6L1359.1 1050.5L1361.6 1050L1364 1051.4L1365.7 1041.4L1367.3 1048.9L1367.9 1050.2L1370.1 1051.5L1371.8 1051.1L1373.6 1050.6L1375.6 1051.1L1378 1041.6L1379.9 1049.9L1380.8 1050.5L1383.2 1050.6L1385.8 1052.3L1387.1 1050.9L1389.8 1051.6L1392.2 1050.6L1393.9 1050.3L1396.1 1040.9L1398.1 1049L1399 1051.1L1401.6 1049.6L1402.9 1050.6L1404.2 1051.5L1404.9 1051.5L1407.3 1050.7L1408.2 1049L1410.3 1040.9L1411.6 1047.3L1412.1 1050.2L1414.3 1050.3L1416.9 1050.2L1420 1050L1422.4 1041.1L1424.1 1049.2L1425.6 1051.3L1429.1 1049.7L1429.5 1050.3L1431.5 1050.2L1434.3 1051.6L1436.3 1040.9L1438.3 1050.8L1439.8 1051.6L1440.9 1051.6L1441.8 1050.5L1444.2 1050L1446.7 1051.4L1448.3 1041.4L1450 1048.9L1450.5 1050.2L1452.7 1051.5L1454.5 1051.1L1456.2 1050.6L1458.2 1051.1L1460.6 1041.6L1462.6 1049.9L1463.4 1050.5L1465.8 1050.6L1468.5 1052.3L1469.8 1050.9L1472.4 1051.6L1474.8 1050.6L1476.6 1050.3L1478.7 1040.9L1480.7 1049L1481.7 1051.1L1484.2 1049.6L1485.5 1050.6L1486.8 1051.5L1487.5 1051.5L1489.9 1050.7L1490.9 1049L1493 1040.9L1494.3 1047.3L1494.7 1050.2L1496.9 1050.3L1499.5 1050.2L1502.7 1050L1505 1041.1L1506.7 1049.2L1508.2 1051.3L1511.8 1049.7L1512.1 1050.3L1514.1 1050.2L1517 1051.6L1518.9 1040.9L1520.9 1050.8L1522.4 1051.6L1523.5 1051.6L1524.4 1050.5L1526.8 1050L1529.3 1051.4L1531 1041.4L1532.6 1048.9L1533.1 1050.2L1535.3 1051.5L1537.1 1051.1L1538.8 1050.6L1540.8 1051.1L1543.2 1041.6L1545.2 1049.9L1546 1050.5L1548.5 1050.6L1551.1 1052.3L1552.4 1050.9L1555 1051.6L1557.4 1050.6L1559.2 1050.3L1561.4 1040.9L1563.3 1049L1564.3 1051.1L1566.8 1049.6L1568.1 1050.6L1569.5 1051.5L1570.1 1051.5L1572.5 1050.7L1573.5 1049L1575.6 1040.9L1576.9 1047.3L1577.3 1050.2L1579.5 1050.3L1582.1 1050.2L1585.3 1050L1587.6 1041.1L1589.4 1049.2L1590.8 1051.3L1594.4 1049.7L1594.8 1050.3L1596.7 1050.2L1599.6 1051.6L1601.5 1040.9L1603.5 1050.8L1605 1051.6L1606.1 1051.6L1607 1050.5L1609.4 1050L1611.9 1051.4L1613.6 1041.4L1615.2 1048.9L1615.8 1050.2L1617.9 1051.5L1619.7 1051.1L1621.4 1050.6L1623.4 1051.1L1625.8 1041.6L1627.8 1049.9L1628.7 1050.5L1631.1 1050.6L1633.7 1052.3L1635 1050.9L1637.6 1051.6L1640 1050.6L1641.8 1050.3L1644 1040.9L1645.9 1049L1646.9 1051.1L1649.4 1049.6L1650.8 1050.6L1652.1 1051.5L1652.7 1051.5L1655.1 1050.7L1656.1 1049L1658.2 1040.9L1659.5 1047.3L1659.9 1050.2L1662.1 1050.3L1664.8 1050.2L1667.9 1050L1670.2 1041.1L1672 1049.2L1673.4 1051.3L1677 1049.7L1677.4 1050.3L1679.3 1050.2L1682.2 1051.6L1684.2 1040.9L1686.1 1050.8L1687.7 1051.6L1688.8 1051.6L1689.6 1050.5L1692 1050L1694.5 1051.4L1696.2 1041.4L1697.8 1048.9L1698.4 1050.2L1700.6 1051.5L1702.3 1051.1L1704.1 1050.6L1706 1051.1L1708.4 1041.6L1710.4 1049.9L1711.3 1050.5L1713.7 1050.6L1716.3 1052.3L1717.6 1050.9L1720.3 1051.6L1722.7 1050.6L1724.4 1050.3L1726.6 1040.9L1728.6 1049L1729.5 1051.1L1732.1 1049.6L1733.4 1050.6L1734.7 1051.5L1735.3 1051.5L1737.8 1050.7L1738.7 1049L1740.8 1040.9L1742.1 1047.3L1742.6 1050.2L1744.8 1050.3L1747.4 1050.2L1750.5 1050L1752.8 1041.1L1754.6 1049.2L1756 1051.3L1759.6 1049.7L1760 1050.3L1762 1050.2L1764.8 1051.6L1766.8 1040.9L1768.7 1050.8L1770.3 1051.6L1771.4 1051.6L1772.2 1050.5L1774.7 1050L1777.1 1051.4L1778.8 1041.4L1780.4 1048.9L1781 1050.2L1783.2 1051.5L1784.9 1051.1L1786.7 1050.6L1788.7 1051.1L1791.1 1041.6L1793 1049.9L1793.9 1050.5L1796.3 1050.6L1798.9 1052.3L1800.2 1050.9L1802.9 1051.6L1805.3 1050.6L1807 1050.3L1809.2 1040.9L1811.2 1049L1812.1 1051.1L1814.7 1049.6L1816 1050.6L1817.3 1051.5L1818 1051.5L1820.4 1050.7L1821.3 1049L1823.4 1040.9L1824.7 1047.3L1825.2 1050.2L1827.4 1050.3L1830 1050.2L1833.1 1050L1835.5 1041.1L1837.2 1049.2L1838.7 1051.3L1842.2 1049.7L1842.6 1050.3L1844.6 1050.2L1847.4 1051.6L1849.4 1040.9L1851.4 1050.8L1852.9 1051.6L1854 1051.6L1854.9 1050.5L1857.3 1050L1859.8 1051.4L1861.4 1041.4L1863.1 1048.9L1863.6 1050.2L1865.8 1051.5L1867.6 1051.1L1869.3 1050.6L1871.3 1051.1L1873.7 1041.6L1875.7 1049.9L1876.5 1050.5L1878.9 1050.6L1881.6 1052.3L1882.9 1050.9L1885.5 1051.6L1887.9 1050.6L1889.7 1050.3L1891.8 1040.9L1893.8 1049L1894.8 1051.1L1897.3 1049.6L1898.6 1050.6L1899.9 1051.5L1900.6 1051.5L1903 1050.7L1904 1049L1906.1 1040.9L1907.4 1047.3L1907.8 1050.2L1910 1050.3L1912.6 1050.2L1915.8 1050L1918.1 1041.1L1919.8 1049.2L1921.3 1051.3L1924.9 1049.7L1925.2 1050.3L1927.2 1050.2L1930.1 1051.6L1932 1040.9L1934 1050.8L1935.5 1051.6L1936.6 1051.6L1937.5 1050.5L1939.9 1050L1942.4 1051.4L1944.1 1041.4L1945.7 1048.9L1946.2 1050.2L1948.4 1051.5L1950.2 1051.1L1951.9 1050.6L1953.9 1051.1L1956.3 1041.6L1958.3 1049.9L1959.1 1050.5L1961.6 1050.6L1964.2 1052.3L1965.5 1050.9L1968.1 1051.6L1970.5 1050.6L1972.3 1050.3L1974.5 1040.9L1976.4 1049L1977.4 1051.1L1979.9 1049.6L1981.2 1050.6L1982.6 1051.5L1983.2 1051.5L1985.6 1050.7L1986.6 1049L1988.7 1040.9L1990 1047.3L1990.4 1050.2L1992.6 1050.3L1995.2 1050.2L1998.4 1050L2000.7 1041.1L2002.5 1049.2L2003.9 1051.3L2007.5 1049.7L2007.9 1050.3L2009.8 1050.2L2012.7 1051.6L2014.6 1040.9L2016.6 1050.8L2018.1 1051.6L2019.2 1051.6L2020.1 1050.5L2022.5 1050L2025 1051.4L2026.7 1041.4L2028.3 1048.9L2028.9 1050.2L2031 1051.5L2032.8 1051.1L2034.5 1050.6L2036.5 1051.1L2038.9 1041.6L2040.9 1049.9L2041.8 1050.5L2044.2 1050.6L2046.8 1052.3L2048.1 1050.9L2050.7 1051.6L2053.1 1050.6L2054.9 1050.3L2057.1 1040.9L2059 1049L2060 1051.1L2062.5 1049.6L2063.9 1050.6L2065.2 1051.5L2065.8 1051.5L2068.2 1050.7L2069.2 1049L2071.3 1040.9L2072.6 1047.3L2073 1050.2L2075.2 1050.3L2077.9 1050.2L2081 1050L2083.3 1041.1L2085.1 1049.2L2086.5 1051.3L2090.1 1049.7L2090.5 1050.3L2092.4 1050.2L2095.3 1051.6L2097.3 1040.9L2099.2 1050.8L2100.8 1051.6L2101.9 1051.6L2102.7 1050.5L2105.1 1050L2107.6 1051.4L2109.3 1041.4L2110.9 1048.9L2111.5 1050.2L2113.7 1051.5L2115.4 1051.1L2117.2 1050.6L2119.1 1051.1L2121.5 1041.6L2123.5 1049.9L2124.4 1050.5L2126.8 1050.6L2129.4 1052.3L2130.7 1050.9L2133.4 1051.6L2135.8 1050.6L2137.5 1050.3L2139.7 1040.9L2141.7 1049L2142.6 1051.1L2145.2 1049.6L2146.5 1050.6L2147.8 1051.5L2148.4 1051.5L2150.9 1050.7L2151.8 1049L2153.9 1040.9L2155.2 1047.3L2155.7 1050.2L2157.9 1050.3L2160.5 1050.2L2163.6 1050L2165.9 1041.1L2167.7 1049.2L2169.1 1051.3L2172.7 1049.7L2173.1 1050.3L2175.1 1050.2L2177.9 1051.6L2179.9 1040.9L2181.8 1050.8L2183.4 1051.6L2184.5 1051.6L2185.3 1050.5L2187.8 1050L2190.2 1051.4L2191.9 1041.4L2193.5 1048.9L2194.1 1050.2L2196.3 1051.5L2198 1051.1L2199.8 1050.6L2201.8 1051.1L2204.2 1041.6L2206.1 1049.9L2207 1050.5L2209.4 1050.6L2212 1052.3L2213.3 1050.9L2216 1051.6L2218.4 1050.6L2220.1 1050.3L2222.3 1040.9L2224.3 1049L2225.2 1051.1L2227.8 1049.6L2229.1 1050.6L2230.4 1051.5L2231.1 1051.5L2233.5 1050.7L2234.4 1049L2236.5 1040.9L2237.8 1047.3L2238.3 1050.2L2240.5 1050.3L2243.1 1050.2L2246.2 1050L2248.6 1041.1L2250.3 1049.2L2251.8 1051.3L2255.3 1049.7L2255.7 1050.3L2257.7 1050.2L2260.5 1051.6L2262.5 1040.9L2264.5 1050.8L2266 1051.6L2267.1 1051.6L2268 1050.5L2270.4 1050L2272.9 1051.4L2274.5 1041.4L2276.2 1048.9L2276.7 1050.2L2278.9 1051.5L2280.7 1051.1L2282.4 1050.6L2284.4 1051.1L2286.8 1041.6L2288.8 1049.9L2289.6 1050.5L2292 1050.6" fill="none" stroke="#0000ff" stroke-width="9.2" stroke-dasharray="33 30" stroke-dashoffset="0" stroke-linejoin="miter" stroke-miterlimit="2"/>
<path d="M269.6 761.4L270.6 766.7L271.6 772.2L272.6 777.7L273.7 783.3L274.7 789L275.7 794.8L276.7 800.7L277.7 806.8L278.7 813.2L279.7 820L280.7 826.9L281.8 833.9L282.8 840.7L283.8 847.2L284.8 853.2L285.8 858.7L286.8 863.8L287.8 868.7L288.8 873.4L289.9 878.3L290.9 883.3L291.9 888.2L292.9 893.1L293.9 897.9L294.9 902.6L295.9 907.2L296.9 911.7L298 916.2L299 920.6L300 925L301 929.4L302 933.7L303 938L304 942.2L305 946.5L306.1 950.7L307.1 954.8L308.1 958.9L309.1 963L310.1 967L311.1 971.1L312.1 975.3L313.1 979.5L314.2 983.7L315.2 987.8L316.2 991.8L317.2 995.5L318.2 999.3L319.2 1002.9L320.2 1006.6L321.2 1010.2L322.2 1013.7L323.3 1017.2L324.3 1020.6L325.3 1024L326.3 1027.2L327.3 1030.4L328.3 1033.4L329.3 1036.4L330.4 1039.2L331.4 1041.9L332.4 1044.6L333.4 1047.1L334.4 1049.5L335.4 1051.9L336.4 1054.2L337.4 1056.4L338.5 1058.7L339.5 1060.9L340.5 1063.1L341.5 1065.3L342.5 1067.6L343.5 1069.8L344.5 1071.9L345.5 1074L346.6 1076.1L347.6 1078.1L348.6 1080L349.6 1081.7L350.6 1083.4L351.6 1085L352.6 1086.6L353.6 1088.2L354.7 1089.7L355.7 1091.2L356.7 1092.5L357.7 1093.8L358.7 1095L359.7 1096.2L360.7 1097.2L361.7 1098.2L362.8 1099L363.8 1099.9L364.8 1100.7L365.8 1101.5L366.8 1102.2L367.8 1102.9L368.8 1103.6L369.8 1104.2L370.9 1104.9L371.9 1105.5L372.9 1106.1L373.9 1106.7L374.9 1107.2L375.9 1107.8L376.9 1108.3L377.9 1108.8L379 1109.2L380 1109.7L381 1110.2L382 1110.6L383 1111.1L384 1111.6L385 1112L386 1112.5L387.1 1112.9L388.1 1113.3L389.1 1113.8L390.1 1114.2L391.1 1114.6L392.1 1115L393.1 1115.5L394.1 1115.9L395.2 1116.3L396.2 1116.7L397.2 1117L398.2 1117.4L399.2 1117.8L400.2 1118.2L401.2 1118.6L402.2 1118.9L403.2 1119.3L404.3 1119.6L405.3 1120L406.3 1120.3L407.3 1120.7L408.3 1121L409.3 1121.4L410.7 1120.9L411.8 1120.2L412.8 1119.6L413.8 1118.9L414.8 1118.2L415.8 1117.5L416.8 1116.8L417.8 1116.1L418.8 1115.4L419.9 1114.7L420.9 1113.9L421.9 1113.2L422.9 1112.4L423.9 1111.6L424.9 1110.8L425.9 1110.1L426.9 1109.3L428 1108.4L429 1107.6L430 1106.7L431 1105.9L432 1105L433 1104.1L434 1103.2L435 1102.2L436.1 1101.3L437.1 1100.4L438.1 1099.4L439.1 1098.5L440.1 1097.5L441.1 1096.6L442.1 1095.6L443.1 1094.6L444.2 1093.7L445.2 1092.7L446.2 1091.7L447.2 1090.7L448.2 1089.6L449.2 1088.6L450.2 1087.5L451.2 1086.5L452.3 1085.4L453.3 1084.4L454.3 1083.3L455.3 1082.3L456.3 1081.3L457.3 1080.3L458.3 1079.3L459.3 1078.4L460.4 1077.5L461.4 1076.7L462.4 1075.8L463.4 1075L464.4 1074.2L465.4 1073.4L466.4 1072.7L467.4 1071.9L468.5 1071.1L469.5 1070.4L470.5 1069.7L471.5 1069L472.5 1068.3L473.5 1067.6L474.5 1066.9L475.5 1066.2L476.6 1065.6L477.6 1064.9L478.6 1064.3L479.6 1063.6L480.6 1063L481.6 1062.4L482.6 1061.7L483.6 1061.1L484.7 1060.5L485.7 1059.8L486.7 1059.2L487.7 1058.6L488.7 1058L489.7 1057.4L490.7 1056.8L491.7 1056.2L492.8 1055.7L493.8 1055.2L494.8 1054.7L495.8 1054.2L496.8 1053.8L497.8 1053.4L498.8 1053.1L499.8 1052.7L500.9 1052.4L501.9 1052.1L502.9 1051.8L503.9 1051.5L504.9 1051.3L505.9 1051L506.9 1050.8L507.9 1050.6L509 1050.3L510 1050.1L511 1049.9L512 1049.8L513 1049.6L514 1049.5L515 1049.3L516 1049.2L517.1 1049L518.1 1048.9L519.1 1048.7L520.1 1048.6L521.1 1048.5L522.1 1048.4L523.1 1048.3L524.1 1048.2L525.2 1048.1L526.2 1048L527.2 1047.9L528.2 1047.9L529.2 1047.8L530.2 1047.8L531.2 1047.7L532.2 1047.7L533.3 1047.6L534.3 1047.6L535.3 1047.5L536.3 1047.5L537.3 1047.5L538.3 1047.4L539.3 1047.4L540.3 1047.4L541.4 1047.4L542.4 1047.3L543.4 1047.3L544.4 1047.3L545.4 1047.3L546.4 1047.3L547.4 1047.3L548.4 1047.3L549.5 1047.3L550.5 1047.3L551.5 1047.3L552.5 1047.3L553.5 1047.3L554.5 1047.3L555.5 1047.3L556.5 1047.3L557.6 1047.3L558.6 1047.3L559.6 1047.3L560.6 1047.3L561.6 1047.3L562.6 1047.3L563.6 1047.3L564.6 1047.3L565.7 1047.3L566.7 1047.3L567.7 1047.3L568.7 1047.3L569.7 1047.3L570.7 1047.3L571.7 1047.3L572.7 1047.3L2294.6 1047.3" fill="none" stroke="#ff0000" stroke-width="13" stroke-dasharray="48.5 46.3" stroke-dashoffset="4" stroke-linejoin="miter" stroke-miterlimit="2"/>
<clipPath id="c1"><rect x="454.9" y="674.6" width="347" height="290.8"/></clipPath>
<rect x="458.4" y="674.6" width="341.2" height="290.8" fill="#fff"/>
<line x1="460.8" y1="697.2" x2="797.2" y2="697.2" class="g"/>
<line x1="460.8" y1="786.5" x2="797.2" y2="786.5" class="g"/>
<line x1="460.8" y1="875.8" x2="797.2" y2="875.8" class="g"/>
<rect x="458.4" y="674.6" width="341.2" height="290.8" class="bx"/>
<line x1="458.4" y1="697.2" x2="464.7" y2="697.2" class="tk"/>
<line x1="799.6" y1="697.2" x2="793.3" y2="697.2" class="tk"/>
<line x1="458.4" y1="786.5" x2="464.7" y2="786.5" class="tk"/>
<line x1="799.6" y1="786.5" x2="793.3" y2="786.5" class="tk"/>
<line x1="458.4" y1="875.8" x2="464.7" y2="875.8" class="tk"/>
<line x1="799.6" y1="875.8" x2="793.3" y2="875.8" class="tk"/>
<g clip-path="url(#c1)">
<path d="M476.3 687.3L475.2 724.2" fill="none" stroke="#0000ff" stroke-width="9.7" stroke-linejoin="round"/>
<path d="M471.4 755L470.7 787.5" fill="none" stroke="#0000ff" stroke-width="9.7" stroke-linejoin="round"/>
<path d="M479.7 750.2L480.4 782.7" fill="none" stroke="#0000ff" stroke-width="9.7" stroke-linejoin="round"/>
<path d="M470.5 819.1L469.4 850.5" fill="none" stroke="#0000ff" stroke-width="9.7" stroke-linejoin="round"/>
<path d="M482.5 813.1L483.5 845.6" fill="none" stroke="#0000ff" stroke-width="9.7" stroke-linejoin="round"/>
<path d="M527.2 698.3L526.5 720.5" fill="none" stroke="#0000ff" stroke-width="9.7" stroke-linejoin="round"/>
<path d="M524 751.6L523.3 783.7" fill="none" stroke="#0000ff" stroke-width="9.7" stroke-linejoin="round"/>
<path d="M529.5 740.2L530.5 772.6" fill="none" stroke="#0000ff" stroke-width="9.7" stroke-linejoin="round"/>
<path d="M521.5 815.2L520.5 847.7" fill="none" stroke="#0000ff" stroke-width="9.7" stroke-linejoin="round"/>
<path d="M532.6 803.4L533.4 835.5" fill="none" stroke="#0000ff" stroke-width="9.7" stroke-linejoin="round"/>
<path d="M578.9 703.2L579.7 735.7" fill="none" stroke="#0000ff" stroke-width="9.7" stroke-linejoin="round"/>
<path d="M576.5 723.2L575.1 755.5" fill="none" stroke="#0000ff" stroke-width="9.7" stroke-linejoin="round"/>
<path d="M581.4 766.5L583.4 798.6" fill="none" stroke="#0000ff" stroke-width="9.7" stroke-linejoin="round"/>
<path d="M573.5 787.5L572.4 819.3" fill="none" stroke="#0000ff" stroke-width="9.7" stroke-linejoin="round"/>
<path d="M584.8 829L586.6 861.9" fill="none" stroke="#0000ff" stroke-width="9.7" stroke-linejoin="round"/>
<path d="M571.4 850.5L569.6 882.7" fill="none" stroke="#0000ff" stroke-width="9.7" stroke-linejoin="round"/>
<path d="M456.9 861.5L467.3 890.1" fill="none" stroke="#0000ff" stroke-width="9.7" stroke-linejoin="round"/>
<path d="M487.1 877.1L493.1 890.1L497.7 873" fill="none" stroke="#0000ff" stroke-width="9.7" stroke-linejoin="round"/>
<path d="M508.8 864.3L518.4 887.4" fill="none" stroke="#0000ff" stroke-width="9.7" stroke-linejoin="round"/>
<path d="M535.7 867.1L544 887.4L551.2 879.9" fill="none" stroke="#0000ff" stroke-width="9.7" stroke-linejoin="round"/>
<path d="M601.4 874L611.1 904" fill="none" stroke="#0000ff" stroke-width="9.7" stroke-linejoin="round"/>
<path d="M618 878.1L628.4 890.1L637 874" fill="none" stroke="#0000ff" stroke-width="9.7" stroke-linejoin="round"/>
<path d="M654.6 687.3L656.2 719.8" fill="none" stroke="#0000ff" stroke-width="9.2" stroke-linejoin="round"/>
<path d="M653.2 711.5L652.5 743.3" fill="none" stroke="#0000ff" stroke-width="9.2" stroke-linejoin="round"/>
<path d="M657.6 751.3L659.4 782.7" fill="none" stroke="#0000ff" stroke-width="9.2" stroke-linejoin="round"/>
<path d="M650.7 774.4L649.3 806.9" fill="none" stroke="#0000ff" stroke-width="9.2" stroke-linejoin="round"/>
<path d="M660.8 814.5L662.5 846.7" fill="none" stroke="#0000ff" stroke-width="9.2" stroke-linejoin="round"/>
<path d="M647.7 838L646.6 869.8" fill="none" stroke="#0000ff" stroke-width="9.2" stroke-linejoin="round"/>
<path d="M714.4 688L712.6 719.1" fill="none" stroke="#0000ff" stroke-width="9.2" stroke-linejoin="round"/>
<path d="M715.4 722.3L717.1 753.7" fill="none" stroke="#0000ff" stroke-width="9.2" stroke-linejoin="round"/>
<path d="M710.9 750.5L709.2 782.7" fill="none" stroke="#0000ff" stroke-width="9.2" stroke-linejoin="round"/>
<path d="M718.5 785.5L720.3 817.7" fill="none" stroke="#0000ff" stroke-width="9.2" stroke-linejoin="round"/>
<path d="M708.1 813.4L706.4 845.9" fill="none" stroke="#0000ff" stroke-width="9.2" stroke-linejoin="round"/>
<path d="M721.4 848.4L723 869.1L729.5 873.6" fill="none" stroke="#0000ff" stroke-width="9.2" stroke-linejoin="round"/>
<path d="M765.5 692.1L766.6 723.7" fill="none" stroke="#0000ff" stroke-width="9.2" stroke-linejoin="round"/>
<path d="M763.8 704.6L762.4 736.7" fill="none" stroke="#0000ff" stroke-width="9.2" stroke-linejoin="round"/>
<path d="M768.7 755.3L769.6 787.5" fill="none" stroke="#0000ff" stroke-width="9.2" stroke-linejoin="round"/>
<path d="M761 768.5L759.4 800" fill="none" stroke="#0000ff" stroke-width="9.2" stroke-linejoin="round"/>
<path d="M771.8 818.7L772.5 850.9" fill="none" stroke="#0000ff" stroke-width="9.2" stroke-linejoin="round"/>
<path d="M757.6 833.2L756.5 863.6" fill="none" stroke="#0000ff" stroke-width="9.2" stroke-linejoin="round"/>
<path d="M676.3 856L670.7 883.6" fill="none" stroke="#0000ff" stroke-width="9.2" stroke-linejoin="round"/>
<path d="M685 873.3L689.6 888.8L699.8 875.6" fill="none" stroke="#0000ff" stroke-width="9.2" stroke-linejoin="round"/>
<path d="M791.1 858.3L781.1 886.4" fill="none" stroke="#0000ff" stroke-width="9.2" stroke-linejoin="round"/>
<path d="M456.9 827.4L465.2 830.4L473.5 832.1L481.8 831.8L492.9 829L505.3 825.7" fill="none" stroke="#ff0000" stroke-width="13" stroke-linejoin="round"/>
<path d="M549.8 828.1L559.2 826.8L568.9 827.1L578.6 829.7L588.3 832.1L598.8 832.6" fill="none" stroke="#ff0000" stroke-width="13" stroke-linejoin="round"/>
<path d="M643.2 831.5L653.2 830.1L662.9 827.4L672.5 826.7L680.8 827.6L690.8 831.2" fill="none" stroke="#ff0000" stroke-width="13" stroke-linejoin="round"/>
<path d="M735.1 828.1L743.1 831.1L751.4 832.6L761 831.5L772.1 829L782.6 827.4" fill="none" stroke="#ff0000" stroke-width="13" stroke-linejoin="round"/>
</g>
<text x="443.4" y="720.9" text-anchor="end" class="t">1</text>
<text x="443.4" y="810.2" text-anchor="end" class="t">0</text>
<text x="443.4" y="899.5" text-anchor="end" class="t">-1</text>
<text x="443.4" y="988.8" text-anchor="end" class="t">-2</text>
<text x="457.4" y="1042.2" text-anchor="middle" class="t">100</text>
<text x="798.6" y="1042.2" text-anchor="middle" class="t">120</text>
<line x1="674.6" y1="1389.1" x2="674.6" y2="1701" class="g"/>
<line x1="1079.6" y1="1389.1" x2="1079.6" y2="1701" class="g"/>
<line x1="1484.6" y1="1389.1" x2="1484.6" y2="1701" class="g"/>
<line x1="1889.6" y1="1389.1" x2="1889.6" y2="1701" class="g"/>
<line x1="272" y1="1398.8" x2="2292.2" y2="1398.8" class="g"/>
<line x1="272" y1="1523.1" x2="2292.2" y2="1523.1" class="g"/>
<line x1="272" y1="1647.4" x2="2292.2" y2="1647.4" class="g"/>
<rect x="269.6" y="1361.4" width="2025" height="365" class="bx"/>
<line x1="674.6" y1="1726.4" x2="674.6" y2="1704.2" class="tk"/>
<line x1="674.6" y1="1361.4" x2="674.6" y2="1385.6" class="tk"/>
<line x1="1079.6" y1="1726.4" x2="1079.6" y2="1704.2" class="tk"/>
<line x1="1079.6" y1="1361.4" x2="1079.6" y2="1385.6" class="tk"/>
<line x1="1484.6" y1="1726.4" x2="1484.6" y2="1704.2" class="tk"/>
<line x1="1484.6" y1="1361.4" x2="1484.6" y2="1385.6" class="tk"/>
<line x1="1889.6" y1="1726.4" x2="1889.6" y2="1704.2" class="tk"/>
<line x1="1889.6" y1="1361.4" x2="1889.6" y2="1385.6" class="tk"/>
<line x1="269.6" y1="1398.8" x2="292.6" y2="1398.8" class="tk"/>
<line x1="2294.6" y1="1398.8" x2="2271.6" y2="1398.8" class="tk"/>
<line x1="269.6" y1="1523.1" x2="292.6" y2="1523.1" class="tk"/>
<line x1="2294.6" y1="1523.1" x2="2271.6" y2="1523.1" class="tk"/>
<line x1="269.6" y1="1647.4" x2="292.6" y2="1647.4" class="tk"/>
<line x1="2294.6" y1="1647.4" x2="2271.6" y2="1647.4" class="tk"/>
<text x="268.4" y="1803.2" text-anchor="middle" class="t">0</text>
<text x="673.4" y="1803.2" text-anchor="middle" class="t">100</text>
<text x="1078.4" y="1803.2" text-anchor="middle" class="t">200</text>
<text x="1483.4" y="1803.2" text-anchor="middle" class="t">300</text>
<text x="1888.4" y="1803.2" text-anchor="middle" class="t">400</text>
<text x="2293.4" y="1803.2" text-anchor="middle" class="t">500</text>
<text x="254" y="1422.5" text-anchor="end" class="t">200</text>
<text x="254" y="1546.8" text-anchor="end" class="t">100</text>
<text x="254" y="1671.1" text-anchor="end" class="t">0</text>
<text x="1279.6" y="1884.8" text-anchor="middle" class="t">Time (s)</text>
<text transform="translate(99.4 1680.5) rotate(-90) scale(1.27 0.86)" class="t" font-style="italic" style="stroke:none">τ</text>
<text transform="translate(130.3 1638.1) rotate(-90)" class="t sub" text-anchor="middle">3</text>
<text transform="translate(97.9 1507.5) rotate(-90)" class="t" text-anchor="middle">(kN·m)</text>
<path d="M269.6 1362.3L270.6 1368.1L271.6 1374.1L272.6 1380.2L273.7 1386.4L274.7 1392.8L275.7 1399.4L276.7 1406.1L277.7 1412.8L278.7 1419.5L279.7 1426.1L280.7 1432.8L281.8 1439.4L282.8 1446.1L283.8 1452.7L284.8 1459.3L285.8 1465.8L286.8 1472.1L287.8 1478.3L288.8 1484.4L289.9 1490.3L290.9 1496.2L291.9 1501.9L292.9 1507.6L293.9 1513.3L294.9 1518.8L295.9 1524.3L296.9 1529.8L298 1535.2L299 1540.6L300 1545.8L301 1551.1L302 1556.2L303 1561.3L304 1566.4L305 1571.3L306.1 1576.2L307.1 1581.1L308.1 1586L309.1 1590.8L310.1 1595.6L311.1 1600.3L312.1 1604.8L313.1 1609.3L314.2 1613.7L315.2 1618L316.2 1622.1L317.2 1626.2L318.2 1630.2L319.2 1634.2L320.2 1638L321.2 1641.8L322.2 1645.6L323.3 1649.2L324.3 1652.8L325.3 1656.3L326.3 1659.7L327.3 1663L328.3 1666.2L329.3 1669.5L330.4 1672.6L331.4 1675.7L332.4 1678.7L333.4 1681.4L334.4 1684L335.4 1686.4L336.4 1688.6L337.4 1690.8L338.5 1692.9L339.5 1694.9L340.5 1696.8L341.5 1698.6L342.5 1700.4L343.5 1702L344.5 1703.6L345.5 1705.1L346.6 1706.4L347.6 1707.8L348.6 1709L349.6 1710.3L350.6 1711.5L351.6 1712.6L352.6 1713.7L353.6 1714.7L354.7 1715.7L355.7 1716.6L356.7 1717.4L357.7 1718.2L358.7 1718.9L359.7 1719.5L360.7 1720.1L361.7 1720.7L362.8 1721.3L363.8 1721.8L364.8 1722.3L365.8 1722.8L366.8 1723.2L367.8 1723.6L368.8 1723.9L369.8 1724.2L370.9 1724.5L371.9 1724.7L372.9 1724.9L373.9 1725.1L374.9 1725.2L375.9 1725.4L376.9 1725.5L377.9 1725.6L379 1725.7L380 1725.7L381 1725.7L382 1725.7L383 1725.6L384 1725.6L385 1725.5L386 1725.5L387.1 1725.4L388.1 1725.3L389.1 1725.2L390.1 1725.2L391.1 1725.1L392.1 1725L393.1 1724.9L394.1 1724.8L395.2 1724.7L396.2 1724.6L397.2 1724.4L398.2 1724.3L399.2 1724.2L400.2 1724L401.2 1723.9L402.2 1723.7L403.2 1723.6L404.3 1723.4L405.3 1723.2L406.3 1723.1L407.3 1722.9L408.3 1722.7L409.3 1722.6L410.3 1722.4L411.4 1722.2L412.4 1722.1L413.4 1721.9L414.4 1721.8L415.4 1721.6L416.4 1721.4L417.4 1721.3L418.4 1721.1L419.5 1720.9L420.5 1720.8L421.5 1720.6L422.5 1720.4L423.5 1720.3L424.5 1720.1L425.5 1719.9L426.5 1719.7L427.6 1719.6L428.6 1719.4L429.6 1719.2L430.6 1719L431.6 1718.9L432.6 1718.7L433.6 1718.5L434.6 1718.4L435.6 1718.2L436.7 1718L437.7 1717.8L438.7 1717.7L439.7 1717.5L440.7 1717.3L441.7 1717.1L442.7 1717L443.8 1716.8L444.8 1716.6L445.8 1716.4L446.8 1716.3L447.8 1716.1L448.8 1715.9L449.8 1715.7L450.8 1715.5L451.9 1715.4L452.9 1715.2L454.7 1707.9L455.7 1707.5L456.7 1707L457.7 1706.6L458.7 1706.2L459.7 1705.7L460.8 1705.3L461.8 1704.9L462.8 1704.5L463.8 1704.1L464.8 1703.7L465.8 1703.3L466.8 1702.9L467.8 1702.5L468.9 1702.1L469.9 1701.7L470.9 1701.4L471.9 1701L472.9 1700.7L473.9 1700.3L474.9 1700L475.9 1699.7L477 1699.4L478 1699L479 1698.7L480 1698.4L481 1698.1L482 1697.9L483 1697.6L484 1697.3L485.1 1697L486.1 1696.7L487.1 1696.5L488.1 1696.2L489.1 1696L490.1 1695.7L491.1 1695.5L492.1 1695.2L493.2 1695L494.2 1694.7L495.2 1694.5L496.2 1694.2L497.2 1694L498.2 1693.8L499.2 1693.5L500.2 1693.3L501.3 1693L502.3 1692.8L503.3 1692.6L504.3 1692.3L505.3 1692.1L506.3 1691.9L507.3 1691.7L508.3 1691.4L509.4 1691.2L510.4 1691L511.4 1690.8L512.4 1690.6L513.4 1690.4L514.4 1690.2L515.4 1690L516.4 1689.8L517.5 1689.6L518.5 1689.4L519.5 1689.2L520.5 1689.1L521.5 1688.9L522.5 1688.8L523.5 1688.6L524.5 1688.4L525.6 1688.3L526.6 1688.1L527.6 1688L528.6 1687.8L529.6 1687.7L530.6 1687.6L531.6 1687.4L532.6 1687.3L533.7 1687.2L534.7 1687.1L535.7 1686.9L536.7 1686.8L537.7 1686.7L538.7 1686.6L539.7 1686.5L540.7 1686.4L541.8 1686.4L542.8 1686.3L543.8 1686.2L544.8 1686.2L545.8 1686.1L546.8 1686L547.8 1686L548.8 1685.9L549.9 1685.8L550.9 1685.8L551.9 1685.7L552.9 1685.7L553.9 1685.6L554.9 1685.5L555.9 1685.5L556.9 1685.4L558 1685.4L559 1685.3L560 1685.3L561 1685.3L562 1685.2L563 1685.2L564 1685.1L565 1685.1L566.1 1685.1L567.1 1685L568.1 1685L569.1 1685L570.1 1685L571.1 1685L572.1 1685L573.1 1684.9L574.2 1684.9L575.2 1684.9L576.2 1684.9L577.2 1684.9L578.2 1684.9L579.2 1684.9L580.2 1684.9L581.2 1684.9L582.3 1684.9L583.3 1684.9L584.3 1684.9L585.3 1684.8L586.3 1684.8L587.3 1684.8L588.3 1684.8L589.3 1684.8L590.4 1684.8L591.4 1684.8L592.4 1684.8L593.4 1684.8L594.4 1684.8L595.4 1684.8L596.4 1684.8L597.4 1684.8L598.5 1684.8L599.5 1684.8L600.5 1684.8L601.5 1684.8L602.5 1684.7L603.5 1684.7L604.5 1684.7L605.5 1684.7L606.6 1684.7L607.6 1684.7L608.6 1684.7L609.6 1684.7L610.6 1684.7L611.6 1684.7L612.6 1684.7L613.6 1684.7L614.7 1684.7L615.7 1684.7L616.7 1684.7L617.7 1684.7L618.7 1684.7L619.7 1684.7L620.7 1684.7L621.7 1684.7L622.8 1684.7L623.8 1684.7L624.8 1684.6L625.8 1684.6L626.8 1684.6L627.8 1684.6L628.8 1684.6L629.8 1684.6L630.9 1684.6L631.9 1684.6L632.9 1684.6L633.9 1684.6L634.9 1684.6L635.9 1684.6L636.9 1684.6L637.9 1684.6L639 1684.6L640 1684.6L641 1684.6L642 1684.6L643 1684.6L644 1684.6L645 1684.6L646 1684.6L647.1 1684.6L648.1 1684.6L649.1 1684.6L650.1 1684.6L651.1 1684.6L652.1 1684.6L653.1 1684.6L654.1 1684.6L655.2 1684.6L656.2 1684.6L657.2 1684.6L658.2 1684.6L659.2 1684.6L660.2 1684.6L661.2 1684.6L662.2 1684.6L663.3 1684.6L664.3 1684.6L665.3 1684.6L666.3 1684.6L667.3 1684.6L668.3 1684.6L669.3 1684.6L670.3 1684.6L671.4 1684.6L672.4 1684.6L673.4 1684.6L674.4 1684.6L675.4 1684.6L676.4 1684.6L677.4 1684.6L678.4 1684.6L679.5 1684.6L680.5 1684.6L681.5 1684.6L682.5 1684.6L683.5 1684.6L684.5 1684.6L685.5 1684.6L686.5 1684.6L687.6 1684.6L688.6 1684.6L689.6 1684.6L690.6 1684.6L691.6 1684.6L692.6 1684.6L693.6 1684.6L694.6 1684.6L695.7 1684.6L696.7 1684.6L697.7 1684.6L698.7 1684.6L699.7 1684.6L700.7 1684.6L701.7 1684.6L702.7 1684.6L703.8 1684.6L704.8 1684.6L705.8 1684.6L706.8 1684.6L707.8 1684.6L708.8 1684.6L709.8 1684.6L710.8 1684.6L711.9 1684.6L712.9 1684.6L713.9 1684.6L714.9 1684.6L715.9 1684.6L716.9 1684.6L717.9 1684.6L718.9 1684.6L720 1684.6L721 1684.6L722 1684.6L723 1684.6L724 1684.6L725 1684.6L726 1684.6L727 1684.6L728.1 1684.6L729.1 1684.6L730.1 1684.7L731.1 1684.7L732.1 1684.7L733.1 1684.7L734.1 1684.7L735.1 1684.7L736.2 1684.7L737.2 1684.7L738.2 1684.7L739.2 1684.7L740.2 1684.7L741.2 1684.7L742.2 1684.7L743.2 1684.7L744.3 1684.7L745.3 1684.7L746.3 1684.7L747.3 1684.7L748.3 1684.7L749.3 1684.7L750.3 1684.7L751.3 1684.7L752.4 1684.7L753.4 1684.7L754.4 1684.7L755.4 1684.7L2294.6 1685.4" fill="none" stroke="#0000ff" stroke-width="9.2" stroke-dasharray="32.4 7.2 16.65 7.1" stroke-dashoffset="36.8" stroke-linejoin="miter" stroke-miterlimit="2"/>
<path d="M269.6 1362.3L270.6 1369L271.6 1375.7L272.6 1382.4L273.7 1389.1L274.7 1395.8L275.7 1402.5L276.7 1409.2L277.7 1415.9L278.7 1422.6L279.7 1429.3L280.7 1436L281.8 1442.7L282.8 1449.5L283.8 1456.2L284.8 1462.9L285.8 1469.5L286.8 1475.9L287.8 1482.1L288.8 1488.1L289.9 1494.1L290.9 1499.9L291.9 1505.7L292.9 1511.4L293.9 1517L294.9 1522.6L295.9 1528.1L296.9 1533.5L298 1538.9L299 1544.3L300 1549.6L301 1554.8L302 1560L303 1565.1L304 1570.1L305 1575L306.1 1580L307.1 1584.9L308.1 1589.8L309.1 1594.6L310.1 1599.3L311.1 1604L312.1 1608.6L313.1 1613.1L314.2 1617.5L315.2 1621.7L316.2 1625.8L317.2 1629.9L318.2 1633.8L319.2 1637.7L320.2 1641.5L321.2 1645.2L322.2 1648.9L323.3 1652.5L324.3 1656L325.3 1659.4L326.3 1662.8L327.3 1666.1L328.3 1669.4L329.3 1672.6L330.4 1675.9L331.4 1679L332.4 1682L333.4 1684.7L334.4 1687.3L335.4 1689.6L336.4 1691.7L337.4 1693.8L338.5 1695.8L339.5 1697.6L340.5 1699.4L341.5 1701.1L342.5 1702.7L343.5 1704.3L344.5 1705.7L345.5 1707.1L346.6 1708.3L347.6 1709.5L348.6 1710.7L349.6 1711.8L350.6 1712.8L351.6 1713.9L352.6 1714.9L353.6 1715.8L354.7 1716.6L355.7 1717.5L356.7 1718.2L357.7 1718.9L358.7 1719.5L359.7 1720.1L360.7 1720.6L361.7 1721.1L362.8 1721.7L363.8 1722.1L364.8 1722.6L365.8 1723L366.8 1723.4L367.8 1723.7L368.8 1724L369.8 1724.3L370.9 1724.5L371.9 1724.6L372.9 1724.8L373.9 1724.9L374.9 1725.1L375.9 1725.2L376.9 1725.3L377.9 1725.4L379 1725.4L380 1725.5L381 1725.5L382 1725.4L383 1725.4L384 1725.3L385 1725.2L386 1725.1L387.1 1725L388.1 1724.9L389.1 1724.7L390.1 1724.6L391.1 1724.5L392.1 1724.3L393.1 1724.2L394.1 1724L395.2 1723.9L396.2 1723.7L397.2 1723.5L398.2 1723.3L399.2 1723.1L400.2 1722.8L401.2 1722.6L402.2 1722.4L403.2 1722.1L404.3 1721.8L405.3 1721.6L406.3 1721.3L407.3 1721L408.3 1720.7L409.3 1720.5L410.3 1720.2L411.4 1719.9L412.4 1719.6L413.4 1719.2L414.4 1718.9L415.4 1718.6L416.4 1718.2L417.4 1717.8L418.4 1717.4L419.5 1717L420.5 1716.5L421.5 1716.1L422.5 1715.6L423.5 1715.2L424.5 1714.7L425.5 1714.2L426.5 1713.8L427.6 1713.3L428.6 1712.8L429.6 1712.3L430.6 1711.9L431.6 1711.4L432.6 1711L433.6 1710.5L434.6 1710L435.6 1709.5L436.7 1709L437.7 1708.6L438.7 1708.1L439.7 1707.6L440.7 1707.1L441.7 1706.6L442.7 1706.1L443.8 1705.6L444.8 1705L445.8 1704.5L446.8 1704L447.8 1703.6L448.8 1703.1L449.8 1702.6L450.8 1702.1L451.9 1701.6L452.9 1701.1L453.9 1700.7L454.9 1700.2L455.9 1699.8L456.9 1699.3L457.9 1698.9L458.9 1698.4L460 1698L461 1697.5L462 1697.1L463 1696.7L464 1696.2L465 1695.8L466 1695.4L467 1694.9L468.1 1694.5L469.1 1694.1L470.1 1693.7L471.1 1693.3L472.1 1692.9L473.1 1692.6L474.1 1692.2L475.1 1691.9L476.1 1691.5L477.2 1691.2L478.2 1690.9L479.2 1690.6L480.2 1690.3L481.2 1690L482.2 1689.7L483.2 1689.4L484.2 1689.1L485.3 1688.8L486.3 1688.5L487.3 1688.3L488.3 1688L489.3 1687.7L490.3 1687.5L491.3 1687.2L492.4 1687L493.4 1686.7L494.4 1686.5L495.4 1686.2L496.4 1686L497.4 1685.7L498.4 1685.5L499.4 1685.2L500.5 1685L501.5 1684.8L502.5 1684.5L503.5 1684.3L504.5 1684L505.5 1683.8L506.5 1683.5L507.5 1683.3L508.6 1683L509.6 1682.8L510.6 1682.6L511.6 1682.4L512.6 1682.1L513.6 1681.9L514.6 1681.7L515.6 1681.5L516.6 1681.3L517.7 1681.2L518.7 1681L519.7 1680.9L520.7 1680.7L521.7 1680.6L522.7 1680.5L523.7 1680.3L524.8 1680.2L525.8 1680.1L526.8 1679.9L527.8 1679.8L528.8 1679.7L529.8 1679.6L530.8 1679.5L531.8 1679.4L532.9 1679.2L533.9 1679.1L534.9 1679.1L535.9 1679L536.9 1678.9L537.9 1678.8L538.9 1678.7L539.9 1678.7L541 1678.6L542 1678.6L543 1678.5L544 1678.5L545 1678.5L546 1678.5L547 1678.4L548 1678.4L549 1678.4L550.1 1678.4L551.1 1678.4L552.1 1678.4L553.1 1678.4L554.1 1678.3L555.1 1678.3L556.1 1678.3L557.2 1678.3L558.2 1678.3L559.2 1678.3L560.2 1678.3L561.2 1678.3L562.2 1678.3L563.2 1678.3L564.2 1678.3L565.2 1678.2L566.3 1678.2L567.3 1678.2L568.3 1678.2L569.3 1678.2L570.3 1678.2L571.3 1678.2L572.3 1678.2L573.4 1678.2L2294.6 1678.2" fill="none" stroke="#ff0000" stroke-width="13" stroke-dasharray="48.6 46.4" stroke-dashoffset="94.8" stroke-linejoin="miter" stroke-miterlimit="2"/>
<clipPath id="c2"><rect x="457.8" y="1280.5" width="346.3" height="330.1"/></clipPath>
<rect x="458.8" y="1280.5" width="343" height="330.1" fill="#fff"/>
<line x1="461.2" y1="1390.5" x2="799.4" y2="1390.5" class="g"/>
<line x1="461.2" y1="1500.2" x2="799.4" y2="1500.2" class="g"/>
<rect x="458.8" y="1280.5" width="343" height="330.1" class="bx"/>
<line x1="458.8" y1="1390.5" x2="465.1" y2="1390.5" class="tk"/>
<line x1="801.8" y1="1390.5" x2="795.5" y2="1390.5" class="tk"/>
<line x1="458.8" y1="1500.2" x2="465.1" y2="1500.2" class="tk"/>
<line x1="801.8" y1="1500.2" x2="795.5" y2="1500.2" class="tk"/>
<g clip-path="url(#c2)">
<path d="M457.8 1489.6L804.8 1493.5" fill="none" stroke="#0000ff" stroke-width="9.2" stroke-dasharray="32.4 7.2 16.65 7.1" stroke-dashoffset="0" stroke-linejoin="miter" stroke-miterlimit="2"/>
<path d="M457.8 1372.4L804.8 1372.4" fill="none" stroke="#ff0000" stroke-width="13" stroke-dasharray="48.6 46.4" stroke-dashoffset="0" stroke-linejoin="miter" stroke-miterlimit="2"/>
</g>
<text x="443.2" y="1304.5" text-anchor="end" class="t">-20</text>
<text x="443.2" y="1414.2" text-anchor="end" class="t">-25</text>
<text x="443.2" y="1523.9" text-anchor="end" class="t">-30</text>
<text x="443.2" y="1633.6" text-anchor="end" class="t">-35</text>
<text x="457.8" y="1687.4" text-anchor="middle" class="t">100</text>
<text x="800.8" y="1687.4" text-anchor="middle" class="t">120</text>
<line x1="507.8" y1="80.8" x2="746.5" y2="80.8" stroke="#0000ff" stroke-width="9.3" stroke-dasharray="33.3 29.8"/>
<text x="764.2" y="101.8" text-anchor="start" class="lg">SFTC with SMDO</text>
<line x1="1245.9" y1="81.1" x2="1484.6" y2="81.1" stroke="#ff0000" stroke-width="13" stroke-dasharray="48 47"/>
<text x="1501.6" y="101.8" text-anchor="start" class="lg">SFTC with ADO</text>
</svg>
</body></html>
